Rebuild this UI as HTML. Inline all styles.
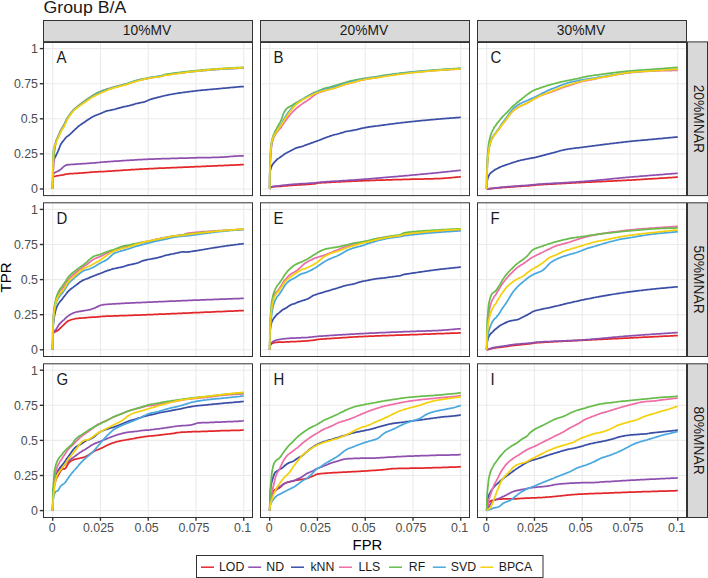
<!DOCTYPE html><html><head><meta charset="utf-8"><style>html,body{margin:0;padding:0;background:#fff;overflow:hidden;}svg{display:block;}text{font-family:"Liberation Sans",sans-serif;}</style></head><body>
<svg width="708" height="578" viewBox="0 0 708 578">
<rect x="0" y="0" width="708" height="578" fill="#fff"/>
<text x="43.6" y="12.8" font-size="17.2" fill="#1a1a1a" textLength="82.6" lengthAdjust="spacingAndGlyphs">Group B/A</text>
<rect x="43.5" y="20.5" width="209" height="21" fill="#D9D9D9" stroke="#333" stroke-width="1"/>
<text x="147.0" y="35" font-size="13.8" fill="#1a1a1a" text-anchor="middle">10%MV</text>
<rect x="260.5" y="20.5" width="209" height="21" fill="#D9D9D9" stroke="#333" stroke-width="1"/>
<text x="364.0" y="35" font-size="13.8" fill="#1a1a1a" text-anchor="middle">20%MV</text>
<rect x="477.5" y="20.5" width="209" height="21" fill="#D9D9D9" stroke="#333" stroke-width="1"/>
<text x="581.0" y="35" font-size="13.8" fill="#1a1a1a" text-anchor="middle">30%MV</text>
<rect x="687.5" y="41.9" width="20" height="153.7" fill="#D9D9D9" stroke="#333" stroke-width="1"/>
<text transform="translate(693.8,118.8) rotate(90)" x="0" y="0" font-size="13.8" fill="#1a1a1a" text-anchor="middle">20%MNAR</text>
<rect x="687.5" y="202.8" width="20" height="153.7" fill="#D9D9D9" stroke="#333" stroke-width="1"/>
<text transform="translate(693.8,279.6) rotate(90)" x="0" y="0" font-size="13.8" fill="#1a1a1a" text-anchor="middle">50%MNAR</text>
<rect x="687.5" y="363.8" width="20" height="153.7" fill="#D9D9D9" stroke="#333" stroke-width="1"/>
<text transform="translate(693.8,440.6) rotate(90)" x="0" y="0" font-size="13.8" fill="#1a1a1a" text-anchor="middle">80%MNAR</text>
<rect x="43.5" y="41.9" width="209" height="153.7" fill="#fff"/>
<path d="M52.70,41.9 V195.6 M100.46,41.9 V195.6 M148.23,41.9 V195.6 M195.99,41.9 V195.6 M243.75,41.9 V195.6 M43.5,189.00 H252.5 M43.5,153.90 H252.5 M43.5,118.80 H252.5 M43.5,83.70 H252.5 M43.5,48.60 H252.5" stroke="#EBEBEB" stroke-width="1.1" fill="none"/>
<g clip-path="url(#cp0)" fill="none" stroke-width="1.75" stroke-linejoin="round" stroke-linecap="butt">
<path d="M52.7,189.0 L52.8,179.8 L53.0,177.5 L53.0,177.5 L53.6,176.7 L53.7,176.7 L54.0,176.5 L54.6,176.3 L55.6,176.1 L56.0,176.0 L56.5,175.9 L57.5,175.8 L58.0,175.7 L58.4,175.6 L59.4,175.5 L60.3,175.3 L61.3,175.1 L61.9,175.1 L62.3,175.0 L63.2,174.8 L64.2,174.6 L65.1,174.3 L66.1,174.1 L67.0,174.0 L68.0,173.9 L68.9,173.8 L69.9,173.7 L70.8,173.7 L71.8,173.6 L72.8,173.5 L73.7,173.5 L74.7,173.4 L75.6,173.4 L76.6,173.3 L77.5,173.3 L78.5,173.2 L79.4,173.1 L80.4,173.1 L81.4,173.0 L82.3,172.9 L83.3,172.9 L84.2,172.8 L85.2,172.7 L86.1,172.6 L87.1,172.6 L88.0,172.5 L89.0,172.4 L90.0,172.3 L90.9,172.2 L91.9,172.2 L92.8,172.1 L93.8,172.0 L94.7,171.9 L95.7,171.9 L96.6,171.8 L97.6,171.8 L98.6,171.7 L99.5,171.7 L100.5,171.7 L101.4,171.6 L102.4,171.6 L103.3,171.5 L104.3,171.5 L105.2,171.4 L106.2,171.3 L107.1,171.3 L108.1,171.2 L109.1,171.1 L110.0,171.1 L111.0,171.0 L111.9,171.0 L112.9,170.9 L113.8,170.8 L114.8,170.8 L115.7,170.7 L116.7,170.6 L117.7,170.6 L118.6,170.5 L119.6,170.5 L120.5,170.4 L121.5,170.3 L122.4,170.3 L123.4,170.2 L124.3,170.1 L125.3,170.1 L126.3,170.0 L127.2,170.0 L128.2,169.9 L129.1,169.8 L130.1,169.8 L131.0,169.7 L132.0,169.7 L132.9,169.6 L133.9,169.5 L134.9,169.5 L135.8,169.4 L136.8,169.4 L137.7,169.3 L138.7,169.3 L139.6,169.2 L140.6,169.2 L141.5,169.1 L142.5,169.1 L143.4,169.0 L144.4,168.9 L145.4,168.9 L146.3,168.8 L147.3,168.8 L148.2,168.8 L149.2,168.7 L150.1,168.7 L151.1,168.6 L152.0,168.6 L153.0,168.5 L154.0,168.5 L154.9,168.4 L155.9,168.4 L156.8,168.3 L157.8,168.3 L158.7,168.2 L159.7,168.2 L160.6,168.2 L161.6,168.1 L162.6,168.1 L163.5,168.0 L164.5,168.0 L165.4,168.0 L166.4,167.9 L167.3,167.9 L168.3,167.8 L169.2,167.8 L170.2,167.8 L171.2,167.7 L172.1,167.7 L173.1,167.6 L174.0,167.6 L175.0,167.6 L175.9,167.5 L176.9,167.5 L177.8,167.4 L178.8,167.4 L179.7,167.4 L180.7,167.3 L181.7,167.3 L182.6,167.3 L183.6,167.2 L184.5,167.2 L185.5,167.1 L186.4,167.1 L187.4,167.1 L188.3,167.0 L189.3,167.0 L190.3,166.9 L191.2,166.9 L192.2,166.9 L193.1,166.8 L194.1,166.8 L195.0,166.7 L196.0,166.7 L196.9,166.7 L197.9,166.6 L198.9,166.6 L199.8,166.5 L200.8,166.5 L201.7,166.4 L202.7,166.4 L203.6,166.4 L204.6,166.3 L205.5,166.3 L206.5,166.2 L207.5,166.2 L208.4,166.2 L209.4,166.1 L210.3,166.1 L211.3,166.0 L212.2,166.0 L213.2,165.9 L214.1,165.9 L215.1,165.9 L216.0,165.8 L217.0,165.8 L218.0,165.7 L218.9,165.7 L219.9,165.7 L220.8,165.6 L221.8,165.6 L222.7,165.5 L223.7,165.5 L224.6,165.4 L225.6,165.4 L226.6,165.4 L227.5,165.3 L228.5,165.3 L229.4,165.2 L230.4,165.2 L231.3,165.2 L232.3,165.1 L233.2,165.1 L234.2,165.0 L235.2,165.0 L236.1,164.9 L237.1,164.9 L238.0,164.9 L239.0,164.8 L239.9,164.8 L240.9,164.7 L241.8,164.7 L242.8,164.7 L243.8,164.6" stroke="#E3262A"/>
<path d="M52.7,189.0 L52.8,177.9 L53.0,174.7 L53.0,174.6 L53.6,173.5 L53.7,173.4 L54.6,172.8 L55.0,172.6 L55.6,172.2 L56.5,171.7 L57.5,171.3 L57.5,171.3 L58.4,170.9 L59.0,170.6 L59.4,170.4 L60.3,169.6 L60.4,169.5 L61.3,168.9 L61.9,168.3 L62.3,167.9 L63.2,167.0 L63.4,166.8 L63.9,166.5 L64.2,166.3 L65.1,165.7 L66.1,165.1 L67.0,164.8 L68.0,164.7 L68.9,164.6 L69.9,164.5 L70.8,164.5 L71.8,164.4 L72.8,164.4 L73.7,164.3 L74.7,164.3 L75.6,164.2 L76.6,164.1 L77.5,164.1 L78.5,164.0 L79.4,163.9 L80.4,163.9 L81.4,163.8 L82.3,163.7 L83.3,163.7 L84.2,163.6 L85.2,163.5 L86.1,163.5 L87.1,163.4 L88.0,163.4 L89.0,163.3 L90.0,163.2 L90.9,163.2 L91.9,163.1 L92.8,163.0 L93.8,162.9 L94.7,162.9 L95.7,162.8 L96.6,162.7 L97.6,162.6 L98.6,162.5 L99.5,162.4 L100.5,162.3 L101.4,162.2 L102.4,162.1 L103.3,162.0 L104.3,161.9 L105.2,161.9 L106.2,161.8 L107.1,161.8 L108.1,161.7 L109.1,161.6 L110.0,161.6 L111.0,161.5 L111.9,161.4 L112.9,161.4 L113.8,161.3 L114.8,161.2 L115.7,161.2 L116.7,161.1 L117.7,161.0 L118.6,161.0 L119.6,160.9 L120.5,160.8 L121.5,160.8 L122.4,160.7 L123.4,160.6 L124.3,160.6 L125.3,160.5 L126.3,160.4 L127.2,160.4 L128.2,160.3 L129.1,160.3 L130.1,160.2 L131.0,160.1 L132.0,160.1 L132.9,160.0 L133.9,160.0 L134.9,159.9 L135.8,159.9 L136.8,159.8 L137.7,159.7 L138.7,159.7 L139.6,159.6 L140.6,159.6 L141.5,159.5 L142.5,159.5 L143.4,159.4 L144.4,159.4 L145.4,159.4 L146.3,159.3 L147.3,159.3 L148.2,159.2 L149.2,159.2 L150.1,159.2 L151.1,159.1 L152.0,159.1 L153.0,159.0 L154.0,159.0 L154.9,159.0 L155.9,158.9 L156.8,158.9 L157.8,158.9 L158.7,158.8 L159.7,158.8 L160.6,158.8 L161.6,158.7 L162.6,158.7 L163.5,158.7 L164.5,158.6 L165.4,158.6 L166.4,158.6 L167.3,158.6 L168.3,158.5 L169.2,158.5 L170.2,158.5 L171.2,158.4 L172.1,158.4 L173.1,158.4 L174.0,158.4 L175.0,158.3 L175.9,158.3 L176.9,158.3 L177.8,158.3 L178.8,158.2 L179.7,158.2 L180.7,158.2 L181.7,158.1 L182.6,158.1 L183.6,158.1 L184.5,158.1 L185.5,158.0 L186.4,158.0 L187.4,158.0 L188.3,158.0 L189.3,157.9 L190.3,157.9 L191.2,157.9 L192.2,157.9 L193.1,157.8 L194.1,157.8 L195.0,157.8 L196.0,157.8 L196.9,157.7 L197.9,157.7 L198.9,157.7 L199.8,157.7 L200.8,157.7 L201.7,157.6 L202.7,157.6 L203.6,157.6 L204.6,157.6 L205.5,157.6 L206.5,157.5 L207.5,157.5 L208.4,157.5 L209.4,157.5 L210.3,157.5 L211.3,157.5 L212.2,157.4 L213.2,157.4 L214.1,157.4 L215.1,157.4 L216.0,157.3 L217.0,157.3 L218.0,157.3 L218.9,157.3 L219.9,157.2 L220.8,157.2 L221.8,157.1 L222.7,157.1 L223.7,157.0 L224.6,157.0 L225.6,156.9 L226.6,156.8 L227.5,156.8 L228.5,156.7 L229.4,156.6 L230.4,156.5 L231.3,156.4 L232.3,156.4 L233.2,156.3 L234.2,156.2 L235.2,156.2 L236.1,156.1 L237.1,156.1 L238.0,156.0 L239.0,155.9 L239.9,155.9 L240.9,155.8 L241.8,155.8 L242.8,155.8 L243.8,155.7" stroke="#8E4FAE"/>
<path d="M52.7,189.0 L52.8,183.1 L53.0,175.2 L53.0,173.7 L53.4,164.3 L53.5,162.9 L53.6,162.2 L53.7,161.8 L54.4,158.8 L54.5,158.5 L54.6,158.2 L55.6,156.3 L56.0,155.5 L56.0,155.5 L56.1,155.4 L56.5,154.4 L57.5,152.4 L57.8,151.8 L58.4,150.2 L59.0,148.9 L59.4,147.8 L59.5,147.5 L60.3,145.2 L60.4,145.1 L61.2,143.7 L61.3,143.6 L61.9,142.6 L62.3,142.1 L63.0,141.2 L63.0,141.2 L63.2,141.0 L64.2,139.8 L65.1,138.5 L66.1,137.4 L67.0,136.5 L68.0,135.9 L68.9,135.2 L69.9,134.4 L70.8,133.5 L71.8,132.6 L72.8,131.6 L73.7,130.7 L74.7,129.8 L75.6,128.9 L76.6,128.1 L77.5,127.2 L78.5,126.3 L79.4,125.6 L80.4,124.9 L81.4,124.2 L82.3,123.6 L83.3,122.9 L84.2,122.3 L85.2,121.7 L86.1,121.0 L87.1,120.3 L88.0,119.7 L89.0,119.0 L90.0,118.4 L90.9,117.8 L91.9,117.2 L92.8,116.7 L93.8,116.3 L94.7,115.8 L95.7,115.4 L96.6,115.0 L97.6,114.7 L98.6,114.3 L99.5,113.9 L100.5,113.5 L101.4,113.1 L102.4,112.7 L103.3,112.3 L104.3,111.9 L105.2,111.5 L106.2,111.2 L107.1,110.9 L108.1,110.7 L109.1,110.5 L110.0,110.3 L111.0,110.1 L111.9,109.9 L112.9,109.7 L113.8,109.5 L114.8,109.3 L115.7,109.0 L116.7,108.7 L117.7,108.4 L118.6,108.1 L119.6,107.8 L120.5,107.6 L121.5,107.3 L122.4,107.1 L123.4,106.9 L124.3,106.7 L125.3,106.5 L126.3,106.3 L127.2,106.1 L128.2,105.9 L129.1,105.7 L130.1,105.4 L131.0,105.2 L132.0,104.9 L132.9,104.6 L133.9,104.3 L134.9,104.0 L135.8,103.7 L136.8,103.5 L137.7,103.3 L138.7,103.1 L139.6,102.9 L140.6,102.7 L141.5,102.5 L142.5,102.3 L143.4,102.1 L144.4,101.8 L145.4,101.5 L146.3,101.1 L147.3,100.7 L148.2,100.3 L149.2,99.9 L150.1,99.5 L151.1,99.2 L152.0,98.9 L153.0,98.6 L154.0,98.3 L154.9,98.1 L155.9,97.9 L156.8,97.6 L157.8,97.4 L158.7,97.2 L159.7,97.0 L160.6,96.7 L161.6,96.5 L162.6,96.2 L163.5,96.0 L164.5,95.7 L165.4,95.5 L166.4,95.3 L167.3,95.1 L168.3,94.9 L169.2,94.7 L170.2,94.5 L171.2,94.3 L172.1,94.2 L173.1,94.0 L174.0,93.8 L175.0,93.7 L175.9,93.5 L176.9,93.4 L177.8,93.2 L178.8,93.1 L179.7,92.9 L180.7,92.8 L181.7,92.7 L182.6,92.5 L183.6,92.4 L184.5,92.3 L185.5,92.1 L186.4,92.0 L187.4,91.9 L188.3,91.8 L189.3,91.6 L190.3,91.5 L191.2,91.4 L192.2,91.3 L193.1,91.2 L194.1,91.1 L195.0,91.0 L196.0,90.8 L196.9,90.7 L197.9,90.6 L198.9,90.5 L199.8,90.4 L200.8,90.3 L201.7,90.2 L202.7,90.2 L203.6,90.1 L204.6,90.0 L205.5,89.9 L206.5,89.8 L207.5,89.7 L208.4,89.6 L209.4,89.5 L210.3,89.4 L211.3,89.4 L212.2,89.3 L213.2,89.2 L214.1,89.1 L215.1,89.0 L216.0,88.9 L217.0,88.9 L218.0,88.8 L218.9,88.7 L219.9,88.6 L220.8,88.5 L221.8,88.4 L222.7,88.3 L223.7,88.2 L224.6,88.2 L225.6,88.1 L226.6,88.0 L227.5,87.9 L228.5,87.8 L229.4,87.7 L230.4,87.6 L231.3,87.5 L232.3,87.4 L233.2,87.4 L234.2,87.3 L235.2,87.2 L236.1,87.1 L237.1,87.0 L238.0,86.9 L239.0,86.8 L239.9,86.7 L240.9,86.6 L241.8,86.6 L242.8,86.5 L243.8,86.5" stroke="#3B4EA6"/>
<path d="M52.7,189.0 L52.8,185.0 L53.0,178.9 L53.2,173.8 L53.6,162.9 L53.7,161.4 L53.8,158.6 L54.3,150.5 L54.5,148.9 L54.6,148.0 L55.0,145.8 L55.6,143.0 L56.0,141.3 L56.5,139.9 L56.8,139.3 L57.5,137.7 L57.5,137.7 L57.8,137.1 L58.4,135.5 L59.0,134.3 L59.4,133.3 L60.3,131.0 L60.3,131.0 L60.4,130.9 L61.3,129.4 L62.1,128.0 L62.3,127.7 L62.9,126.6 L63.0,126.5 L63.2,126.1 L64.2,124.5 L65.1,122.4 L66.1,120.3 L67.0,118.6 L68.0,117.2 L68.9,115.8 L69.9,114.5 L70.8,113.2 L71.8,111.9 L72.8,110.7 L73.7,109.7 L74.7,108.8 L75.6,108.0 L76.6,107.2 L77.5,106.5 L78.5,105.7 L79.4,105.0 L80.4,104.2 L81.4,103.4 L82.3,102.7 L83.3,102.0 L84.2,101.3 L85.2,100.6 L86.1,99.9 L87.1,99.3 L88.0,98.6 L89.0,98.0 L90.0,97.4 L90.9,96.7 L91.9,96.1 L92.8,95.5 L93.8,95.0 L94.7,94.4 L95.7,93.9 L96.6,93.3 L97.6,92.8 L98.6,92.4 L99.5,91.9 L100.5,91.5 L101.4,91.1 L102.4,90.7 L103.3,90.4 L104.3,90.1 L105.2,89.7 L106.2,89.4 L107.1,89.1 L108.1,88.8 L109.1,88.5 L110.0,88.3 L111.0,88.0 L111.9,87.7 L112.9,87.5 L113.8,87.2 L114.8,87.0 L115.7,86.7 L116.7,86.5 L117.7,86.2 L118.6,86.0 L119.6,85.7 L120.5,85.5 L121.5,85.2 L122.4,85.0 L123.4,84.7 L124.3,84.5 L125.3,84.3 L126.3,84.0 L127.2,83.8 L128.2,83.5 L129.1,83.2 L130.1,82.9 L131.0,82.6 L132.0,82.3 L132.9,81.9 L133.9,81.6 L134.9,81.3 L135.8,81.0 L136.8,80.7 L137.7,80.5 L138.7,80.3 L139.6,80.1 L140.6,79.9 L141.5,79.7 L142.5,79.5 L143.4,79.3 L144.4,79.1 L145.4,79.0 L146.3,78.8 L147.3,78.6 L148.2,78.4 L149.2,78.2 L150.1,78.0 L151.1,77.8 L152.0,77.7 L153.0,77.5 L154.0,77.3 L154.9,77.2 L155.9,77.1 L156.8,76.9 L157.8,76.8 L158.7,76.6 L159.7,76.5 L160.6,76.3 L161.6,76.1 L162.6,75.8 L163.5,75.5 L164.5,75.2 L165.4,75.0 L166.4,74.8 L167.3,74.7 L168.3,74.5 L169.2,74.4 L170.2,74.3 L171.2,74.1 L172.1,74.0 L173.1,73.9 L174.0,73.7 L175.0,73.6 L175.9,73.5 L176.9,73.4 L177.8,73.2 L178.8,73.1 L179.7,73.0 L180.7,72.9 L181.7,72.8 L182.6,72.7 L183.6,72.5 L184.5,72.4 L185.5,72.3 L186.4,72.2 L187.4,72.1 L188.3,72.0 L189.3,71.9 L190.3,71.8 L191.2,71.7 L192.2,71.6 L193.1,71.5 L194.1,71.4 L195.0,71.3 L196.0,71.2 L196.9,71.1 L197.9,71.0 L198.9,70.9 L199.8,70.9 L200.8,70.8 L201.7,70.7 L202.7,70.6 L203.6,70.5 L204.6,70.4 L205.5,70.3 L206.5,70.3 L207.5,70.2 L208.4,70.1 L209.4,70.0 L210.3,69.9 L211.3,69.9 L212.2,69.8 L213.2,69.7 L214.1,69.6 L215.1,69.6 L216.0,69.5 L217.0,69.4 L218.0,69.4 L218.9,69.3 L219.9,69.2 L220.8,69.2 L221.8,69.1 L222.7,69.0 L223.7,69.0 L224.6,68.9 L225.6,68.9 L226.6,68.8 L227.5,68.8 L228.5,68.7 L229.4,68.7 L230.4,68.6 L231.3,68.6 L232.3,68.5 L233.2,68.5 L234.2,68.4 L235.2,68.4 L236.1,68.3 L237.1,68.3 L238.0,68.2 L239.0,68.2 L239.9,68.1 L240.9,68.1 L241.8,68.0 L242.8,68.0 L243.8,68.0" stroke="#EE6EA7"/>
<path d="M52.7,189.0 L52.8,172.0 L53.0,162.2 L53.2,157.9 L53.3,155.3 L53.6,149.7 L53.7,158.6 L53.8,157.3 L53.9,156.1 L54.5,150.6 L54.6,149.7 L54.8,148.6 L55.1,146.7 L55.6,144.1 L56.2,141.4 L56.4,140.9 L56.5,140.5 L57.5,138.2 L57.5,138.2 L58.0,137.1 L58.4,136.0 L59.0,134.8 L59.4,133.8 L60.3,131.4 L60.4,131.2 L60.5,131.1 L61.3,129.7 L62.3,128.0 L62.3,128.0 L62.9,126.9 L63.0,126.8 L63.2,126.5 L64.2,124.9 L65.1,122.7 L66.1,120.5 L67.0,118.7 L68.0,117.3 L68.9,115.9 L69.9,114.5 L70.8,113.2 L71.8,111.9 L72.8,110.8 L73.7,109.7 L74.7,108.8 L75.6,108.0 L76.6,107.3 L77.5,106.6 L78.5,105.8 L79.4,105.1 L80.4,104.3 L81.4,103.6 L82.3,102.8 L83.3,102.1 L84.2,101.4 L85.2,100.7 L86.1,100.0 L87.1,99.3 L88.0,98.7 L89.0,98.0 L90.0,97.3 L90.9,96.7 L91.9,96.1 L92.8,95.5 L93.8,94.9 L94.7,94.3 L95.7,93.8 L96.6,93.3 L97.6,92.8 L98.6,92.3 L99.5,91.9 L100.5,91.5 L101.4,91.1 L102.4,90.7 L103.3,90.4 L104.3,90.1 L105.2,89.7 L106.2,89.4 L107.1,89.1 L108.1,88.8 L109.1,88.5 L110.0,88.3 L111.0,88.0 L111.9,87.7 L112.9,87.5 L113.8,87.2 L114.8,87.0 L115.7,86.7 L116.7,86.5 L117.7,86.2 L118.6,86.0 L119.6,85.7 L120.5,85.5 L121.5,85.2 L122.4,84.9 L123.4,84.7 L124.3,84.4 L125.3,84.1 L126.3,83.8 L127.2,83.5 L128.2,83.2 L129.1,82.9 L130.1,82.6 L131.0,82.2 L132.0,81.9 L132.9,81.5 L133.9,81.2 L134.9,80.8 L135.8,80.5 L136.8,80.3 L137.7,80.0 L138.7,79.8 L139.6,79.6 L140.6,79.4 L141.5,79.3 L142.5,79.1 L143.4,78.9 L144.4,78.7 L145.4,78.5 L146.3,78.3 L147.3,78.1 L148.2,77.9 L149.2,77.7 L150.1,77.6 L151.1,77.4 L152.0,77.2 L153.0,77.1 L154.0,76.9 L154.9,76.8 L155.9,76.6 L156.8,76.5 L157.8,76.3 L158.7,76.2 L159.7,76.0 L160.6,75.8 L161.6,75.6 L162.6,75.3 L163.5,74.9 L164.5,74.6 L165.4,74.4 L166.4,74.2 L167.3,74.1 L168.3,73.9 L169.2,73.8 L170.2,73.7 L171.2,73.5 L172.1,73.4 L173.1,73.3 L174.0,73.1 L175.0,73.0 L175.9,72.9 L176.9,72.8 L177.8,72.6 L178.8,72.5 L179.7,72.4 L180.7,72.3 L181.7,72.2 L182.6,72.1 L183.6,71.9 L184.5,71.8 L185.5,71.7 L186.4,71.6 L187.4,71.5 L188.3,71.4 L189.3,71.3 L190.3,71.2 L191.2,71.1 L192.2,71.0 L193.1,70.9 L194.1,70.8 L195.0,70.7 L196.0,70.6 L196.9,70.5 L197.9,70.4 L198.9,70.3 L199.8,70.3 L200.8,70.2 L201.7,70.1 L202.7,70.0 L203.6,69.9 L204.6,69.8 L205.5,69.7 L206.5,69.7 L207.5,69.6 L208.4,69.5 L209.4,69.4 L210.3,69.3 L211.3,69.3 L212.2,69.2 L213.2,69.1 L214.1,69.0 L215.1,69.0 L216.0,68.9 L217.0,68.8 L218.0,68.8 L218.9,68.7 L219.9,68.6 L220.8,68.6 L221.8,68.5 L222.7,68.4 L223.7,68.4 L224.6,68.3 L225.6,68.3 L226.6,68.2 L227.5,68.2 L228.5,68.1 L229.4,68.1 L230.4,68.0 L231.3,68.0 L232.3,67.9 L233.2,67.9 L234.2,67.8 L235.2,67.8 L236.1,67.7 L237.1,67.7 L238.0,67.6 L239.0,67.6 L239.9,67.5 L240.9,67.5 L241.8,67.4 L242.8,67.4 L243.8,67.4" stroke="#67BC4C"/>
<path d="M52.7,189.0 L52.8,172.0 L53.0,162.9 L53.2,158.8 L53.6,151.1 L53.7,150.3 L53.8,148.8 L53.9,147.4 L54.5,146.5 L54.6,146.1 L54.8,145.6 L54.8,145.6 L55.6,143.1 L56.4,140.5 L56.5,140.1 L57.5,138.1 L57.5,138.0 L58.3,136.6 L58.4,136.2 L59.0,135.1 L59.4,134.2 L60.3,131.9 L60.4,131.7 L60.8,131.0 L61.3,130.2 L62.3,128.6 L62.6,128.1 L62.9,127.6 L63.0,127.5 L63.2,127.2 L64.2,125.6 L65.1,123.4 L66.1,121.2 L67.0,119.3 L68.0,117.8 L68.9,116.4 L69.9,115.0 L70.8,113.7 L71.8,112.4 L72.8,111.3 L73.7,110.2 L74.7,109.3 L75.6,108.5 L76.6,107.8 L77.5,107.1 L78.5,106.4 L79.4,105.6 L80.4,104.9 L81.4,104.2 L82.3,103.5 L83.3,102.8 L84.2,102.2 L85.2,101.5 L86.1,100.8 L87.1,100.1 L88.0,99.4 L89.0,98.8 L90.0,98.1 L90.9,97.4 L91.9,96.8 L92.8,96.2 L93.8,95.7 L94.7,95.1 L95.7,94.6 L96.6,94.1 L97.6,93.7 L98.6,93.2 L99.5,92.8 L100.5,92.3 L101.4,91.9 L102.4,91.5 L103.3,91.1 L104.3,90.8 L105.2,90.4 L106.2,90.0 L107.1,89.7 L108.1,89.4 L109.1,89.0 L110.0,88.7 L111.0,88.4 L111.9,88.1 L112.9,87.8 L113.8,87.5 L114.8,87.3 L115.7,87.0 L116.7,86.7 L117.7,86.5 L118.6,86.3 L119.6,86.0 L120.5,85.8 L121.5,85.5 L122.4,85.2 L123.4,85.0 L124.3,84.7 L125.3,84.4 L126.3,84.1 L127.2,83.8 L128.2,83.5 L129.1,83.2 L130.1,82.9 L131.0,82.6 L132.0,82.3 L132.9,81.9 L133.9,81.6 L134.9,81.3 L135.8,81.0 L136.8,80.7 L137.7,80.4 L138.7,80.2 L139.6,79.9 L140.6,79.7 L141.5,79.5 L142.5,79.3 L143.4,79.1 L144.4,78.9 L145.4,78.7 L146.3,78.4 L147.3,78.3 L148.2,78.1 L149.2,77.9 L150.1,77.7 L151.1,77.5 L152.0,77.4 L153.0,77.2 L154.0,77.1 L154.9,76.9 L155.9,76.8 L156.8,76.7 L157.8,76.6 L158.7,76.4 L159.7,76.3 L160.6,76.1 L161.6,75.9 L162.6,75.7 L163.5,75.4 L164.5,75.2 L165.4,75.0 L166.4,74.8 L167.3,74.7 L168.3,74.5 L169.2,74.4 L170.2,74.3 L171.2,74.1 L172.1,74.0 L173.1,73.9 L174.0,73.7 L175.0,73.6 L175.9,73.5 L176.9,73.4 L177.8,73.2 L178.8,73.1 L179.7,73.0 L180.7,72.9 L181.7,72.8 L182.6,72.7 L183.6,72.5 L184.5,72.4 L185.5,72.3 L186.4,72.2 L187.4,72.1 L188.3,72.0 L189.3,71.9 L190.3,71.8 L191.2,71.7 L192.2,71.6 L193.1,71.5 L194.1,71.4 L195.0,71.3 L196.0,71.2 L196.9,71.1 L197.9,71.0 L198.9,70.9 L199.8,70.9 L200.8,70.8 L201.7,70.7 L202.7,70.6 L203.6,70.5 L204.6,70.4 L205.5,70.3 L206.5,70.3 L207.5,70.2 L208.4,70.1 L209.4,70.0 L210.3,69.9 L211.3,69.9 L212.2,69.8 L213.2,69.7 L214.1,69.6 L215.1,69.6 L216.0,69.5 L217.0,69.4 L218.0,69.4 L218.9,69.3 L219.9,69.2 L220.8,69.2 L221.8,69.1 L222.7,69.0 L223.7,69.0 L224.6,68.9 L225.6,68.9 L226.6,68.8 L227.5,68.8 L228.5,68.7 L229.4,68.7 L230.4,68.6 L231.3,68.6 L232.3,68.5 L233.2,68.5 L234.2,68.4 L235.2,68.4 L236.1,68.3 L237.1,68.3 L238.0,68.2 L239.0,68.2 L239.9,68.1 L240.9,68.1 L241.8,68.0 L242.8,68.0 L243.8,68.0" stroke="#4AA8DE"/>
<path d="M52.7,189.0 L52.8,173.9 L53.0,164.2 L53.2,159.9 L53.6,152.1 L53.7,151.3 L53.8,149.8 L54.3,145.3 L54.5,145.8 L54.6,146.0 L54.8,146.0 L55.2,145.2 L55.6,144.3 L56.4,141.7 L56.5,141.3 L56.9,140.1 L57.5,138.9 L57.5,138.9 L58.4,137.1 L58.7,136.6 L59.0,136.0 L59.4,135.1 L60.3,133.0 L60.4,132.8 L61.2,131.2 L61.3,131.1 L62.3,129.4 L62.9,128.4 L63.0,128.3 L63.0,128.3 L63.2,128.0 L64.2,126.5 L65.1,124.3 L66.1,122.0 L67.0,120.0 L68.0,118.4 L68.9,117.0 L69.9,115.6 L70.8,114.2 L71.8,112.9 L72.8,111.8 L73.7,110.7 L74.7,109.8 L75.6,109.0 L76.6,108.2 L77.5,107.5 L78.5,106.8 L79.4,106.1 L80.4,105.4 L81.4,104.8 L82.3,104.1 L83.3,103.5 L84.2,102.8 L85.2,102.1 L86.1,101.5 L87.1,100.8 L88.0,100.1 L89.0,99.5 L90.0,98.8 L90.9,98.1 L91.9,97.5 L92.8,97.0 L93.8,96.4 L94.7,95.9 L95.7,95.4 L96.6,95.0 L97.6,94.5 L98.6,94.1 L99.5,93.6 L100.5,93.2 L101.4,92.8 L102.4,92.3 L103.3,91.9 L104.3,91.5 L105.2,91.1 L106.2,90.7 L107.1,90.3 L108.1,89.9 L109.1,89.5 L110.0,89.2 L111.0,88.8 L111.9,88.5 L112.9,88.2 L113.8,87.9 L114.8,87.6 L115.7,87.3 L116.7,87.1 L117.7,86.9 L118.6,86.6 L119.6,86.4 L120.5,86.2 L121.5,85.9 L122.4,85.7 L123.4,85.4 L124.3,85.2 L125.3,84.9 L126.3,84.6 L127.2,84.3 L128.2,84.0 L129.1,83.7 L130.1,83.4 L131.0,83.0 L132.0,82.7 L132.9,82.4 L133.9,82.0 L134.9,81.7 L135.8,81.4 L136.8,81.1 L137.7,80.8 L138.7,80.6 L139.6,80.3 L140.6,80.1 L141.5,79.8 L142.5,79.6 L143.4,79.4 L144.4,79.1 L145.4,78.9 L146.3,78.7 L147.3,78.5 L148.2,78.3 L149.2,78.2 L150.1,78.0 L151.1,77.8 L152.0,77.7 L153.0,77.5 L154.0,77.4 L154.9,77.3 L155.9,77.2 L156.8,77.0 L157.8,76.9 L158.7,76.8 L159.7,76.7 L160.6,76.5 L161.6,76.3 L162.6,76.0 L163.5,75.7 L164.5,75.4 L165.4,75.2 L166.4,75.1 L167.3,75.0 L168.3,74.8 L169.2,74.7 L170.2,74.6 L171.2,74.4 L172.1,74.3 L173.1,74.2 L174.0,74.0 L175.0,73.9 L175.9,73.8 L176.9,73.6 L177.8,73.5 L178.8,73.4 L179.7,73.2 L180.7,73.1 L181.7,73.0 L182.6,72.8 L183.6,72.7 L184.5,72.6 L185.5,72.5 L186.4,72.3 L187.4,72.2 L188.3,72.1 L189.3,72.0 L190.3,71.9 L191.2,71.8 L192.2,71.6 L193.1,71.5 L194.1,71.4 L195.0,71.3 L196.0,71.2 L196.9,71.1 L197.9,71.0 L198.9,70.9 L199.8,70.8 L200.8,70.7 L201.7,70.6 L202.7,70.5 L203.6,70.4 L204.6,70.3 L205.5,70.2 L206.5,70.1 L207.5,70.0 L208.4,69.9 L209.4,69.8 L210.3,69.7 L211.3,69.6 L212.2,69.6 L213.2,69.5 L214.1,69.4 L215.1,69.3 L216.0,69.2 L217.0,69.2 L218.0,69.1 L218.9,69.0 L219.9,68.9 L220.8,68.9 L221.8,68.8 L222.7,68.7 L223.7,68.7 L224.6,68.6 L225.6,68.6 L226.6,68.5 L227.5,68.5 L228.5,68.4 L229.4,68.4 L230.4,68.3 L231.3,68.3 L232.3,68.2 L233.2,68.2 L234.2,68.1 L235.2,68.1 L236.1,68.0 L237.1,68.0 L238.0,67.9 L239.0,67.9 L239.9,67.8 L240.9,67.8 L241.8,67.7 L242.8,67.7 L243.8,67.7" stroke="#F4D10C"/>
</g>
<rect x="43.5" y="42.5" width="209" height="153.1" fill="none" stroke="#333" stroke-width="1"/>
<text transform="translate(56.6,62.7) scale(0.88,1)" x="0" y="0" font-size="17" fill="#1a1a1a">A</text>
<rect x="260.5" y="41.9" width="209" height="153.7" fill="#fff"/>
<path d="M269.70,41.9 V195.6 M317.46,41.9 V195.6 M365.23,41.9 V195.6 M412.99,41.9 V195.6 M460.75,41.9 V195.6 M260.5,189.00 H469.5 M260.5,153.90 H469.5 M260.5,118.80 H469.5 M260.5,83.70 H469.5 M260.5,48.60 H469.5" stroke="#EBEBEB" stroke-width="1.1" fill="none"/>
<g clip-path="url(#cp1)" fill="none" stroke-width="1.75" stroke-linejoin="round" stroke-linecap="butt">
<path d="M269.7,189.0 L270.7,187.3 L271.0,187.1 L271.5,187.0 L271.6,186.9 L272.6,186.8 L273.5,186.7 L274.5,186.7 L275.4,186.6 L276.4,186.6 L277.3,186.5 L278.3,186.4 L278.9,186.4 L279.3,186.4 L280.2,186.3 L281.2,186.3 L282.1,186.2 L283.1,186.1 L284.0,186.0 L285.0,185.9 L285.9,185.8 L286.9,185.8 L287.8,185.7 L288.8,185.6 L289.8,185.5 L290.7,185.4 L291.7,185.4 L292.6,185.3 L293.6,185.2 L294.5,185.2 L295.5,185.1 L296.4,185.1 L297.4,185.0 L298.4,184.9 L299.3,184.9 L300.3,184.8 L301.2,184.8 L302.2,184.7 L303.1,184.6 L304.1,184.6 L305.0,184.5 L306.0,184.5 L307.0,184.4 L307.9,184.3 L308.9,184.3 L309.8,184.2 L310.8,184.2 L311.7,184.1 L312.7,184.0 L313.6,183.9 L314.6,183.8 L315.6,183.6 L316.5,183.4 L317.5,183.2 L318.4,183.0 L319.4,182.9 L320.3,182.9 L321.3,182.8 L322.2,182.7 L323.2,182.7 L324.1,182.6 L325.1,182.6 L326.1,182.5 L327.0,182.5 L328.0,182.4 L328.9,182.4 L329.9,182.3 L330.8,182.3 L331.8,182.2 L332.7,182.2 L333.7,182.1 L334.7,182.0 L335.6,182.0 L336.6,181.9 L337.5,181.9 L338.5,181.8 L339.4,181.8 L340.4,181.8 L341.3,181.7 L342.3,181.7 L343.3,181.6 L344.2,181.6 L345.2,181.5 L346.1,181.5 L347.1,181.4 L348.0,181.4 L349.0,181.3 L349.9,181.3 L350.9,181.3 L351.9,181.2 L352.8,181.2 L353.8,181.1 L354.7,181.1 L355.7,181.0 L356.6,181.0 L357.6,181.0 L358.5,180.9 L359.5,180.9 L360.4,180.8 L361.4,180.8 L362.4,180.8 L363.3,180.7 L364.3,180.7 L365.2,180.7 L366.2,180.6 L367.1,180.6 L368.1,180.5 L369.0,180.5 L370.0,180.5 L371.0,180.4 L371.9,180.4 L372.9,180.4 L373.8,180.3 L374.8,180.3 L375.7,180.3 L376.7,180.2 L377.6,180.2 L378.6,180.2 L379.6,180.2 L380.5,180.1 L381.5,180.1 L382.4,180.1 L383.4,180.0 L384.3,180.0 L385.3,180.0 L386.2,179.9 L387.2,179.9 L388.2,179.9 L389.1,179.9 L390.1,179.8 L391.0,179.8 L392.0,179.8 L392.9,179.7 L393.9,179.7 L394.8,179.7 L395.8,179.7 L396.7,179.6 L397.7,179.6 L398.7,179.6 L399.6,179.5 L400.6,179.5 L401.5,179.5 L402.5,179.5 L403.4,179.4 L404.4,179.4 L405.3,179.4 L406.3,179.4 L407.3,179.3 L408.2,179.3 L409.2,179.3 L410.1,179.3 L411.1,179.2 L412.0,179.2 L413.0,179.2 L413.9,179.2 L414.9,179.1 L415.9,179.1 L416.8,179.1 L417.8,179.1 L418.7,179.1 L419.7,179.0 L420.6,179.0 L421.6,179.0 L422.5,179.0 L423.5,179.0 L424.5,178.9 L425.4,178.9 L426.4,178.9 L427.3,178.9 L428.3,178.9 L429.2,178.8 L430.2,178.8 L431.1,178.8 L432.1,178.8 L433.0,178.8 L434.0,178.7 L435.0,178.7 L435.9,178.7 L436.9,178.6 L437.8,178.6 L438.8,178.6 L439.7,178.5 L440.7,178.5 L441.6,178.4 L442.6,178.4 L443.6,178.3 L444.5,178.2 L445.5,178.2 L446.4,178.1 L447.4,178.0 L448.3,177.9 L449.3,177.8 L450.2,177.8 L451.2,177.7 L452.2,177.6 L453.1,177.5 L454.1,177.4 L455.0,177.3 L456.0,177.2 L456.9,177.1 L457.9,177.1 L458.8,177.0 L459.8,176.9 L460.8,176.9" stroke="#E3262A"/>
<path d="M269.7,189.0 L270.7,187.3 L271.0,187.1 L271.5,186.9 L271.6,186.8 L272.6,186.6 L273.5,186.4 L274.5,186.3 L275.4,186.2 L276.4,186.1 L277.3,186.0 L278.3,185.9 L278.9,185.8 L279.3,185.8 L280.2,185.7 L281.2,185.6 L282.1,185.4 L283.1,185.3 L284.0,185.2 L285.0,185.1 L285.9,185.0 L286.9,184.9 L287.8,184.8 L288.8,184.7 L289.8,184.6 L290.7,184.5 L291.7,184.4 L292.6,184.3 L293.6,184.3 L294.5,184.2 L295.5,184.1 L296.4,184.1 L297.4,184.0 L298.4,183.9 L299.3,183.9 L300.3,183.8 L301.2,183.7 L302.2,183.7 L303.1,183.6 L304.1,183.6 L305.0,183.5 L306.0,183.5 L307.0,183.4 L307.9,183.4 L308.9,183.3 L309.8,183.2 L310.8,183.2 L311.7,183.1 L312.7,183.1 L313.6,183.0 L314.6,182.9 L315.6,182.8 L316.5,182.6 L317.5,182.5 L318.4,182.4 L319.4,182.3 L320.3,182.2 L321.3,182.1 L322.2,182.1 L323.2,182.0 L324.1,181.9 L325.1,181.8 L326.1,181.8 L327.0,181.7 L328.0,181.6 L328.9,181.6 L329.9,181.5 L330.8,181.4 L331.8,181.4 L332.7,181.3 L333.7,181.3 L334.7,181.2 L335.6,181.1 L336.6,181.1 L337.5,181.0 L338.5,181.0 L339.4,180.9 L340.4,180.8 L341.3,180.8 L342.3,180.7 L343.3,180.6 L344.2,180.6 L345.2,180.5 L346.1,180.5 L347.1,180.4 L348.0,180.3 L349.0,180.3 L349.9,180.2 L350.9,180.2 L351.9,180.1 L352.8,180.0 L353.8,180.0 L354.7,179.9 L355.7,179.8 L356.6,179.8 L357.6,179.7 L358.5,179.6 L359.5,179.6 L360.4,179.5 L361.4,179.4 L362.4,179.4 L363.3,179.3 L364.3,179.2 L365.2,179.1 L366.2,179.1 L367.1,179.0 L368.1,178.9 L369.0,178.8 L370.0,178.8 L371.0,178.7 L371.9,178.6 L372.9,178.5 L373.8,178.4 L374.8,178.3 L375.7,178.3 L376.7,178.2 L377.6,178.1 L378.6,178.0 L379.6,177.9 L380.5,177.8 L381.5,177.8 L382.4,177.7 L383.4,177.6 L384.3,177.5 L385.3,177.4 L386.2,177.4 L387.2,177.3 L388.2,177.2 L389.1,177.1 L390.1,177.0 L391.0,176.9 L392.0,176.9 L392.9,176.8 L393.9,176.7 L394.8,176.6 L395.8,176.5 L396.7,176.5 L397.7,176.4 L398.7,176.3 L399.6,176.2 L400.6,176.1 L401.5,176.0 L402.5,176.0 L403.4,175.9 L404.4,175.8 L405.3,175.7 L406.3,175.6 L407.3,175.5 L408.2,175.5 L409.2,175.4 L410.1,175.3 L411.1,175.2 L412.0,175.1 L413.0,175.0 L413.9,174.9 L414.9,174.9 L415.9,174.8 L416.8,174.7 L417.8,174.6 L418.7,174.5 L419.7,174.4 L420.6,174.3 L421.6,174.2 L422.5,174.2 L423.5,174.1 L424.5,174.0 L425.4,173.9 L426.4,173.8 L427.3,173.7 L428.3,173.6 L429.2,173.5 L430.2,173.4 L431.1,173.3 L432.1,173.3 L433.0,173.2 L434.0,173.1 L435.0,173.0 L435.9,172.9 L436.9,172.8 L437.8,172.7 L438.8,172.6 L439.7,172.5 L440.7,172.4 L441.6,172.3 L442.6,172.2 L443.6,172.1 L444.5,172.0 L445.5,171.9 L446.4,171.8 L447.4,171.7 L448.3,171.6 L449.3,171.5 L450.2,171.4 L451.2,171.3 L452.2,171.2 L453.1,171.1 L454.1,171.0 L455.0,170.9 L456.0,170.8 L456.9,170.7 L457.9,170.6 L458.8,170.5 L459.8,170.4 L460.8,170.3" stroke="#8E4FAE"/>
<path d="M269.7,189.0 L269.8,173.9 L270.0,171.5 L270.6,169.5 L270.7,169.2 L270.9,168.4 L271.6,166.3 L272.0,165.5 L272.6,164.5 L273.0,163.9 L273.5,163.2 L274.5,162.1 L275.0,161.6 L275.4,161.1 L276.4,160.1 L277.3,159.1 L277.4,159.0 L277.9,158.8 L278.3,158.6 L279.3,157.9 L280.2,157.2 L280.9,156.7 L281.2,156.6 L282.1,155.9 L283.1,155.2 L284.0,154.4 L285.0,153.8 L285.9,153.2 L286.9,152.7 L287.8,152.2 L288.8,151.7 L289.8,151.3 L290.7,150.8 L291.7,150.3 L292.6,149.8 L293.6,149.3 L294.5,148.8 L295.5,148.3 L296.4,147.9 L297.4,147.6 L298.4,147.3 L299.3,147.1 L300.3,146.9 L301.2,146.7 L302.2,146.4 L303.1,146.1 L304.1,145.7 L305.0,145.3 L306.0,144.9 L307.0,144.6 L307.9,144.2 L308.9,143.9 L309.8,143.6 L310.8,143.2 L311.7,142.9 L312.7,142.6 L313.6,142.2 L314.6,141.9 L315.6,141.5 L316.5,141.1 L317.5,140.8 L318.4,140.5 L319.4,140.1 L320.3,139.8 L321.3,139.4 L322.2,139.0 L323.2,138.7 L324.1,138.3 L325.1,137.9 L326.1,137.5 L327.0,137.2 L328.0,136.8 L328.9,136.5 L329.9,136.1 L330.8,135.8 L331.8,135.5 L332.7,135.2 L333.7,135.0 L334.7,134.7 L335.6,134.5 L336.6,134.3 L337.5,134.0 L338.5,133.8 L339.4,133.5 L340.4,133.2 L341.3,132.9 L342.3,132.6 L343.3,132.3 L344.2,132.0 L345.2,131.7 L346.1,131.5 L347.1,131.3 L348.0,131.2 L349.0,131.0 L349.9,130.9 L350.9,130.7 L351.9,130.6 L352.8,130.4 L353.8,130.2 L354.7,130.0 L355.7,129.8 L356.6,129.6 L357.6,129.3 L358.5,129.1 L359.5,128.9 L360.4,128.6 L361.4,128.4 L362.4,128.2 L363.3,128.0 L364.3,127.8 L365.2,127.6 L366.2,127.4 L367.1,127.3 L368.1,127.1 L369.0,126.9 L370.0,126.8 L371.0,126.7 L371.9,126.6 L372.9,126.4 L373.8,126.3 L374.8,126.2 L375.7,126.1 L376.7,126.0 L377.6,125.9 L378.6,125.7 L379.6,125.6 L380.5,125.5 L381.5,125.3 L382.4,125.2 L383.4,125.1 L384.3,124.9 L385.3,124.8 L386.2,124.7 L387.2,124.5 L388.2,124.4 L389.1,124.3 L390.1,124.1 L391.0,124.0 L392.0,123.9 L392.9,123.8 L393.9,123.7 L394.8,123.5 L395.8,123.4 L396.7,123.3 L397.7,123.2 L398.7,123.1 L399.6,123.0 L400.6,122.9 L401.5,122.7 L402.5,122.6 L403.4,122.5 L404.4,122.4 L405.3,122.3 L406.3,122.2 L407.3,122.1 L408.2,122.0 L409.2,121.9 L410.1,121.8 L411.1,121.7 L412.0,121.6 L413.0,121.5 L413.9,121.4 L414.9,121.3 L415.9,121.2 L416.8,121.1 L417.8,121.0 L418.7,120.9 L419.7,120.8 L420.6,120.7 L421.6,120.6 L422.5,120.5 L423.5,120.4 L424.5,120.4 L425.4,120.3 L426.4,120.2 L427.3,120.1 L428.3,120.0 L429.2,119.9 L430.2,119.8 L431.1,119.7 L432.1,119.7 L433.0,119.6 L434.0,119.5 L435.0,119.4 L435.9,119.3 L436.9,119.2 L437.8,119.1 L438.8,119.1 L439.7,119.0 L440.7,118.9 L441.6,118.8 L442.6,118.7 L443.6,118.7 L444.5,118.6 L445.5,118.5 L446.4,118.4 L447.4,118.4 L448.3,118.3 L449.3,118.2 L450.2,118.1 L451.2,118.1 L452.2,118.0 L453.1,117.9 L454.1,117.8 L455.0,117.8 L456.0,117.7 L456.9,117.6 L457.9,117.5 L458.8,117.5 L459.8,117.4 L460.8,117.4" stroke="#3B4EA6"/>
<path d="M269.7,189.0 L269.8,174.0 L270.3,161.1 L270.4,159.8 L270.7,155.6 L270.9,152.4 L271.4,147.7 L271.6,146.1 L272.6,141.2 L273.0,139.8 L273.0,139.7 L273.5,138.2 L274.5,136.2 L275.4,134.5 L276.0,133.7 L276.4,133.0 L277.3,131.7 L277.4,131.6 L278.3,130.5 L279.3,129.3 L279.9,128.6 L280.0,128.6 L280.2,128.4 L281.2,127.3 L282.1,125.9 L283.1,124.3 L284.0,122.8 L285.0,121.5 L285.9,120.2 L286.9,118.9 L287.8,117.6 L288.8,116.4 L289.8,115.2 L290.7,114.0 L291.7,113.0 L292.6,111.9 L293.6,111.0 L294.5,110.0 L295.5,109.2 L296.4,108.3 L297.4,107.5 L298.4,106.7 L299.3,106.0 L300.3,105.3 L301.2,104.6 L302.2,103.9 L303.1,103.2 L304.1,102.6 L305.0,102.0 L306.0,101.4 L307.0,100.8 L307.9,100.1 L308.9,99.5 L309.8,98.8 L310.8,98.1 L311.7,97.3 L312.7,96.5 L313.6,95.7 L314.6,95.0 L315.6,94.3 L316.5,93.8 L317.5,93.3 L318.4,92.9 L319.4,92.5 L320.3,92.2 L321.3,91.9 L322.2,91.6 L323.2,91.3 L324.1,91.0 L325.1,90.7 L326.1,90.4 L327.0,90.1 L328.0,89.8 L328.9,89.5 L329.9,89.3 L330.8,89.0 L331.8,88.7 L332.7,88.4 L333.7,88.1 L334.7,87.9 L335.6,87.6 L336.6,87.3 L337.5,87.0 L338.5,86.7 L339.4,86.4 L340.4,86.1 L341.3,85.7 L342.3,85.4 L343.3,85.1 L344.2,84.7 L345.2,84.4 L346.1,84.1 L347.1,83.9 L348.0,83.6 L349.0,83.3 L349.9,83.1 L350.9,82.9 L351.9,82.6 L352.8,82.4 L353.8,82.1 L354.7,81.9 L355.7,81.6 L356.6,81.4 L357.6,81.1 L358.5,80.9 L359.5,80.6 L360.4,80.4 L361.4,80.2 L362.4,80.0 L363.3,79.8 L364.3,79.6 L365.2,79.4 L366.2,79.2 L367.1,79.0 L368.1,78.9 L369.0,78.7 L370.0,78.6 L371.0,78.4 L371.9,78.3 L372.9,78.2 L373.8,78.1 L374.8,78.0 L375.7,77.8 L376.7,77.7 L377.6,77.5 L378.6,77.3 L379.6,77.0 L380.5,76.7 L381.5,76.4 L382.4,76.2 L383.4,76.0 L384.3,75.9 L385.3,75.7 L386.2,75.6 L387.2,75.4 L388.2,75.3 L389.1,75.2 L390.1,75.1 L391.0,74.9 L392.0,74.8 L392.9,74.7 L393.9,74.6 L394.8,74.4 L395.8,74.3 L396.7,74.2 L397.7,74.1 L398.7,74.0 L399.6,73.8 L400.6,73.7 L401.5,73.6 L402.5,73.5 L403.4,73.4 L404.4,73.3 L405.3,73.2 L406.3,73.1 L407.3,73.0 L408.2,72.9 L409.2,72.8 L410.1,72.7 L411.1,72.6 L412.0,72.5 L413.0,72.4 L413.9,72.3 L414.9,72.2 L415.9,72.1 L416.8,72.0 L417.8,72.0 L418.7,71.9 L419.7,71.8 L420.6,71.7 L421.6,71.6 L422.5,71.5 L423.5,71.5 L424.5,71.4 L425.4,71.3 L426.4,71.2 L427.3,71.2 L428.3,71.1 L429.2,71.0 L430.2,70.9 L431.1,70.9 L432.1,70.8 L433.0,70.7 L434.0,70.6 L435.0,70.6 L435.9,70.5 L436.9,70.4 L437.8,70.4 L438.8,70.3 L439.7,70.2 L440.7,70.2 L441.6,70.1 L442.6,70.0 L443.6,70.0 L444.5,69.9 L445.5,69.8 L446.4,69.8 L447.4,69.7 L448.3,69.6 L449.3,69.6 L450.2,69.5 L451.2,69.4 L452.2,69.4 L453.1,69.3 L454.1,69.3 L455.0,69.2 L456.0,69.1 L456.9,69.1 L457.9,69.0 L458.8,69.0 L459.8,68.9 L460.8,68.9" stroke="#EE6EA7"/>
<path d="M269.7,189.0 L269.8,172.0 L270.3,157.5 L270.4,156.0 L270.7,150.6 L270.9,146.9 L271.0,146.0 L271.6,141.6 L272.0,139.9 L272.6,137.7 L273.0,136.4 L273.5,134.9 L274.0,133.8 L274.5,132.6 L275.4,130.6 L276.4,128.8 L276.9,127.8 L277.3,126.9 L277.4,126.8 L278.3,125.5 L279.3,123.8 L279.9,122.6 L280.0,122.5 L280.2,122.2 L281.2,120.2 L282.1,117.5 L283.1,114.7 L284.0,112.3 L285.0,110.7 L285.9,109.4 L286.9,108.4 L287.8,107.7 L288.8,107.1 L289.8,106.6 L290.7,106.1 L291.7,105.6 L292.6,105.0 L293.6,104.3 L294.5,103.7 L295.5,103.1 L296.4,102.5 L297.4,102.0 L298.4,101.4 L299.3,100.9 L300.3,100.4 L301.2,99.9 L302.2,99.3 L303.1,98.8 L304.1,98.2 L305.0,97.6 L306.0,97.0 L307.0,96.5 L307.9,95.9 L308.9,95.4 L309.8,94.8 L310.8,94.3 L311.7,93.8 L312.7,93.4 L313.6,92.9 L314.6,92.4 L315.6,92.0 L316.5,91.6 L317.5,91.2 L318.4,90.8 L319.4,90.3 L320.3,90.0 L321.3,89.6 L322.2,89.2 L323.2,88.9 L324.1,88.5 L325.1,88.2 L326.1,88.0 L327.0,87.7 L328.0,87.5 L328.9,87.3 L329.9,87.0 L330.8,86.8 L331.8,86.5 L332.7,86.2 L333.7,86.0 L334.7,85.7 L335.6,85.4 L336.6,85.1 L337.5,84.8 L338.5,84.5 L339.4,84.2 L340.4,83.9 L341.3,83.6 L342.3,83.3 L343.3,83.1 L344.2,82.8 L345.2,82.5 L346.1,82.2 L347.1,82.0 L348.0,81.7 L349.0,81.4 L349.9,81.2 L350.9,80.9 L351.9,80.7 L352.8,80.5 L353.8,80.3 L354.7,80.1 L355.7,79.9 L356.6,79.7 L357.6,79.5 L358.5,79.4 L359.5,79.2 L360.4,79.0 L361.4,78.9 L362.4,78.7 L363.3,78.6 L364.3,78.4 L365.2,78.3 L366.2,78.1 L367.1,78.0 L368.1,77.8 L369.0,77.7 L370.0,77.6 L371.0,77.4 L371.9,77.3 L372.9,77.2 L373.8,77.1 L374.8,77.0 L375.7,76.8 L376.7,76.7 L377.6,76.6 L378.6,76.4 L379.6,76.2 L380.5,76.0 L381.5,75.8 L382.4,75.6 L383.4,75.4 L384.3,75.3 L385.3,75.1 L386.2,75.0 L387.2,74.9 L388.2,74.7 L389.1,74.6 L390.1,74.5 L391.0,74.3 L392.0,74.2 L392.9,74.1 L393.9,74.0 L394.8,73.8 L395.8,73.7 L396.7,73.6 L397.7,73.5 L398.7,73.4 L399.6,73.2 L400.6,73.1 L401.5,73.0 L402.5,72.9 L403.4,72.8 L404.4,72.7 L405.3,72.6 L406.3,72.5 L407.3,72.4 L408.2,72.3 L409.2,72.2 L410.1,72.1 L411.1,72.0 L412.0,71.9 L413.0,71.8 L413.9,71.7 L414.9,71.6 L415.9,71.5 L416.8,71.5 L417.8,71.4 L418.7,71.3 L419.7,71.2 L420.6,71.1 L421.6,71.0 L422.5,71.0 L423.5,70.9 L424.5,70.8 L425.4,70.7 L426.4,70.6 L427.3,70.6 L428.3,70.5 L429.2,70.4 L430.2,70.3 L431.1,70.3 L432.1,70.2 L433.0,70.1 L434.0,70.0 L435.0,70.0 L435.9,69.9 L436.9,69.8 L437.8,69.8 L438.8,69.7 L439.7,69.6 L440.7,69.6 L441.6,69.5 L442.6,69.4 L443.6,69.4 L444.5,69.3 L445.5,69.2 L446.4,69.2 L447.4,69.1 L448.3,69.0 L449.3,69.0 L450.2,68.9 L451.2,68.9 L452.2,68.8 L453.1,68.7 L454.1,68.7 L455.0,68.6 L456.0,68.5 L456.9,68.5 L457.9,68.4 L458.8,68.4 L459.8,68.3 L460.8,68.3" stroke="#67BC4C"/>
<path d="M269.7,189.0 L269.8,173.0 L270.3,158.3 L270.4,156.9 L270.7,152.6 L270.9,149.4 L271.4,144.9 L271.6,143.5 L272.6,139.4 L273.0,138.2 L273.0,138.2 L273.5,136.9 L274.5,135.1 L275.4,133.6 L276.0,132.7 L276.4,132.0 L277.3,130.3 L277.4,130.1 L278.3,128.7 L279.3,127.1 L279.9,126.2 L280.0,126.1 L280.2,125.9 L281.2,124.6 L282.1,122.9 L283.1,120.9 L284.0,119.0 L285.0,117.5 L285.9,115.9 L286.9,114.5 L287.8,113.1 L288.8,111.7 L289.8,110.5 L290.7,109.3 L291.7,108.2 L292.6,107.1 L293.6,106.2 L294.5,105.3 L295.5,104.5 L296.4,103.7 L297.4,103.0 L298.4,102.3 L299.3,101.6 L300.3,100.9 L301.2,100.3 L302.2,99.7 L303.1,99.1 L304.1,98.5 L305.0,97.9 L306.0,97.3 L307.0,96.8 L307.9,96.2 L308.9,95.7 L309.8,95.2 L310.8,94.7 L311.7,94.2 L312.7,93.8 L313.6,93.4 L314.6,93.0 L315.6,92.6 L316.5,92.2 L317.5,91.8 L318.4,91.5 L319.4,91.1 L320.3,90.8 L321.3,90.5 L322.2,90.1 L323.2,89.8 L324.1,89.6 L325.1,89.3 L326.1,89.0 L327.0,88.8 L328.0,88.5 L328.9,88.3 L329.9,88.0 L330.8,87.8 L331.8,87.5 L332.7,87.3 L333.7,87.0 L334.7,86.7 L335.6,86.4 L336.6,86.1 L337.5,85.8 L338.5,85.5 L339.4,85.2 L340.4,85.0 L341.3,84.7 L342.3,84.4 L343.3,84.1 L344.2,83.8 L345.2,83.5 L346.1,83.2 L347.1,83.0 L348.0,82.7 L349.0,82.4 L349.9,82.1 L350.9,81.9 L351.9,81.6 L352.8,81.4 L353.8,81.1 L354.7,80.9 L355.7,80.7 L356.6,80.5 L357.6,80.3 L358.5,80.0 L359.5,79.8 L360.4,79.7 L361.4,79.5 L362.4,79.3 L363.3,79.1 L364.3,78.9 L365.2,78.7 L366.2,78.6 L367.1,78.4 L368.1,78.3 L369.0,78.1 L370.0,78.0 L371.0,77.9 L371.9,77.7 L372.9,77.6 L373.8,77.5 L374.8,77.4 L375.7,77.3 L376.7,77.2 L377.6,77.0 L378.6,76.9 L379.6,76.7 L380.5,76.5 L381.5,76.4 L382.4,76.2 L383.4,76.0 L384.3,75.9 L385.3,75.7 L386.2,75.6 L387.2,75.5 L388.2,75.3 L389.1,75.2 L390.1,75.0 L391.0,74.9 L392.0,74.8 L392.9,74.6 L393.9,74.5 L394.8,74.3 L395.8,74.2 L396.7,74.1 L397.7,74.0 L398.7,73.8 L399.6,73.7 L400.6,73.6 L401.5,73.4 L402.5,73.3 L403.4,73.2 L404.4,73.1 L405.3,73.0 L406.3,72.8 L407.3,72.7 L408.2,72.6 L409.2,72.5 L410.1,72.4 L411.1,72.3 L412.0,72.2 L413.0,72.1 L413.9,72.0 L414.9,71.9 L415.9,71.8 L416.8,71.7 L417.8,71.7 L418.7,71.6 L419.7,71.5 L420.6,71.4 L421.6,71.3 L422.5,71.2 L423.5,71.2 L424.5,71.1 L425.4,71.0 L426.4,70.9 L427.3,70.8 L428.3,70.8 L429.2,70.7 L430.2,70.6 L431.1,70.6 L432.1,70.5 L433.0,70.4 L434.0,70.3 L435.0,70.3 L435.9,70.2 L436.9,70.1 L437.8,70.1 L438.8,70.0 L439.7,69.9 L440.7,69.9 L441.6,69.8 L442.6,69.7 L443.6,69.7 L444.5,69.6 L445.5,69.5 L446.4,69.5 L447.4,69.4 L448.3,69.3 L449.3,69.3 L450.2,69.2 L451.2,69.1 L452.2,69.1 L453.1,69.0 L454.1,69.0 L455.0,68.9 L456.0,68.8 L456.9,68.8 L457.9,68.7 L458.8,68.7 L459.8,68.6 L460.8,68.6" stroke="#4AA8DE"/>
<path d="M269.7,189.0 L269.8,174.0 L270.3,159.4 L270.4,157.9 L270.7,153.0 L270.9,149.2 L271.4,144.0 L271.6,142.7 L272.6,138.9 L273.0,137.9 L273.0,137.9 L273.5,136.6 L274.5,135.0 L275.4,133.5 L276.0,132.7 L276.4,132.0 L277.3,130.5 L277.4,130.3 L278.3,129.1 L279.3,127.6 L279.9,126.8 L280.0,126.8 L280.2,126.5 L281.2,125.4 L282.1,123.9 L283.1,122.2 L284.0,120.6 L285.0,119.1 L285.9,117.7 L286.9,116.3 L287.8,114.9 L288.8,113.5 L289.8,112.1 L290.7,110.8 L291.7,109.5 L292.6,108.2 L293.6,107.1 L294.5,106.1 L295.5,105.1 L296.4,104.3 L297.4,103.5 L298.4,102.7 L299.3,102.0 L300.3,101.4 L301.2,100.7 L302.2,100.1 L303.1,99.6 L304.1,99.0 L305.0,98.5 L306.0,98.0 L307.0,97.4 L307.9,96.9 L308.9,96.5 L309.8,96.0 L310.8,95.5 L311.7,95.1 L312.7,94.6 L313.6,94.2 L314.6,93.8 L315.6,93.4 L316.5,93.0 L317.5,92.7 L318.4,92.3 L319.4,92.0 L320.3,91.7 L321.3,91.4 L322.2,91.1 L323.2,90.8 L324.1,90.6 L325.1,90.4 L326.1,90.2 L327.0,90.0 L328.0,89.8 L328.9,89.6 L329.9,89.4 L330.8,89.2 L331.8,89.0 L332.7,88.7 L333.7,88.4 L334.7,88.1 L335.6,87.8 L336.6,87.4 L337.5,87.1 L338.5,86.7 L339.4,86.4 L340.4,86.1 L341.3,85.7 L342.3,85.4 L343.3,85.1 L344.2,84.7 L345.2,84.4 L346.1,84.1 L347.1,83.9 L348.0,83.6 L349.0,83.4 L349.9,83.1 L350.9,82.9 L351.9,82.6 L352.8,82.4 L353.8,82.1 L354.7,81.9 L355.7,81.6 L356.6,81.4 L357.6,81.1 L358.5,80.9 L359.5,80.6 L360.4,80.4 L361.4,80.2 L362.4,80.0 L363.3,79.8 L364.3,79.6 L365.2,79.4 L366.2,79.2 L367.1,79.0 L368.1,78.9 L369.0,78.7 L370.0,78.6 L371.0,78.4 L371.9,78.3 L372.9,78.2 L373.8,78.1 L374.8,78.0 L375.7,77.9 L376.7,77.7 L377.6,77.6 L378.6,77.5 L379.6,77.3 L380.5,77.1 L381.5,77.0 L382.4,76.8 L383.4,76.6 L384.3,76.5 L385.3,76.3 L386.2,76.2 L387.2,76.0 L388.2,75.9 L389.1,75.8 L390.1,75.6 L391.0,75.5 L392.0,75.4 L392.9,75.2 L393.9,75.1 L394.8,75.0 L395.8,74.8 L396.7,74.7 L397.7,74.6 L398.7,74.4 L399.6,74.3 L400.6,74.2 L401.5,74.1 L402.5,73.9 L403.4,73.8 L404.4,73.7 L405.3,73.6 L406.3,73.5 L407.3,73.4 L408.2,73.2 L409.2,73.1 L410.1,73.0 L411.1,72.9 L412.0,72.8 L413.0,72.7 L413.9,72.6 L414.9,72.5 L415.9,72.4 L416.8,72.3 L417.8,72.2 L418.7,72.1 L419.7,72.0 L420.6,71.9 L421.6,71.8 L422.5,71.7 L423.5,71.6 L424.5,71.5 L425.4,71.4 L426.4,71.3 L427.3,71.3 L428.3,71.2 L429.2,71.1 L430.2,71.0 L431.1,70.9 L432.1,70.8 L433.0,70.8 L434.0,70.7 L435.0,70.6 L435.9,70.5 L436.9,70.4 L437.8,70.4 L438.8,70.3 L439.7,70.2 L440.7,70.1 L441.6,70.1 L442.6,70.0 L443.6,69.9 L444.5,69.9 L445.5,69.8 L446.4,69.7 L447.4,69.7 L448.3,69.6 L449.3,69.6 L450.2,69.5 L451.2,69.4 L452.2,69.4 L453.1,69.3 L454.1,69.3 L455.0,69.2 L456.0,69.1 L456.9,69.1 L457.9,69.0 L458.8,69.0 L459.8,68.9 L460.8,68.9" stroke="#F4D10C"/>
</g>
<rect x="260.5" y="42.5" width="209" height="153.1" fill="none" stroke="#333" stroke-width="1"/>
<text transform="translate(273.6,62.7) scale(0.88,1)" x="0" y="0" font-size="17" fill="#1a1a1a">B</text>
<rect x="477.5" y="41.9" width="209" height="153.7" fill="#fff"/>
<path d="M486.70,41.9 V195.6 M534.46,41.9 V195.6 M582.23,41.9 V195.6 M629.99,41.9 V195.6 M677.75,41.9 V195.6 M477.5,189.00 H686.5 M477.5,153.90 H686.5 M477.5,118.80 H686.5 M477.5,83.70 H686.5 M477.5,48.60 H686.5" stroke="#EBEBEB" stroke-width="1.1" fill="none"/>
<g clip-path="url(#cp2)" fill="none" stroke-width="1.75" stroke-linejoin="round" stroke-linecap="butt">
<path d="M486.7,189.0 L487.7,188.9 L488.6,188.8 L489.6,188.7 L490.5,188.6 L491.5,188.6 L492.4,188.5 L493.4,188.4 L494.3,188.3 L495.3,188.2 L496.3,188.1 L497.2,188.0 L498.2,187.9 L499.1,187.8 L500.1,187.8 L501.0,187.7 L502.0,187.6 L502.9,187.5 L503.9,187.4 L504.8,187.4 L505.8,187.3 L506.8,187.2 L507.7,187.2 L508.7,187.1 L509.6,187.0 L510.6,187.0 L511.5,186.9 L512.5,186.8 L513.4,186.8 L514.4,186.7 L515.4,186.6 L516.3,186.6 L517.3,186.5 L518.2,186.4 L519.2,186.4 L520.1,186.3 L521.1,186.3 L522.0,186.2 L523.0,186.1 L524.0,186.1 L524.9,186.0 L525.9,185.9 L526.8,185.9 L527.8,185.8 L528.7,185.8 L529.7,185.7 L530.6,185.6 L531.6,185.5 L532.6,185.4 L533.5,185.3 L534.5,185.2 L535.4,185.1 L536.4,185.0 L537.3,184.9 L538.3,184.9 L539.2,184.8 L540.2,184.7 L541.1,184.7 L542.1,184.6 L543.1,184.6 L544.0,184.5 L545.0,184.4 L545.9,184.4 L546.9,184.3 L547.8,184.3 L548.8,184.2 L549.7,184.2 L550.7,184.1 L551.7,184.1 L552.6,184.0 L553.6,184.0 L554.5,183.9 L555.5,183.8 L556.4,183.8 L557.4,183.7 L558.3,183.7 L559.3,183.6 L560.3,183.6 L561.2,183.5 L562.2,183.5 L563.1,183.4 L564.1,183.4 L565.0,183.3 L566.0,183.3 L566.9,183.2 L567.9,183.2 L568.9,183.1 L569.8,183.1 L570.8,183.0 L571.7,183.0 L572.7,182.9 L573.6,182.9 L574.6,182.8 L575.5,182.8 L576.5,182.7 L577.4,182.7 L578.4,182.6 L579.4,182.6 L580.3,182.5 L581.3,182.5 L582.2,182.4 L583.2,182.4 L584.1,182.3 L585.1,182.3 L586.0,182.2 L587.0,182.2 L588.0,182.1 L588.9,182.1 L589.9,182.0 L590.8,182.0 L591.8,182.0 L592.7,181.9 L593.7,181.9 L594.6,181.8 L595.6,181.8 L596.6,181.7 L597.5,181.7 L598.5,181.6 L599.4,181.6 L600.4,181.5 L601.3,181.5 L602.3,181.5 L603.2,181.4 L604.2,181.4 L605.2,181.3 L606.1,181.3 L607.1,181.2 L608.0,181.2 L609.0,181.1 L609.9,181.1 L610.9,181.0 L611.8,181.0 L612.8,181.0 L613.7,180.9 L614.7,180.9 L615.7,180.8 L616.6,180.8 L617.6,180.7 L618.5,180.7 L619.5,180.6 L620.4,180.6 L621.4,180.5 L622.3,180.5 L623.3,180.4 L624.3,180.4 L625.2,180.3 L626.2,180.3 L627.1,180.2 L628.1,180.2 L629.0,180.1 L630.0,180.1 L630.9,180.0 L631.9,180.0 L632.9,179.9 L633.8,179.9 L634.8,179.8 L635.7,179.8 L636.7,179.7 L637.6,179.6 L638.6,179.6 L639.5,179.5 L640.5,179.5 L641.5,179.4 L642.4,179.4 L643.4,179.3 L644.3,179.2 L645.3,179.2 L646.2,179.1 L647.2,179.1 L648.1,179.0 L649.1,178.9 L650.0,178.9 L651.0,178.8 L652.0,178.8 L652.9,178.7 L653.9,178.6 L654.8,178.6 L655.8,178.5 L656.7,178.5 L657.7,178.4 L658.6,178.3 L659.6,178.3 L660.6,178.2 L661.5,178.1 L662.5,178.1 L663.4,178.0 L664.4,178.0 L665.3,177.9 L666.3,177.8 L667.2,177.8 L668.2,177.7 L669.2,177.6 L670.1,177.6 L671.1,177.5 L672.0,177.5 L673.0,177.4 L673.9,177.3 L674.9,177.3 L675.8,177.2 L676.8,177.2 L677.8,177.2" stroke="#E3262A"/>
<path d="M486.7,189.0 L487.7,188.9 L488.6,188.8 L489.6,188.7 L490.5,188.6 L491.5,188.4 L492.4,188.3 L493.4,188.2 L494.3,188.1 L495.3,188.0 L496.3,187.9 L497.2,187.8 L498.2,187.6 L499.1,187.5 L500.1,187.4 L501.0,187.3 L502.0,187.2 L502.9,187.1 L503.9,187.1 L504.8,187.0 L505.8,186.9 L506.8,186.8 L507.7,186.7 L508.7,186.6 L509.6,186.6 L510.6,186.5 L511.5,186.4 L512.5,186.3 L513.4,186.3 L514.4,186.2 L515.4,186.1 L516.3,186.1 L517.3,186.0 L518.2,185.9 L519.2,185.9 L520.1,185.8 L521.1,185.7 L522.0,185.7 L523.0,185.6 L524.0,185.5 L524.9,185.5 L525.9,185.4 L526.8,185.3 L527.8,185.3 L528.7,185.2 L529.7,185.1 L530.6,185.0 L531.6,184.9 L532.6,184.8 L533.5,184.7 L534.5,184.6 L535.4,184.5 L536.4,184.4 L537.3,184.3 L538.3,184.2 L539.2,184.2 L540.2,184.1 L541.1,184.0 L542.1,184.0 L543.1,183.9 L544.0,183.9 L545.0,183.8 L545.9,183.7 L546.9,183.7 L547.8,183.6 L548.8,183.6 L549.7,183.5 L550.7,183.5 L551.7,183.4 L552.6,183.3 L553.6,183.3 L554.5,183.2 L555.5,183.2 L556.4,183.1 L557.4,183.1 L558.3,183.0 L559.3,183.0 L560.3,182.9 L561.2,182.9 L562.2,182.8 L563.1,182.8 L564.1,182.7 L565.0,182.6 L566.0,182.6 L566.9,182.5 L567.9,182.5 L568.9,182.4 L569.8,182.4 L570.8,182.3 L571.7,182.2 L572.7,182.2 L573.6,182.1 L574.6,182.1 L575.5,182.0 L576.5,181.9 L577.4,181.9 L578.4,181.8 L579.4,181.7 L580.3,181.7 L581.3,181.6 L582.2,181.5 L583.2,181.5 L584.1,181.4 L585.1,181.3 L586.0,181.2 L587.0,181.2 L588.0,181.1 L588.9,181.0 L589.9,180.9 L590.8,180.8 L591.8,180.7 L592.7,180.7 L593.7,180.6 L594.6,180.5 L595.6,180.4 L596.6,180.3 L597.5,180.2 L598.5,180.1 L599.4,180.0 L600.4,179.9 L601.3,179.9 L602.3,179.8 L603.2,179.7 L604.2,179.6 L605.2,179.5 L606.1,179.4 L607.1,179.3 L608.0,179.2 L609.0,179.1 L609.9,179.0 L610.9,178.9 L611.8,178.8 L612.8,178.7 L613.7,178.6 L614.7,178.5 L615.7,178.4 L616.6,178.4 L617.6,178.3 L618.5,178.2 L619.5,178.1 L620.4,178.0 L621.4,177.9 L622.3,177.8 L623.3,177.7 L624.3,177.6 L625.2,177.5 L626.2,177.4 L627.1,177.4 L628.1,177.3 L629.0,177.2 L630.0,177.1 L630.9,177.0 L631.9,176.9 L632.9,176.9 L633.8,176.8 L634.8,176.7 L635.7,176.6 L636.7,176.5 L637.6,176.5 L638.6,176.4 L639.5,176.3 L640.5,176.2 L641.5,176.1 L642.4,176.1 L643.4,176.0 L644.3,175.9 L645.3,175.8 L646.2,175.8 L647.2,175.7 L648.1,175.6 L649.1,175.5 L650.0,175.4 L651.0,175.4 L652.0,175.3 L652.9,175.2 L653.9,175.1 L654.8,175.1 L655.8,175.0 L656.7,174.9 L657.7,174.8 L658.6,174.8 L659.6,174.7 L660.6,174.6 L661.5,174.5 L662.5,174.5 L663.4,174.4 L664.4,174.3 L665.3,174.2 L666.3,174.2 L667.2,174.1 L668.2,174.0 L669.2,173.9 L670.1,173.8 L671.1,173.8 L672.0,173.7 L673.0,173.6 L673.9,173.5 L674.9,173.5 L675.8,173.4 L676.8,173.3 L677.8,173.3" stroke="#8E4FAE"/>
<path d="M486.7,189.0 L487.0,181.7 L487.7,178.6 L488.0,177.7 L488.5,176.4 L488.6,176.1 L489.6,174.2 L490.0,173.7 L490.5,173.1 L491.5,172.3 L491.5,172.3 L492.4,171.6 L493.0,171.2 L493.4,170.9 L494.3,170.2 L495.3,169.5 L495.9,169.2 L496.3,169.0 L497.2,168.6 L497.4,168.5 L498.2,168.1 L499.1,167.6 L500.1,167.1 L501.0,166.7 L502.0,166.3 L502.9,165.9 L503.9,165.6 L504.8,165.3 L505.8,164.9 L506.8,164.6 L507.7,164.3 L508.7,164.0 L509.6,163.7 L510.6,163.3 L511.5,163.0 L512.5,162.7 L513.4,162.4 L514.4,162.0 L515.4,161.8 L516.3,161.5 L517.3,161.2 L518.2,160.9 L519.2,160.7 L520.1,160.5 L521.1,160.2 L522.0,160.0 L523.0,159.8 L524.0,159.6 L524.9,159.4 L525.9,159.2 L526.8,159.0 L527.8,158.8 L528.7,158.6 L529.7,158.4 L530.6,158.3 L531.6,158.1 L532.6,157.9 L533.5,157.8 L534.5,157.6 L535.4,157.4 L536.4,157.2 L537.3,156.9 L538.3,156.7 L539.2,156.4 L540.2,156.2 L541.1,155.9 L542.1,155.7 L543.1,155.4 L544.0,155.2 L545.0,154.9 L545.9,154.7 L546.9,154.4 L547.8,154.2 L548.8,153.9 L549.7,153.7 L550.7,153.4 L551.7,153.1 L552.6,152.9 L553.6,152.6 L554.5,152.4 L555.5,152.1 L556.4,151.8 L557.4,151.5 L558.3,151.3 L559.3,151.0 L560.3,150.7 L561.2,150.5 L562.2,150.3 L563.1,150.0 L564.1,149.8 L565.0,149.6 L566.0,149.5 L566.9,149.3 L567.9,149.1 L568.9,149.0 L569.8,148.8 L570.8,148.7 L571.7,148.6 L572.7,148.5 L573.6,148.3 L574.6,148.2 L575.5,148.1 L576.5,148.0 L577.4,147.9 L578.4,147.8 L579.4,147.7 L580.3,147.5 L581.3,147.4 L582.2,147.3 L583.2,147.2 L584.1,147.0 L585.1,146.9 L586.0,146.8 L587.0,146.7 L588.0,146.5 L588.9,146.4 L589.9,146.3 L590.8,146.2 L591.8,146.0 L592.7,145.9 L593.7,145.8 L594.6,145.7 L595.6,145.5 L596.6,145.4 L597.5,145.3 L598.5,145.2 L599.4,145.0 L600.4,144.9 L601.3,144.8 L602.3,144.7 L603.2,144.6 L604.2,144.4 L605.2,144.3 L606.1,144.2 L607.1,144.1 L608.0,144.0 L609.0,143.9 L609.9,143.7 L610.9,143.6 L611.8,143.5 L612.8,143.4 L613.7,143.3 L614.7,143.2 L615.7,143.0 L616.6,142.9 L617.6,142.8 L618.5,142.7 L619.5,142.6 L620.4,142.5 L621.4,142.4 L622.3,142.3 L623.3,142.1 L624.3,142.0 L625.2,141.9 L626.2,141.8 L627.1,141.7 L628.1,141.6 L629.0,141.5 L630.0,141.4 L630.9,141.3 L631.9,141.2 L632.9,141.1 L633.8,141.0 L634.8,140.9 L635.7,140.8 L636.7,140.7 L637.6,140.7 L638.6,140.6 L639.5,140.5 L640.5,140.4 L641.5,140.3 L642.4,140.2 L643.4,140.1 L644.3,140.0 L645.3,140.0 L646.2,139.9 L647.2,139.8 L648.1,139.7 L649.1,139.6 L650.0,139.5 L651.0,139.4 L652.0,139.3 L652.9,139.3 L653.9,139.2 L654.8,139.1 L655.8,139.0 L656.7,138.9 L657.7,138.8 L658.6,138.7 L659.6,138.6 L660.6,138.5 L661.5,138.5 L662.5,138.4 L663.4,138.3 L664.4,138.2 L665.3,138.1 L666.3,138.0 L667.2,137.9 L668.2,137.8 L669.2,137.7 L670.1,137.7 L671.1,137.6 L672.0,137.5 L673.0,137.4 L673.9,137.3 L674.9,137.2 L675.8,137.1 L676.8,137.1 L677.8,137.0" stroke="#3B4EA6"/>
<path d="M486.7,189.0 L486.8,175.9 L487.4,164.0 L487.6,160.9 L487.7,160.0 L488.4,152.2 L488.6,150.6 L489.1,147.8 L489.6,145.6 L490.0,144.0 L490.5,142.2 L491.5,139.8 L491.5,139.7 L492.0,138.8 L492.4,138.0 L493.4,136.7 L494.3,135.0 L494.4,134.9 L494.9,134.4 L495.3,134.0 L496.3,132.6 L497.0,131.5 L497.2,131.2 L497.9,130.3 L498.2,130.1 L499.1,128.9 L500.1,127.5 L501.0,126.1 L502.0,124.8 L502.9,123.6 L503.9,122.4 L504.8,121.2 L505.8,120.0 L506.8,118.7 L507.7,117.4 L508.7,116.0 L509.6,114.7 L510.6,113.5 L511.5,112.5 L512.5,111.5 L513.4,110.7 L514.4,109.9 L515.4,109.2 L516.3,108.5 L517.3,107.9 L518.2,107.3 L519.2,106.8 L520.1,106.3 L521.1,105.8 L522.0,105.4 L523.0,105.0 L524.0,104.6 L524.9,104.1 L525.9,103.7 L526.8,103.2 L527.8,102.7 L528.7,102.2 L529.7,101.6 L530.6,101.0 L531.6,100.4 L532.6,99.8 L533.5,99.3 L534.5,98.7 L535.4,98.2 L536.4,97.7 L537.3,97.2 L538.3,96.7 L539.2,96.3 L540.2,95.8 L541.1,95.4 L542.1,95.1 L543.1,94.7 L544.0,94.4 L545.0,94.1 L545.9,93.7 L546.9,93.4 L547.8,93.1 L548.8,92.8 L549.7,92.5 L550.7,92.1 L551.7,91.8 L552.6,91.4 L553.6,91.1 L554.5,90.7 L555.5,90.4 L556.4,90.0 L557.4,89.6 L558.3,89.2 L559.3,88.9 L560.3,88.5 L561.2,88.1 L562.2,87.7 L563.1,87.4 L564.1,87.1 L565.0,86.8 L566.0,86.5 L566.9,86.2 L567.9,85.9 L568.9,85.6 L569.8,85.3 L570.8,85.0 L571.7,84.7 L572.7,84.4 L573.6,84.1 L574.6,83.7 L575.5,83.4 L576.5,83.1 L577.4,82.8 L578.4,82.5 L579.4,82.2 L580.3,81.9 L581.3,81.7 L582.2,81.4 L583.2,81.2 L584.1,81.0 L585.1,80.8 L586.0,80.6 L587.0,80.4 L588.0,80.3 L588.9,80.1 L589.9,80.0 L590.8,79.8 L591.8,79.7 L592.7,79.5 L593.7,79.4 L594.6,79.2 L595.6,79.0 L596.6,78.7 L597.5,78.3 L598.5,78.0 L599.4,77.8 L600.4,77.6 L601.3,77.4 L602.3,77.3 L603.2,77.1 L604.2,76.9 L605.2,76.8 L606.1,76.6 L607.1,76.4 L608.0,76.3 L609.0,76.1 L609.9,75.9 L610.9,75.7 L611.8,75.6 L612.8,75.4 L613.7,75.2 L614.7,75.0 L615.7,74.9 L616.6,74.7 L617.6,74.5 L618.5,74.3 L619.5,74.2 L620.4,74.0 L621.4,73.9 L622.3,73.7 L623.3,73.6 L624.3,73.4 L625.2,73.3 L626.2,73.2 L627.1,73.0 L628.1,72.9 L629.0,72.8 L630.0,72.7 L630.9,72.6 L631.9,72.5 L632.9,72.4 L633.8,72.3 L634.8,72.3 L635.7,72.2 L636.7,72.1 L637.6,72.0 L638.6,71.9 L639.5,71.9 L640.5,71.8 L641.5,71.7 L642.4,71.6 L643.4,71.6 L644.3,71.5 L645.3,71.4 L646.2,71.4 L647.2,71.3 L648.1,71.3 L649.1,71.2 L650.0,71.2 L651.0,71.1 L652.0,71.1 L652.9,71.0 L653.9,71.0 L654.8,70.9 L655.8,70.9 L656.7,70.9 L657.7,70.8 L658.6,70.8 L659.6,70.8 L660.6,70.7 L661.5,70.7 L662.5,70.7 L663.4,70.7 L664.4,70.6 L665.3,70.6 L666.3,70.6 L667.2,70.6 L668.2,70.5 L669.2,70.5 L670.1,70.5 L671.1,70.5 L672.0,70.5 L673.0,70.4 L673.9,70.4 L674.9,70.4 L675.8,70.4 L676.8,70.3 L677.8,70.3" stroke="#EE6EA7"/>
<path d="M486.7,189.0 L486.8,172.1 L487.3,159.4 L487.4,158.1 L487.7,153.9 L487.9,150.8 L488.4,146.0 L488.6,144.3 L489.1,141.6 L489.6,139.4 L490.0,137.8 L490.5,135.8 L491.5,132.9 L491.5,132.9 L492.0,131.8 L492.4,130.8 L493.4,129.1 L494.3,127.2 L494.4,127.1 L494.9,126.5 L495.3,126.1 L496.3,124.6 L497.0,123.5 L497.2,123.2 L497.9,122.4 L498.2,122.1 L499.1,120.9 L500.1,119.7 L501.0,118.4 L502.0,117.3 L502.9,116.3 L503.9,115.4 L504.8,114.5 L505.8,113.5 L506.8,112.6 L507.7,111.6 L508.7,110.5 L509.6,109.5 L510.6,108.5 L511.5,107.5 L512.5,106.6 L513.4,105.7 L514.4,104.9 L515.4,104.1 L516.3,103.3 L517.3,102.5 L518.2,101.8 L519.2,101.0 L520.1,100.2 L521.1,99.5 L522.0,98.7 L523.0,97.9 L524.0,97.1 L524.9,96.4 L525.9,95.6 L526.8,94.9 L527.8,94.2 L528.7,93.5 L529.7,92.8 L530.6,92.2 L531.6,91.5 L532.6,91.0 L533.5,90.5 L534.5,90.0 L535.4,89.6 L536.4,89.3 L537.3,88.9 L538.3,88.6 L539.2,88.3 L540.2,87.9 L541.1,87.6 L542.1,87.3 L543.1,86.9 L544.0,86.6 L545.0,86.3 L545.9,86.0 L546.9,85.6 L547.8,85.3 L548.8,85.1 L549.7,84.8 L550.7,84.5 L551.7,84.3 L552.6,84.0 L553.6,83.8 L554.5,83.5 L555.5,83.3 L556.4,83.1 L557.4,82.8 L558.3,82.6 L559.3,82.4 L560.3,82.1 L561.2,81.9 L562.2,81.7 L563.1,81.5 L564.1,81.3 L565.0,81.1 L566.0,80.9 L566.9,80.7 L567.9,80.5 L568.9,80.3 L569.8,80.1 L570.8,79.9 L571.7,79.8 L572.7,79.6 L573.6,79.4 L574.6,79.2 L575.5,79.0 L576.5,78.8 L577.4,78.6 L578.4,78.4 L579.4,78.2 L580.3,77.9 L581.3,77.7 L582.2,77.5 L583.2,77.2 L584.1,77.0 L585.1,76.8 L586.0,76.6 L587.0,76.4 L588.0,76.3 L588.9,76.1 L589.9,76.0 L590.8,75.8 L591.8,75.7 L592.7,75.5 L593.7,75.4 L594.6,75.2 L595.6,75.1 L596.6,75.0 L597.5,74.9 L598.5,74.8 L599.4,74.6 L600.4,74.5 L601.3,74.4 L602.3,74.2 L603.2,74.1 L604.2,74.0 L605.2,73.8 L606.1,73.7 L607.1,73.6 L608.0,73.4 L609.0,73.3 L609.9,73.2 L610.9,73.1 L611.8,72.9 L612.8,72.8 L613.7,72.7 L614.7,72.6 L615.7,72.5 L616.6,72.3 L617.6,72.2 L618.5,72.1 L619.5,72.0 L620.4,71.9 L621.4,71.8 L622.3,71.7 L623.3,71.6 L624.3,71.5 L625.2,71.4 L626.2,71.3 L627.1,71.2 L628.1,71.1 L629.0,71.0 L630.0,70.9 L630.9,70.8 L631.9,70.8 L632.9,70.7 L633.8,70.6 L634.8,70.5 L635.7,70.5 L636.7,70.4 L637.6,70.3 L638.6,70.3 L639.5,70.2 L640.5,70.1 L641.5,70.1 L642.4,70.0 L643.4,69.9 L644.3,69.9 L645.3,69.8 L646.2,69.7 L647.2,69.7 L648.1,69.6 L649.1,69.6 L650.0,69.5 L651.0,69.4 L652.0,69.4 L652.9,69.3 L653.9,69.2 L654.8,69.2 L655.8,69.1 L656.7,69.0 L657.7,68.9 L658.6,68.9 L659.6,68.8 L660.6,68.7 L661.5,68.7 L662.5,68.6 L663.4,68.5 L664.4,68.4 L665.3,68.3 L666.3,68.3 L667.2,68.2 L668.2,68.1 L669.2,68.0 L670.1,68.0 L671.1,67.9 L672.0,67.8 L673.0,67.7 L673.9,67.6 L674.9,67.6 L675.8,67.5 L676.8,67.4 L677.8,67.4" stroke="#67BC4C"/>
<path d="M486.7,189.0 L486.8,175.9 L487.4,164.0 L487.6,160.9 L487.7,160.0 L488.4,152.2 L488.6,150.5 L489.1,147.6 L489.6,145.3 L490.0,143.7 L490.5,141.8 L491.5,139.2 L491.5,139.2 L492.0,138.2 L492.4,137.4 L493.4,136.1 L494.3,134.4 L494.4,134.3 L494.9,133.8 L495.3,133.3 L496.3,131.9 L497.0,130.8 L497.2,130.6 L497.9,129.7 L498.2,129.4 L499.1,128.2 L500.1,126.6 L501.0,125.0 L502.0,123.5 L502.9,122.3 L503.9,121.1 L504.8,119.9 L505.8,118.6 L506.8,117.3 L507.7,115.9 L508.7,114.4 L509.6,113.0 L510.6,111.7 L511.5,110.5 L512.5,109.5 L513.4,108.5 L514.4,107.6 L515.4,106.8 L516.3,106.0 L517.3,105.4 L518.2,104.7 L519.2,104.2 L520.1,103.6 L521.1,103.2 L522.0,102.7 L523.0,102.3 L524.0,101.9 L524.9,101.4 L525.9,101.0 L526.8,100.6 L527.8,100.2 L528.7,99.8 L529.7,99.4 L530.6,99.0 L531.6,98.6 L532.6,98.1 L533.5,97.7 L534.5,97.3 L535.4,96.8 L536.4,96.4 L537.3,95.9 L538.3,95.4 L539.2,94.9 L540.2,94.4 L541.1,93.9 L542.1,93.4 L543.1,92.9 L544.0,92.4 L545.0,92.0 L545.9,91.5 L546.9,91.0 L547.8,90.6 L548.8,90.1 L549.7,89.7 L550.7,89.3 L551.7,88.9 L552.6,88.6 L553.6,88.2 L554.5,87.8 L555.5,87.5 L556.4,87.1 L557.4,86.7 L558.3,86.3 L559.3,85.9 L560.3,85.5 L561.2,85.1 L562.2,84.8 L563.1,84.4 L564.1,84.1 L565.0,83.8 L566.0,83.5 L566.9,83.2 L567.9,82.9 L568.9,82.7 L569.8,82.4 L570.8,82.2 L571.7,82.0 L572.7,81.7 L573.6,81.6 L574.6,81.4 L575.5,81.2 L576.5,81.0 L577.4,80.8 L578.4,80.6 L579.4,80.4 L580.3,80.2 L581.3,80.0 L582.2,79.8 L583.2,79.6 L584.1,79.5 L585.1,79.3 L586.0,79.2 L587.0,79.0 L588.0,78.9 L588.9,78.8 L589.9,78.6 L590.8,78.5 L591.8,78.4 L592.7,78.3 L593.7,78.2 L594.6,78.0 L595.6,77.9 L596.6,77.7 L597.5,77.4 L598.5,77.2 L599.4,77.1 L600.4,76.9 L601.3,76.8 L602.3,76.6 L603.2,76.5 L604.2,76.3 L605.2,76.2 L606.1,76.0 L607.1,75.9 L608.0,75.7 L609.0,75.6 L609.9,75.4 L610.9,75.3 L611.8,75.1 L612.8,74.9 L613.7,74.8 L614.7,74.6 L615.7,74.5 L616.6,74.3 L617.6,74.2 L618.5,74.0 L619.5,73.8 L620.4,73.7 L621.4,73.5 L622.3,73.4 L623.3,73.3 L624.3,73.1 L625.2,73.0 L626.2,72.9 L627.1,72.7 L628.1,72.6 L629.0,72.5 L630.0,72.4 L630.9,72.3 L631.9,72.2 L632.9,72.1 L633.8,72.0 L634.8,71.9 L635.7,71.8 L636.7,71.7 L637.6,71.7 L638.6,71.6 L639.5,71.5 L640.5,71.4 L641.5,71.3 L642.4,71.2 L643.4,71.2 L644.3,71.1 L645.3,71.0 L646.2,71.0 L647.2,70.9 L648.1,70.8 L649.1,70.7 L650.0,70.7 L651.0,70.6 L652.0,70.5 L652.9,70.5 L653.9,70.4 L654.8,70.4 L655.8,70.3 L656.7,70.2 L657.7,70.2 L658.6,70.1 L659.6,70.1 L660.6,70.0 L661.5,70.0 L662.5,69.9 L663.4,69.9 L664.4,69.8 L665.3,69.8 L666.3,69.7 L667.2,69.7 L668.2,69.6 L669.2,69.6 L670.1,69.5 L671.1,69.5 L672.0,69.4 L673.0,69.4 L673.9,69.3 L674.9,69.3 L675.8,69.2 L676.8,69.2 L677.8,69.2" stroke="#4AA8DE"/>
<path d="M486.7,189.0 L486.8,175.9 L487.4,164.0 L487.6,160.9 L487.7,160.0 L488.4,152.2 L488.6,150.6 L489.1,147.8 L489.6,145.6 L490.0,144.0 L490.5,142.2 L491.5,139.8 L491.5,139.7 L492.0,138.8 L492.4,138.0 L493.4,136.7 L494.3,135.0 L494.4,134.9 L494.9,134.4 L495.3,133.9 L496.3,132.5 L497.0,131.5 L497.2,131.2 L497.9,130.3 L498.2,130.1 L499.1,128.9 L500.1,127.5 L501.0,126.0 L502.0,124.8 L502.9,123.6 L503.9,122.4 L504.8,121.2 L505.8,120.0 L506.8,118.7 L507.7,117.4 L508.7,116.0 L509.6,114.7 L510.6,113.5 L511.5,112.5 L512.5,111.5 L513.4,110.7 L514.4,109.9 L515.4,109.2 L516.3,108.5 L517.3,107.9 L518.2,107.3 L519.2,106.8 L520.1,106.3 L521.1,105.8 L522.0,105.4 L523.0,105.0 L524.0,104.6 L524.9,104.1 L525.9,103.7 L526.8,103.2 L527.8,102.7 L528.7,102.1 L529.7,101.6 L530.6,101.0 L531.6,100.4 L532.6,99.8 L533.5,99.3 L534.5,98.7 L535.4,98.2 L536.4,97.7 L537.3,97.2 L538.3,96.8 L539.2,96.3 L540.2,95.8 L541.1,95.4 L542.1,95.0 L543.1,94.6 L544.0,94.2 L545.0,93.8 L545.9,93.5 L546.9,93.1 L547.8,92.7 L548.8,92.3 L549.7,92.0 L550.7,91.6 L551.7,91.2 L552.6,90.8 L553.6,90.4 L554.5,90.1 L555.5,89.7 L556.4,89.3 L557.4,88.9 L558.3,88.5 L559.3,88.1 L560.3,87.7 L561.2,87.3 L562.2,87.0 L563.1,86.6 L564.1,86.3 L565.0,86.0 L566.0,85.7 L566.9,85.4 L567.9,85.2 L568.9,84.9 L569.8,84.6 L570.8,84.3 L571.7,84.0 L572.7,83.7 L573.6,83.5 L574.6,83.2 L575.5,82.9 L576.5,82.6 L577.4,82.3 L578.4,82.0 L579.4,81.8 L580.3,81.5 L581.3,81.3 L582.2,81.0 L583.2,80.8 L584.1,80.5 L585.1,80.3 L586.0,80.1 L587.0,80.0 L588.0,79.8 L588.9,79.7 L589.9,79.5 L590.8,79.4 L591.8,79.2 L592.7,79.1 L593.7,79.0 L594.6,78.8 L595.6,78.6 L596.6,78.4 L597.5,78.1 L598.5,77.9 L599.4,77.7 L600.4,77.5 L601.3,77.4 L602.3,77.2 L603.2,77.1 L604.2,76.9 L605.2,76.8 L606.1,76.6 L607.1,76.4 L608.0,76.3 L609.0,76.1 L609.9,75.9 L610.9,75.7 L611.8,75.5 L612.8,75.3 L613.7,75.2 L614.7,75.0 L615.7,74.8 L616.6,74.6 L617.6,74.4 L618.5,74.2 L619.5,74.0 L620.4,73.8 L621.4,73.7 L622.3,73.5 L623.3,73.3 L624.3,73.2 L625.2,73.0 L626.2,72.9 L627.1,72.8 L628.1,72.6 L629.0,72.5 L630.0,72.4 L630.9,72.3 L631.9,72.2 L632.9,72.1 L633.8,72.1 L634.8,72.0 L635.7,71.9 L636.7,71.8 L637.6,71.8 L638.6,71.7 L639.5,71.6 L640.5,71.5 L641.5,71.5 L642.4,71.4 L643.4,71.4 L644.3,71.3 L645.3,71.2 L646.2,71.2 L647.2,71.1 L648.1,71.1 L649.1,71.0 L650.0,71.0 L651.0,70.9 L652.0,70.8 L652.9,70.8 L653.9,70.7 L654.8,70.6 L655.8,70.6 L656.7,70.5 L657.7,70.5 L658.6,70.4 L659.6,70.3 L660.6,70.3 L661.5,70.2 L662.5,70.1 L663.4,70.1 L664.4,70.0 L665.3,69.9 L666.3,69.9 L667.2,69.8 L668.2,69.8 L669.2,69.7 L670.1,69.6 L671.1,69.6 L672.0,69.5 L673.0,69.4 L673.9,69.4 L674.9,69.3 L675.8,69.3 L676.8,69.2 L677.8,69.2" stroke="#F4D10C"/>
</g>
<rect x="477.5" y="42.5" width="209" height="153.1" fill="none" stroke="#333" stroke-width="1"/>
<text transform="translate(490.6,62.7) scale(0.88,1)" x="0" y="0" font-size="17" fill="#1a1a1a">C</text>
<rect x="43.5" y="202.8" width="209" height="153.7" fill="#fff"/>
<path d="M52.70,202.8 V356.5 M100.46,202.8 V356.5 M148.23,202.8 V356.5 M195.99,202.8 V356.5 M243.75,202.8 V356.5 M43.5,349.80 H252.5 M43.5,314.70 H252.5 M43.5,279.60 H252.5 M43.5,244.50 H252.5 M43.5,209.40 H252.5" stroke="#EBEBEB" stroke-width="1.1" fill="none"/>
<g clip-path="url(#cp3)" fill="none" stroke-width="1.75" stroke-linejoin="round" stroke-linecap="butt">
<path d="M52.7,349.8 L53.0,334.7 L53.3,333.4 L53.7,332.7 L53.9,332.5 L54.0,332.4 L54.6,332.0 L55.6,331.6 L56.0,331.4 L56.5,331.1 L57.5,330.6 L57.5,330.5 L58.4,329.9 L59.0,329.5 L59.4,329.1 L60.3,328.0 L61.3,327.1 L61.9,326.4 L62.3,326.1 L63.2,325.3 L63.9,324.6 L64.2,324.4 L65.1,323.5 L66.1,322.6 L67.0,321.7 L68.0,321.1 L68.9,320.6 L69.9,320.2 L70.8,319.8 L71.8,319.5 L72.8,319.3 L73.7,319.0 L74.7,318.9 L75.6,318.7 L76.6,318.5 L77.5,318.4 L78.5,318.3 L79.4,318.2 L80.4,318.1 L81.4,318.1 L82.3,318.0 L83.3,317.9 L84.2,317.9 L85.2,317.8 L86.1,317.7 L87.1,317.6 L88.0,317.5 L89.0,317.4 L90.0,317.3 L90.9,317.3 L91.9,317.2 L92.8,317.1 L93.8,317.1 L94.7,317.1 L95.7,317.0 L96.6,317.0 L97.6,316.9 L98.6,316.8 L99.5,316.7 L100.5,316.6 L101.4,316.5 L102.4,316.4 L103.3,316.4 L104.3,316.3 L105.2,316.3 L106.2,316.2 L107.1,316.2 L108.1,316.2 L109.1,316.1 L110.0,316.1 L111.0,316.1 L111.9,316.0 L112.9,316.0 L113.8,315.9 L114.8,315.9 L115.7,315.9 L116.7,315.8 L117.7,315.8 L118.6,315.8 L119.6,315.7 L120.5,315.7 L121.5,315.7 L122.4,315.6 L123.4,315.6 L124.3,315.6 L125.3,315.5 L126.3,315.5 L127.2,315.5 L128.2,315.4 L129.1,315.4 L130.1,315.4 L131.0,315.3 L132.0,315.3 L132.9,315.3 L133.9,315.2 L134.9,315.2 L135.8,315.2 L136.8,315.1 L137.7,315.1 L138.7,315.0 L139.6,315.0 L140.6,315.0 L141.5,314.9 L142.5,314.9 L143.4,314.9 L144.4,314.8 L145.4,314.8 L146.3,314.8 L147.3,314.7 L148.2,314.7 L149.2,314.6 L150.1,314.6 L151.1,314.6 L152.0,314.5 L153.0,314.5 L154.0,314.4 L154.9,314.4 L155.9,314.4 L156.8,314.3 L157.8,314.3 L158.7,314.2 L159.7,314.2 L160.6,314.2 L161.6,314.1 L162.6,314.1 L163.5,314.0 L164.5,314.0 L165.4,314.0 L166.4,313.9 L167.3,313.9 L168.3,313.8 L169.2,313.8 L170.2,313.8 L171.2,313.7 L172.1,313.7 L173.1,313.6 L174.0,313.6 L175.0,313.5 L175.9,313.5 L176.9,313.5 L177.8,313.4 L178.8,313.4 L179.7,313.3 L180.7,313.3 L181.7,313.3 L182.6,313.2 L183.6,313.2 L184.5,313.1 L185.5,313.1 L186.4,313.0 L187.4,313.0 L188.3,313.0 L189.3,312.9 L190.3,312.9 L191.2,312.8 L192.2,312.8 L193.1,312.7 L194.1,312.7 L195.0,312.7 L196.0,312.6 L196.9,312.6 L197.9,312.5 L198.9,312.5 L199.8,312.5 L200.8,312.4 L201.7,312.4 L202.7,312.3 L203.6,312.3 L204.6,312.2 L205.5,312.2 L206.5,312.2 L207.5,312.1 L208.4,312.1 L209.4,312.0 L210.3,312.0 L211.3,312.0 L212.2,311.9 L213.2,311.9 L214.1,311.8 L215.1,311.8 L216.0,311.7 L217.0,311.7 L218.0,311.7 L218.9,311.6 L219.9,311.6 L220.8,311.5 L221.8,311.5 L222.7,311.5 L223.7,311.4 L224.6,311.4 L225.6,311.3 L226.6,311.3 L227.5,311.2 L228.5,311.2 L229.4,311.2 L230.4,311.1 L231.3,311.1 L232.3,311.0 L233.2,311.0 L234.2,311.0 L235.2,310.9 L236.1,310.9 L237.1,310.8 L238.0,310.8 L239.0,310.7 L239.9,310.7 L240.9,310.7 L241.8,310.6 L242.8,310.6 L243.8,310.6" stroke="#E3262A"/>
<path d="M52.7,349.8 L53.0,334.7 L53.3,332.9 L53.7,332.0 L53.9,331.6 L54.0,331.5 L54.6,330.7 L55.6,329.9 L56.0,329.5 L56.5,328.7 L57.5,327.1 L57.5,327.0 L58.4,325.4 L59.0,324.6 L59.4,324.1 L60.3,323.1 L61.3,322.1 L61.9,321.5 L62.3,321.2 L63.2,320.4 L63.4,320.3 L64.2,319.6 L65.1,318.7 L66.1,317.7 L67.0,316.8 L68.0,316.1 L68.9,315.4 L69.9,314.8 L70.8,314.2 L71.8,313.7 L72.8,313.2 L73.7,312.8 L74.7,312.5 L75.6,312.2 L76.6,312.0 L77.5,311.8 L78.5,311.6 L79.4,311.4 L80.4,311.3 L81.4,311.1 L82.3,310.9 L83.3,310.8 L84.2,310.6 L85.2,310.5 L86.1,310.3 L87.1,310.2 L88.0,310.0 L89.0,309.8 L90.0,309.6 L90.9,309.3 L91.9,309.0 L92.8,308.7 L93.8,308.4 L94.7,308.0 L95.7,307.6 L96.6,307.1 L97.6,306.6 L98.6,306.1 L99.5,305.6 L100.5,305.3 L101.4,305.0 L102.4,304.9 L103.3,304.7 L104.3,304.6 L105.2,304.5 L106.2,304.4 L107.1,304.3 L108.1,304.3 L109.1,304.2 L110.0,304.1 L111.0,304.1 L111.9,304.0 L112.9,303.9 L113.8,303.9 L114.8,303.8 L115.7,303.8 L116.7,303.7 L117.7,303.7 L118.6,303.6 L119.6,303.5 L120.5,303.5 L121.5,303.4 L122.4,303.4 L123.4,303.3 L124.3,303.3 L125.3,303.2 L126.3,303.2 L127.2,303.1 L128.2,303.1 L129.1,303.0 L130.1,303.0 L131.0,302.9 L132.0,302.9 L132.9,302.9 L133.9,302.8 L134.9,302.8 L135.8,302.7 L136.8,302.7 L137.7,302.6 L138.7,302.6 L139.6,302.6 L140.6,302.5 L141.5,302.5 L142.5,302.4 L143.4,302.4 L144.4,302.4 L145.4,302.3 L146.3,302.3 L147.3,302.2 L148.2,302.2 L149.2,302.1 L150.1,302.1 L151.1,302.1 L152.0,302.0 L153.0,302.0 L154.0,301.9 L154.9,301.9 L155.9,301.8 L156.8,301.8 L157.8,301.8 L158.7,301.7 L159.7,301.7 L160.6,301.6 L161.6,301.6 L162.6,301.5 L163.5,301.5 L164.5,301.5 L165.4,301.4 L166.4,301.4 L167.3,301.3 L168.3,301.3 L169.2,301.2 L170.2,301.2 L171.2,301.2 L172.1,301.1 L173.1,301.1 L174.0,301.0 L175.0,301.0 L175.9,301.0 L176.9,300.9 L177.8,300.9 L178.8,300.8 L179.7,300.8 L180.7,300.8 L181.7,300.7 L182.6,300.7 L183.6,300.6 L184.5,300.6 L185.5,300.6 L186.4,300.5 L187.4,300.5 L188.3,300.4 L189.3,300.4 L190.3,300.4 L191.2,300.3 L192.2,300.3 L193.1,300.2 L194.1,300.2 L195.0,300.2 L196.0,300.1 L196.9,300.1 L197.9,300.1 L198.9,300.0 L199.8,300.0 L200.8,299.9 L201.7,299.9 L202.7,299.9 L203.6,299.8 L204.6,299.8 L205.5,299.8 L206.5,299.7 L207.5,299.7 L208.4,299.6 L209.4,299.6 L210.3,299.6 L211.3,299.5 L212.2,299.5 L213.2,299.5 L214.1,299.4 L215.1,299.4 L216.0,299.4 L217.0,299.3 L218.0,299.3 L218.9,299.3 L219.9,299.2 L220.8,299.2 L221.8,299.1 L222.7,299.1 L223.7,299.1 L224.6,299.0 L225.6,299.0 L226.6,299.0 L227.5,298.9 L228.5,298.9 L229.4,298.9 L230.4,298.8 L231.3,298.8 L232.3,298.8 L233.2,298.7 L234.2,298.7 L235.2,298.7 L236.1,298.6 L237.1,298.6 L238.0,298.6 L239.0,298.5 L239.9,298.5 L240.9,298.4 L241.8,298.4 L242.8,298.4 L243.8,298.4" stroke="#8E4FAE"/>
<path d="M52.7,349.8 L53.0,329.0 L53.3,323.9 L53.7,320.8 L53.9,319.3 L54.0,318.7 L54.6,314.8 L55.6,310.6 L55.6,310.5 L56.0,309.2 L56.5,307.7 L57.5,305.5 L58.0,304.6 L58.4,303.8 L59.4,302.5 L60.3,301.1 L60.4,301.0 L60.9,300.6 L61.3,300.3 L62.3,299.1 L63.2,297.6 L63.9,296.7 L64.2,296.4 L65.1,295.3 L66.1,294.0 L67.0,292.7 L68.0,291.6 L68.9,290.7 L69.9,289.8 L70.8,289.0 L71.8,288.3 L72.8,287.6 L73.7,286.9 L74.7,286.1 L75.6,285.4 L76.6,284.7 L77.5,284.0 L78.5,283.3 L79.4,282.5 L80.4,281.8 L81.4,281.2 L82.3,280.6 L83.3,280.1 L84.2,279.7 L85.2,279.3 L86.1,279.0 L87.1,278.6 L88.0,278.3 L89.0,277.9 L90.0,277.4 L90.9,277.0 L91.9,276.6 L92.8,276.2 L93.8,275.8 L94.7,275.5 L95.7,275.1 L96.6,274.8 L97.6,274.4 L98.6,274.1 L99.5,273.7 L100.5,273.3 L101.4,273.0 L102.4,272.6 L103.3,272.2 L104.3,271.8 L105.2,271.4 L106.2,271.1 L107.1,270.7 L108.1,270.4 L109.1,270.1 L110.0,269.8 L111.0,269.5 L111.9,269.2 L112.9,268.9 L113.8,268.7 L114.8,268.5 L115.7,268.3 L116.7,268.1 L117.7,267.9 L118.6,267.7 L119.6,267.5 L120.5,267.3 L121.5,267.1 L122.4,266.9 L123.4,266.6 L124.3,266.3 L125.3,266.0 L126.3,265.7 L127.2,265.4 L128.2,265.1 L129.1,264.9 L130.1,264.7 L131.0,264.5 L132.0,264.3 L132.9,264.1 L133.9,263.9 L134.9,263.7 L135.8,263.5 L136.8,263.2 L137.7,262.9 L138.7,262.5 L139.6,262.1 L140.6,261.7 L141.5,261.3 L142.5,260.9 L143.4,260.6 L144.4,260.3 L145.4,260.1 L146.3,259.9 L147.3,259.7 L148.2,259.5 L149.2,259.3 L150.1,259.2 L151.1,259.0 L152.0,258.8 L153.0,258.6 L154.0,258.4 L154.9,258.3 L155.9,258.1 L156.8,257.9 L157.8,257.7 L158.7,257.4 L159.7,257.2 L160.6,256.9 L161.6,256.6 L162.6,256.3 L163.5,256.0 L164.5,255.7 L165.4,255.4 L166.4,255.2 L167.3,255.0 L168.3,254.8 L169.2,254.6 L170.2,254.4 L171.2,254.2 L172.1,254.0 L173.1,253.9 L174.0,253.7 L175.0,253.5 L175.9,253.2 L176.9,253.0 L177.8,252.8 L178.8,252.6 L179.7,252.4 L180.7,252.2 L181.7,252.0 L182.6,251.8 L183.6,251.8 L184.5,251.8 L185.5,252.0 L186.4,252.0 L187.4,252.0 L188.3,251.9 L189.3,251.8 L190.3,251.6 L191.2,251.5 L192.2,251.3 L193.1,251.2 L194.1,251.1 L195.0,250.9 L196.0,250.8 L196.9,250.6 L197.9,250.5 L198.9,250.3 L199.8,250.1 L200.8,250.0 L201.7,249.8 L202.7,249.7 L203.6,249.5 L204.6,249.3 L205.5,249.2 L206.5,249.0 L207.5,248.8 L208.4,248.7 L209.4,248.5 L210.3,248.4 L211.3,248.2 L212.2,248.0 L213.2,247.9 L214.1,247.7 L215.1,247.6 L216.0,247.4 L217.0,247.3 L218.0,247.1 L218.9,247.0 L219.9,246.8 L220.8,246.7 L221.8,246.5 L222.7,246.4 L223.7,246.3 L224.6,246.1 L225.6,246.0 L226.6,245.9 L227.5,245.7 L228.5,245.6 L229.4,245.5 L230.4,245.3 L231.3,245.2 L232.3,245.1 L233.2,245.0 L234.2,244.8 L235.2,244.7 L236.1,244.6 L237.1,244.5 L238.0,244.4 L239.0,244.2 L239.9,244.1 L240.9,244.0 L241.8,243.9 L242.8,243.8 L243.8,243.7" stroke="#3B4EA6"/>
<path d="M52.7,349.8 L52.8,331.2 L53.3,319.3 L53.4,318.2 L53.7,314.6 L54.4,308.1 L54.5,307.3 L54.6,306.6 L55.6,301.9 L56.0,300.4 L56.0,300.4 L56.5,298.6 L57.5,295.9 L58.0,294.8 L58.4,293.8 L59.4,292.1 L60.3,290.4 L60.4,290.3 L60.9,289.9 L61.3,289.6 L62.3,288.6 L63.2,287.4 L63.9,286.6 L64.2,286.3 L65.1,285.0 L66.1,283.5 L67.0,281.8 L68.0,280.3 L68.9,279.1 L69.9,278.0 L70.8,277.0 L71.8,276.1 L72.8,275.3 L73.7,274.5 L74.7,273.7 L75.6,272.8 L76.6,272.0 L77.5,271.2 L78.5,270.4 L79.4,269.6 L80.4,268.9 L81.4,268.2 L82.3,267.5 L83.3,266.8 L84.2,266.1 L85.2,265.5 L86.1,264.9 L87.1,264.2 L88.0,263.5 L89.0,262.7 L90.0,262.0 L90.9,261.2 L91.9,260.5 L92.8,259.8 L93.8,259.2 L94.7,258.7 L95.7,258.3 L96.6,257.9 L97.6,257.5 L98.6,257.2 L99.5,256.8 L100.5,256.4 L101.4,255.9 L102.4,255.5 L103.3,255.0 L104.3,254.5 L105.2,254.0 L106.2,253.5 L107.1,253.1 L108.1,252.6 L109.1,252.2 L110.0,251.8 L111.0,251.4 L111.9,251.1 L112.9,250.7 L113.8,250.4 L114.8,250.0 L115.7,249.7 L116.7,249.4 L117.7,249.1 L118.6,248.8 L119.6,248.6 L120.5,248.3 L121.5,248.0 L122.4,247.7 L123.4,247.4 L124.3,247.2 L125.3,246.9 L126.3,246.6 L127.2,246.3 L128.2,246.0 L129.1,245.7 L130.1,245.4 L131.0,245.1 L132.0,244.8 L132.9,244.5 L133.9,244.2 L134.9,244.0 L135.8,243.7 L136.8,243.5 L137.7,243.3 L138.7,243.1 L139.6,242.9 L140.6,242.7 L141.5,242.5 L142.5,242.3 L143.4,242.1 L144.4,241.9 L145.4,241.7 L146.3,241.6 L147.3,241.4 L148.2,241.2 L149.2,241.0 L150.1,240.8 L151.1,240.6 L152.0,240.4 L153.0,240.1 L154.0,239.9 L154.9,239.7 L155.9,239.4 L156.8,239.2 L157.8,239.0 L158.7,238.8 L159.7,238.6 L160.6,238.4 L161.6,238.2 L162.6,238.0 L163.5,237.8 L164.5,237.6 L165.4,237.4 L166.4,237.3 L167.3,237.1 L168.3,236.9 L169.2,236.8 L170.2,236.6 L171.2,236.5 L172.1,236.3 L173.1,236.2 L174.0,236.1 L175.0,235.9 L175.9,235.8 L176.9,235.7 L177.8,235.6 L178.8,235.4 L179.7,235.3 L180.7,235.2 L181.7,235.1 L182.6,234.9 L183.6,234.6 L184.5,234.3 L185.5,233.9 L186.4,233.5 L187.4,233.3 L188.3,233.2 L189.3,233.1 L190.3,232.9 L191.2,232.8 L192.2,232.7 L193.1,232.6 L194.1,232.5 L195.0,232.4 L196.0,232.3 L196.9,232.2 L197.9,232.1 L198.9,232.1 L199.8,232.0 L200.8,231.9 L201.7,231.8 L202.7,231.7 L203.6,231.7 L204.6,231.6 L205.5,231.5 L206.5,231.5 L207.5,231.4 L208.4,231.3 L209.4,231.3 L210.3,231.2 L211.3,231.1 L212.2,231.1 L213.2,231.0 L214.1,231.0 L215.1,230.9 L216.0,230.8 L217.0,230.8 L218.0,230.7 L218.9,230.7 L219.9,230.6 L220.8,230.6 L221.8,230.5 L222.7,230.4 L223.7,230.4 L224.6,230.3 L225.6,230.3 L226.6,230.2 L227.5,230.2 L228.5,230.1 L229.4,230.1 L230.4,230.0 L231.3,230.0 L232.3,229.9 L233.2,229.9 L234.2,229.8 L235.2,229.8 L236.1,229.7 L237.1,229.7 L238.0,229.6 L239.0,229.6 L239.9,229.5 L240.9,229.5 L241.8,229.4 L242.8,229.4 L243.8,229.4" stroke="#EE6EA7"/>
<path d="M52.7,349.8 L52.8,331.2 L53.3,318.3 L53.4,317.2 L53.7,313.6 L54.4,307.1 L54.5,306.3 L54.6,305.5 L55.6,300.4 L56.0,298.8 L56.0,298.7 L56.5,296.8 L57.5,293.9 L58.0,292.8 L58.4,291.8 L59.4,290.1 L60.3,288.4 L60.4,288.3 L60.9,287.9 L61.3,287.5 L62.3,286.2 L63.2,284.7 L63.9,283.8 L64.2,283.4 L65.1,282.1 L66.1,280.5 L67.0,278.9 L68.0,277.5 L68.9,276.4 L69.9,275.3 L70.8,274.4 L71.8,273.5 L72.8,272.7 L73.7,272.0 L74.7,271.2 L75.6,270.5 L76.6,269.8 L77.5,269.0 L78.5,268.3 L79.4,267.6 L80.4,266.9 L81.4,266.2 L82.3,265.5 L83.3,264.9 L84.2,264.2 L85.2,263.5 L86.1,262.7 L87.1,261.8 L88.0,260.8 L89.0,259.9 L90.0,259.1 L90.9,258.3 L91.9,257.6 L92.8,256.9 L93.8,256.4 L94.7,256.0 L95.7,255.7 L96.6,255.4 L97.6,255.1 L98.6,254.9 L99.5,254.6 L100.5,254.3 L101.4,253.9 L102.4,253.5 L103.3,253.1 L104.3,252.7 L105.2,252.3 L106.2,252.0 L107.1,251.6 L108.1,251.3 L109.1,251.0 L110.0,250.7 L111.0,250.4 L111.9,250.2 L112.9,249.9 L113.8,249.6 L114.8,249.2 L115.7,248.9 L116.7,248.5 L117.7,248.1 L118.6,247.6 L119.6,247.3 L120.5,246.9 L121.5,246.6 L122.4,246.3 L123.4,246.1 L124.3,245.9 L125.3,245.7 L126.3,245.5 L127.2,245.3 L128.2,245.2 L129.1,245.0 L130.1,244.8 L131.0,244.6 L132.0,244.4 L132.9,244.2 L133.9,244.0 L134.9,243.8 L135.8,243.7 L136.8,243.5 L137.7,243.3 L138.7,243.1 L139.6,242.9 L140.6,242.7 L141.5,242.5 L142.5,242.3 L143.4,242.1 L144.4,242.0 L145.4,241.8 L146.3,241.7 L147.3,241.5 L148.2,241.4 L149.2,241.2 L150.1,241.0 L151.1,240.9 L152.0,240.7 L153.0,240.5 L154.0,240.2 L154.9,240.0 L155.9,239.8 L156.8,239.5 L157.8,239.3 L158.7,239.1 L159.7,238.9 L160.6,238.7 L161.6,238.5 L162.6,238.3 L163.5,238.1 L164.5,237.9 L165.4,237.7 L166.4,237.5 L167.3,237.3 L168.3,237.1 L169.2,236.9 L170.2,236.7 L171.2,236.6 L172.1,236.4 L173.1,236.2 L174.0,236.1 L175.0,235.9 L175.9,235.8 L176.9,235.7 L177.8,235.5 L178.8,235.4 L179.7,235.3 L180.7,235.2 L181.7,235.1 L182.6,235.0 L183.6,234.8 L184.5,234.6 L185.5,234.4 L186.4,234.2 L187.4,234.1 L188.3,234.0 L189.3,233.9 L190.3,233.8 L191.2,233.7 L192.2,233.6 L193.1,233.5 L194.1,233.4 L195.0,233.3 L196.0,233.2 L196.9,233.1 L197.9,233.0 L198.9,232.9 L199.8,232.8 L200.8,232.7 L201.7,232.6 L202.7,232.5 L203.6,232.4 L204.6,232.3 L205.5,232.2 L206.5,232.1 L207.5,232.0 L208.4,232.0 L209.4,231.9 L210.3,231.8 L211.3,231.7 L212.2,231.6 L213.2,231.5 L214.1,231.4 L215.1,231.3 L216.0,231.3 L217.0,231.2 L218.0,231.1 L218.9,231.0 L219.9,230.9 L220.8,230.9 L221.8,230.8 L222.7,230.7 L223.7,230.6 L224.6,230.6 L225.6,230.5 L226.6,230.4 L227.5,230.4 L228.5,230.3 L229.4,230.2 L230.4,230.2 L231.3,230.1 L232.3,230.1 L233.2,230.0 L234.2,229.9 L235.2,229.9 L236.1,229.8 L237.1,229.8 L238.0,229.7 L239.0,229.6 L239.9,229.6 L240.9,229.5 L241.8,229.5 L242.8,229.4 L243.8,229.4" stroke="#67BC4C"/>
<path d="M52.7,349.8 L52.8,333.1 L53.3,321.1 L53.4,320.1 L53.7,316.9 L54.4,311.0 L54.5,310.3 L54.6,309.6 L55.6,304.7 L56.0,303.2 L56.0,303.2 L56.5,301.7 L57.5,299.6 L58.0,298.8 L58.4,298.0 L59.4,296.7 L60.3,295.2 L60.4,295.1 L60.9,294.7 L61.3,294.4 L62.3,293.2 L63.2,291.7 L63.9,290.7 L64.2,290.4 L65.1,289.1 L66.1,287.5 L67.0,285.8 L68.0,284.4 L68.9,283.1 L69.9,282.0 L70.8,281.1 L71.8,280.2 L72.8,279.4 L73.7,278.6 L74.7,277.7 L75.6,276.9 L76.6,276.0 L77.5,275.2 L78.5,274.4 L79.4,273.7 L80.4,272.9 L81.4,272.2 L82.3,271.6 L83.3,271.0 L84.2,270.5 L85.2,270.1 L86.1,269.9 L87.1,269.6 L88.0,269.4 L89.0,269.1 L90.0,268.7 L90.9,268.3 L91.9,267.9 L92.8,267.5 L93.8,267.0 L94.7,266.5 L95.7,265.9 L96.6,265.3 L97.6,264.7 L98.6,264.1 L99.5,263.5 L100.5,262.9 L101.4,262.4 L102.4,262.0 L103.3,261.5 L104.3,261.1 L105.2,260.6 L106.2,260.1 L107.1,259.5 L108.1,258.7 L109.1,257.9 L110.0,256.9 L111.0,256.0 L111.9,255.1 L112.9,254.2 L113.8,253.6 L114.8,253.0 L115.7,252.6 L116.7,252.3 L117.7,252.0 L118.6,251.7 L119.6,251.5 L120.5,251.2 L121.5,250.9 L122.4,250.7 L123.4,250.4 L124.3,250.1 L125.3,249.8 L126.3,249.5 L127.2,249.2 L128.2,249.0 L129.1,248.6 L130.1,248.3 L131.0,248.0 L132.0,247.7 L132.9,247.3 L133.9,247.0 L134.9,246.7 L135.8,246.4 L136.8,246.1 L137.7,245.8 L138.7,245.6 L139.6,245.3 L140.6,245.1 L141.5,244.8 L142.5,244.6 L143.4,244.3 L144.4,244.1 L145.4,243.9 L146.3,243.6 L147.3,243.4 L148.2,243.1 L149.2,242.9 L150.1,242.6 L151.1,242.4 L152.0,242.1 L153.0,241.9 L154.0,241.7 L154.9,241.4 L155.9,241.2 L156.8,241.0 L157.8,240.8 L158.7,240.6 L159.7,240.4 L160.6,240.2 L161.6,240.0 L162.6,239.8 L163.5,239.6 L164.5,239.4 L165.4,239.2 L166.4,239.0 L167.3,238.8 L168.3,238.5 L169.2,238.3 L170.2,238.0 L171.2,237.8 L172.1,237.6 L173.1,237.4 L174.0,237.2 L175.0,237.1 L175.9,237.0 L176.9,236.8 L177.8,236.7 L178.8,236.6 L179.7,236.5 L180.7,236.4 L181.7,236.3 L182.6,236.2 L183.6,236.1 L184.5,236.1 L185.5,236.0 L186.4,235.9 L187.4,235.8 L188.3,235.7 L189.3,235.6 L190.3,235.5 L191.2,235.3 L192.2,235.2 L193.1,235.1 L194.1,234.9 L195.0,234.8 L196.0,234.7 L196.9,234.6 L197.9,234.4 L198.9,234.3 L199.8,234.2 L200.8,234.0 L201.7,233.9 L202.7,233.8 L203.6,233.7 L204.6,233.5 L205.5,233.4 L206.5,233.3 L207.5,233.1 L208.4,233.0 L209.4,232.9 L210.3,232.8 L211.3,232.6 L212.2,232.5 L213.2,232.4 L214.1,232.3 L215.1,232.1 L216.0,232.0 L217.0,231.9 L218.0,231.8 L218.9,231.7 L219.9,231.6 L220.8,231.5 L221.8,231.4 L222.7,231.3 L223.7,231.2 L224.6,231.1 L225.6,231.0 L226.6,230.9 L227.5,230.8 L228.5,230.7 L229.4,230.6 L230.4,230.5 L231.3,230.4 L232.3,230.4 L233.2,230.3 L234.2,230.2 L235.2,230.1 L236.1,230.0 L237.1,229.9 L238.0,229.8 L239.0,229.8 L239.9,229.7 L240.9,229.6 L241.8,229.5 L242.8,229.4 L243.8,229.4" stroke="#4AA8DE"/>
<path d="M52.7,349.8 L52.8,332.1 L53.3,320.2 L53.4,319.1 L53.7,315.9 L54.4,310.0 L54.5,309.3 L54.6,308.5 L55.6,303.4 L56.0,301.8 L56.0,301.8 L56.5,300.1 L57.5,297.7 L58.0,296.8 L58.4,296.0 L59.4,294.7 L60.3,293.2 L60.4,293.1 L60.9,292.7 L61.3,292.4 L62.3,291.2 L63.2,289.7 L63.9,288.7 L64.2,288.4 L65.1,287.1 L66.1,285.5 L67.0,283.8 L68.0,282.4 L68.9,281.1 L69.9,280.0 L70.8,279.1 L71.8,278.4 L72.8,277.6 L73.7,276.8 L74.7,276.0 L75.6,275.1 L76.6,274.1 L77.5,273.2 L78.5,272.4 L79.4,271.6 L80.4,270.9 L81.4,270.2 L82.3,269.5 L83.3,268.8 L84.2,268.2 L85.2,267.7 L86.1,267.3 L87.1,267.0 L88.0,266.7 L89.0,266.3 L90.0,265.8 L90.9,265.4 L91.9,264.8 L92.8,264.3 L93.8,263.7 L94.7,263.2 L95.7,262.7 L96.6,262.1 L97.6,261.6 L98.6,261.1 L99.5,260.5 L100.5,259.9 L101.4,259.2 L102.4,258.5 L103.3,257.9 L104.3,257.2 L105.2,256.5 L106.2,255.9 L107.1,255.2 L108.1,254.6 L109.1,254.0 L110.0,253.3 L111.0,252.7 L111.9,252.2 L112.9,251.6 L113.8,251.2 L114.8,250.8 L115.7,250.4 L116.7,250.1 L117.7,249.8 L118.6,249.5 L119.6,249.3 L120.5,249.0 L121.5,248.7 L122.4,248.5 L123.4,248.2 L124.3,248.0 L125.3,247.8 L126.3,247.5 L127.2,247.3 L128.2,247.0 L129.1,246.7 L130.1,246.4 L131.0,246.1 L132.0,245.8 L132.9,245.5 L133.9,245.1 L134.9,244.8 L135.8,244.5 L136.8,244.2 L137.7,243.9 L138.7,243.6 L139.6,243.3 L140.6,243.0 L141.5,242.7 L142.5,242.4 L143.4,242.2 L144.4,241.9 L145.4,241.7 L146.3,241.5 L147.3,241.3 L148.2,241.2 L149.2,241.0 L150.1,240.8 L151.1,240.6 L152.0,240.4 L153.0,240.2 L154.0,240.0 L154.9,239.8 L155.9,239.6 L156.8,239.5 L157.8,239.3 L158.7,239.1 L159.7,238.9 L160.6,238.7 L161.6,238.5 L162.6,238.3 L163.5,238.1 L164.5,237.9 L165.4,237.7 L166.4,237.5 L167.3,237.3 L168.3,237.1 L169.2,236.9 L170.2,236.7 L171.2,236.5 L172.1,236.4 L173.1,236.2 L174.0,236.1 L175.0,236.0 L175.9,235.9 L176.9,235.8 L177.8,235.7 L178.8,235.6 L179.7,235.6 L180.7,235.5 L181.7,235.4 L182.6,235.3 L183.6,235.2 L184.5,235.0 L185.5,234.8 L186.4,234.7 L187.4,234.5 L188.3,234.4 L189.3,234.3 L190.3,234.2 L191.2,234.1 L192.2,233.9 L193.1,233.8 L194.1,233.7 L195.0,233.6 L196.0,233.5 L196.9,233.4 L197.9,233.3 L198.9,233.2 L199.8,233.1 L200.8,233.0 L201.7,232.8 L202.7,232.7 L203.6,232.6 L204.6,232.5 L205.5,232.4 L206.5,232.3 L207.5,232.2 L208.4,232.1 L209.4,232.0 L210.3,231.9 L211.3,231.8 L212.2,231.7 L213.2,231.6 L214.1,231.5 L215.1,231.4 L216.0,231.3 L217.0,231.2 L218.0,231.1 L218.9,231.0 L219.9,231.0 L220.8,230.9 L221.8,230.8 L222.7,230.7 L223.7,230.6 L224.6,230.5 L225.6,230.5 L226.6,230.4 L227.5,230.3 L228.5,230.2 L229.4,230.1 L230.4,230.1 L231.3,230.0 L232.3,229.9 L233.2,229.8 L234.2,229.8 L235.2,229.7 L236.1,229.6 L237.1,229.6 L238.0,229.5 L239.0,229.4 L239.9,229.3 L240.9,229.3 L241.8,229.2 L242.8,229.1 L243.8,229.1" stroke="#F4D10C"/>
</g>
<rect x="43.5" y="202.8" width="209" height="153.7" fill="none" stroke="#333" stroke-width="1"/>
<text transform="translate(56.6,223.60000000000002) scale(0.88,1)" x="0" y="0" font-size="17" fill="#1a1a1a">D</text>
<rect x="260.5" y="202.8" width="209" height="153.7" fill="#fff"/>
<path d="M269.70,202.8 V356.5 M317.46,202.8 V356.5 M365.23,202.8 V356.5 M412.99,202.8 V356.5 M460.75,202.8 V356.5 M260.5,349.80 H469.5 M260.5,314.70 H469.5 M260.5,279.60 H469.5 M260.5,244.50 H469.5 M260.5,209.40 H469.5" stroke="#EBEBEB" stroke-width="1.1" fill="none"/>
<g clip-path="url(#cp4)" fill="none" stroke-width="1.75" stroke-linejoin="round" stroke-linecap="butt">
<path d="M269.7,349.8 L270.0,346.5 L270.3,345.5 L270.7,344.8 L270.9,344.4 L271.6,343.7 L272.0,343.5 L272.6,343.1 L273.5,342.8 L274.5,342.5 L274.5,342.5 L275.0,342.5 L275.4,342.4 L276.4,342.3 L277.3,342.3 L278.3,342.2 L279.3,342.2 L280.2,342.2 L281.2,342.1 L282.1,342.1 L283.1,342.0 L284.0,342.0 L285.0,342.0 L285.9,341.9 L286.9,341.9 L287.8,341.8 L288.8,341.8 L289.8,341.8 L290.7,341.7 L291.7,341.7 L292.6,341.6 L293.6,341.6 L294.5,341.6 L295.5,341.5 L296.4,341.5 L297.4,341.4 L298.4,341.4 L299.3,341.3 L300.3,341.3 L301.2,341.2 L302.2,341.1 L303.1,341.1 L304.1,341.0 L305.0,341.0 L306.0,340.9 L307.0,340.8 L307.9,340.8 L308.9,340.7 L309.8,340.6 L310.8,340.5 L311.7,340.4 L312.7,340.3 L313.6,340.2 L314.6,340.1 L315.6,339.9 L316.5,339.7 L317.5,339.5 L318.4,339.3 L319.4,339.3 L320.3,339.2 L321.3,339.1 L322.2,339.1 L323.2,339.0 L324.1,338.9 L325.1,338.9 L326.1,338.8 L327.0,338.7 L328.0,338.7 L328.9,338.6 L329.9,338.5 L330.8,338.5 L331.8,338.4 L332.7,338.3 L333.7,338.3 L334.7,338.2 L335.6,338.2 L336.6,338.1 L337.5,338.0 L338.5,338.0 L339.4,337.9 L340.4,337.8 L341.3,337.8 L342.3,337.7 L343.3,337.6 L344.2,337.6 L345.2,337.5 L346.1,337.5 L347.1,337.4 L348.0,337.3 L349.0,337.3 L349.9,337.2 L350.9,337.2 L351.9,337.1 L352.8,337.1 L353.8,337.0 L354.7,336.9 L355.7,336.9 L356.6,336.8 L357.6,336.8 L358.5,336.7 L359.5,336.7 L360.4,336.6 L361.4,336.6 L362.4,336.5 L363.3,336.5 L364.3,336.4 L365.2,336.4 L366.2,336.4 L367.1,336.3 L368.1,336.3 L369.0,336.2 L370.0,336.2 L371.0,336.1 L371.9,336.1 L372.9,336.1 L373.8,336.0 L374.8,336.0 L375.7,335.9 L376.7,335.9 L377.6,335.9 L378.6,335.8 L379.6,335.8 L380.5,335.8 L381.5,335.7 L382.4,335.7 L383.4,335.7 L384.3,335.6 L385.3,335.6 L386.2,335.6 L387.2,335.5 L388.2,335.5 L389.1,335.5 L390.1,335.4 L391.0,335.4 L392.0,335.4 L392.9,335.3 L393.9,335.3 L394.8,335.3 L395.8,335.2 L396.7,335.2 L397.7,335.2 L398.7,335.1 L399.6,335.1 L400.6,335.1 L401.5,335.0 L402.5,335.0 L403.4,335.0 L404.4,334.9 L405.3,334.9 L406.3,334.9 L407.3,334.8 L408.2,334.8 L409.2,334.8 L410.1,334.7 L411.1,334.7 L412.0,334.7 L413.0,334.6 L413.9,334.6 L414.9,334.6 L415.9,334.5 L416.8,334.5 L417.8,334.5 L418.7,334.4 L419.7,334.4 L420.6,334.3 L421.6,334.3 L422.5,334.3 L423.5,334.2 L424.5,334.2 L425.4,334.2 L426.4,334.1 L427.3,334.1 L428.3,334.1 L429.2,334.0 L430.2,334.0 L431.1,334.0 L432.1,333.9 L433.0,333.9 L434.0,333.8 L435.0,333.8 L435.9,333.8 L436.9,333.7 L437.8,333.7 L438.8,333.7 L439.7,333.6 L440.7,333.6 L441.6,333.6 L442.6,333.5 L443.6,333.5 L444.5,333.5 L445.5,333.4 L446.4,333.4 L447.4,333.3 L448.3,333.3 L449.3,333.3 L450.2,333.2 L451.2,333.2 L452.2,333.2 L453.1,333.1 L454.1,333.1 L455.0,333.1 L456.0,333.0 L456.9,333.0 L457.9,333.0 L458.8,332.9 L459.8,332.9 L460.8,332.9" stroke="#E3262A"/>
<path d="M269.7,349.8 L270.0,345.5 L270.3,344.5 L270.7,343.8 L270.9,343.4 L271.6,342.7 L272.0,342.4 L272.6,341.9 L273.5,341.2 L274.5,340.7 L274.5,340.7 L275.0,340.5 L275.4,340.3 L276.4,340.0 L277.3,339.8 L278.3,339.6 L278.9,339.5 L279.3,339.5 L280.2,339.3 L281.2,339.2 L282.1,339.0 L283.1,338.9 L284.0,338.8 L285.0,338.7 L285.9,338.6 L286.9,338.5 L287.8,338.4 L288.8,338.4 L289.8,338.3 L290.7,338.2 L291.7,338.2 L292.6,338.1 L293.6,338.1 L294.5,338.0 L295.5,338.0 L296.4,337.9 L297.4,337.9 L298.4,337.8 L299.3,337.8 L300.3,337.8 L301.2,337.7 L302.2,337.7 L303.1,337.7 L304.1,337.6 L305.0,337.6 L306.0,337.5 L307.0,337.5 L307.9,337.4 L308.9,337.3 L309.8,337.2 L310.8,337.1 L311.7,337.0 L312.7,336.9 L313.6,336.8 L314.6,336.7 L315.6,336.6 L316.5,336.5 L317.5,336.4 L318.4,336.3 L319.4,336.2 L320.3,336.2 L321.3,336.1 L322.2,336.0 L323.2,336.0 L324.1,335.9 L325.1,335.8 L326.1,335.8 L327.0,335.7 L328.0,335.6 L328.9,335.6 L329.9,335.5 L330.8,335.4 L331.8,335.4 L332.7,335.3 L333.7,335.3 L334.7,335.2 L335.6,335.1 L336.6,335.1 L337.5,335.0 L338.5,334.9 L339.4,334.9 L340.4,334.8 L341.3,334.8 L342.3,334.7 L343.3,334.7 L344.2,334.6 L345.2,334.5 L346.1,334.5 L347.1,334.4 L348.0,334.4 L349.0,334.3 L349.9,334.3 L350.9,334.2 L351.9,334.1 L352.8,334.1 L353.8,334.0 L354.7,334.0 L355.7,333.9 L356.6,333.9 L357.6,333.8 L358.5,333.8 L359.5,333.7 L360.4,333.7 L361.4,333.6 L362.4,333.6 L363.3,333.5 L364.3,333.5 L365.2,333.4 L366.2,333.4 L367.1,333.3 L368.1,333.3 L369.0,333.2 L370.0,333.2 L371.0,333.1 L371.9,333.1 L372.9,333.0 L373.8,333.0 L374.8,333.0 L375.7,332.9 L376.7,332.9 L377.6,332.8 L378.6,332.8 L379.6,332.7 L380.5,332.7 L381.5,332.6 L382.4,332.6 L383.4,332.6 L384.3,332.5 L385.3,332.5 L386.2,332.4 L387.2,332.4 L388.2,332.4 L389.1,332.3 L390.1,332.3 L391.0,332.2 L392.0,332.2 L392.9,332.2 L393.9,332.1 L394.8,332.1 L395.8,332.0 L396.7,332.0 L397.7,332.0 L398.7,331.9 L399.6,331.9 L400.6,331.8 L401.5,331.8 L402.5,331.8 L403.4,331.7 L404.4,331.7 L405.3,331.7 L406.3,331.6 L407.3,331.6 L408.2,331.5 L409.2,331.5 L410.1,331.5 L411.1,331.4 L412.0,331.4 L413.0,331.4 L413.9,331.3 L414.9,331.3 L415.9,331.3 L416.8,331.2 L417.8,331.2 L418.7,331.2 L419.7,331.1 L420.6,331.1 L421.6,331.1 L422.5,331.0 L423.5,331.0 L424.5,331.0 L425.4,331.0 L426.4,330.9 L427.3,330.9 L428.3,330.9 L429.2,330.8 L430.2,330.8 L431.1,330.8 L432.1,330.7 L433.0,330.7 L434.0,330.7 L435.0,330.6 L435.9,330.6 L436.9,330.5 L437.8,330.5 L438.8,330.4 L439.7,330.4 L440.7,330.3 L441.6,330.3 L442.6,330.2 L443.6,330.1 L444.5,330.1 L445.5,330.0 L446.4,329.9 L447.4,329.8 L448.3,329.8 L449.3,329.7 L450.2,329.6 L451.2,329.5 L452.2,329.4 L453.1,329.3 L454.1,329.3 L455.0,329.2 L456.0,329.1 L456.9,329.0 L457.9,328.9 L458.8,328.8 L459.8,328.8 L460.8,328.7" stroke="#8E4FAE"/>
<path d="M269.7,349.8 L270.0,332.9 L270.3,328.7 L270.7,326.1 L270.9,325.0 L271.0,324.7 L271.6,322.5 L272.6,320.3 L273.0,319.6 L273.0,319.6 L273.5,318.7 L274.5,317.4 L275.4,316.2 L276.0,315.6 L276.4,315.1 L277.3,314.1 L277.4,314.0 L278.3,313.4 L278.9,312.9 L279.3,312.6 L280.2,311.8 L281.2,311.0 L282.1,310.2 L283.1,309.6 L284.0,309.1 L285.0,308.6 L285.9,308.0 L286.9,307.5 L287.8,306.8 L288.8,306.1 L289.8,305.5 L290.7,304.9 L291.7,304.5 L292.6,304.2 L293.6,303.9 L294.5,303.6 L295.5,303.3 L296.4,302.8 L297.4,302.4 L298.4,301.9 L299.3,301.6 L300.3,301.3 L301.2,301.0 L302.2,300.7 L303.1,300.4 L304.1,300.1 L305.0,299.8 L306.0,299.5 L307.0,299.2 L307.9,298.8 L308.9,298.4 L309.8,297.7 L310.8,297.1 L311.7,296.4 L312.7,295.8 L313.6,295.3 L314.6,295.0 L315.6,294.6 L316.5,294.3 L317.5,294.0 L318.4,293.7 L319.4,293.4 L320.3,293.2 L321.3,292.9 L322.2,292.6 L323.2,292.3 L324.1,292.0 L325.1,291.7 L326.1,291.5 L327.0,291.2 L328.0,290.9 L328.9,290.6 L329.9,290.3 L330.8,290.0 L331.8,289.7 L332.7,289.4 L333.7,289.2 L334.7,288.9 L335.6,288.6 L336.6,288.3 L337.5,288.0 L338.5,287.7 L339.4,287.4 L340.4,287.1 L341.3,286.8 L342.3,286.5 L343.3,286.2 L344.2,286.0 L345.2,285.7 L346.1,285.5 L347.1,285.2 L348.0,285.0 L349.0,284.9 L349.9,284.7 L350.9,284.5 L351.9,284.3 L352.8,284.1 L353.8,283.9 L354.7,283.6 L355.7,283.3 L356.6,283.0 L357.6,282.7 L358.5,282.4 L359.5,282.1 L360.4,281.9 L361.4,281.6 L362.4,281.4 L363.3,281.2 L364.3,281.0 L365.2,280.9 L366.2,280.7 L367.1,280.5 L368.1,280.3 L369.0,280.1 L370.0,279.9 L371.0,279.7 L371.9,279.5 L372.9,279.3 L373.8,279.1 L374.8,279.0 L375.7,278.8 L376.7,278.7 L377.6,278.6 L378.6,278.5 L379.6,278.4 L380.5,278.3 L381.5,278.2 L382.4,278.1 L383.4,278.0 L384.3,277.9 L385.3,277.8 L386.2,277.6 L387.2,277.5 L388.2,277.3 L389.1,277.2 L390.1,277.1 L391.0,277.0 L392.0,276.8 L392.9,276.7 L393.9,276.6 L394.8,276.5 L395.8,276.3 L396.7,276.2 L397.7,276.1 L398.7,276.0 L399.6,275.8 L400.6,275.6 L401.5,275.2 L402.5,274.9 L403.4,274.6 L404.4,274.4 L405.3,274.2 L406.3,274.1 L407.3,273.9 L408.2,273.8 L409.2,273.6 L410.1,273.5 L411.1,273.3 L412.0,273.2 L413.0,273.1 L413.9,272.9 L414.9,272.8 L415.9,272.6 L416.8,272.5 L417.8,272.4 L418.7,272.2 L419.7,272.1 L420.6,271.9 L421.6,271.8 L422.5,271.7 L423.5,271.5 L424.5,271.4 L425.4,271.2 L426.4,271.1 L427.3,271.0 L428.3,270.8 L429.2,270.7 L430.2,270.6 L431.1,270.4 L432.1,270.3 L433.0,270.2 L434.0,270.0 L435.0,269.9 L435.9,269.8 L436.9,269.7 L437.8,269.6 L438.8,269.4 L439.7,269.3 L440.7,269.2 L441.6,269.1 L442.6,269.0 L443.6,268.9 L444.5,268.8 L445.5,268.7 L446.4,268.6 L447.4,268.5 L448.3,268.4 L449.3,268.3 L450.2,268.2 L451.2,268.1 L452.2,268.0 L453.1,267.9 L454.1,267.8 L455.0,267.7 L456.0,267.6 L456.9,267.5 L457.9,267.4 L458.8,267.3 L459.8,267.2 L460.8,267.2" stroke="#3B4EA6"/>
<path d="M269.7,349.8 L270.0,329.0 L270.3,321.6 L270.7,316.4 L271.0,313.0 L271.5,308.1 L271.6,307.0 L272.6,301.0 L272.6,300.9 L273.5,297.3 L274.5,294.7 L274.5,294.7 L275.0,293.8 L275.4,293.2 L276.4,292.2 L277.3,291.0 L277.4,291.0 L277.9,290.6 L278.3,290.2 L279.3,288.8 L280.2,287.1 L280.9,285.9 L281.2,285.6 L282.1,284.1 L283.1,282.5 L284.0,281.0 L285.0,279.8 L285.9,278.8 L286.9,277.8 L287.8,276.8 L288.8,275.9 L289.8,275.0 L290.7,274.2 L291.7,273.6 L292.6,273.0 L293.6,272.5 L294.5,272.0 L295.5,271.5 L296.4,270.8 L297.4,270.1 L298.4,269.3 L299.3,268.4 L300.3,267.5 L301.2,266.6 L302.2,265.6 L303.1,264.8 L304.1,264.0 L305.0,263.3 L306.0,262.7 L307.0,262.1 L307.9,261.5 L308.9,261.0 L309.8,260.5 L310.8,260.0 L311.7,259.6 L312.7,259.1 L313.6,258.7 L314.6,258.3 L315.6,257.9 L316.5,257.6 L317.5,257.3 L318.4,257.0 L319.4,256.7 L320.3,256.4 L321.3,256.1 L322.2,255.8 L323.2,255.5 L324.1,255.2 L325.1,254.9 L326.1,254.5 L327.0,254.1 L328.0,253.7 L328.9,253.4 L329.9,253.0 L330.8,252.6 L331.8,252.2 L332.7,251.8 L333.7,251.4 L334.7,251.0 L335.6,250.7 L336.6,250.3 L337.5,249.9 L338.5,249.5 L339.4,249.1 L340.4,248.7 L341.3,248.3 L342.3,247.9 L343.3,247.6 L344.2,247.2 L345.2,246.8 L346.1,246.5 L347.1,246.2 L348.0,245.8 L349.0,245.5 L349.9,245.2 L350.9,245.0 L351.9,244.7 L352.8,244.4 L353.8,244.2 L354.7,244.0 L355.7,243.8 L356.6,243.6 L357.6,243.4 L358.5,243.2 L359.5,243.0 L360.4,242.9 L361.4,242.7 L362.4,242.5 L363.3,242.3 L364.3,242.1 L365.2,241.9 L366.2,241.7 L367.1,241.5 L368.1,241.3 L369.0,241.1 L370.0,240.8 L371.0,240.5 L371.9,240.2 L372.9,239.9 L373.8,239.6 L374.8,239.3 L375.7,239.1 L376.7,238.9 L377.6,238.6 L378.6,238.4 L379.6,238.3 L380.5,238.1 L381.5,237.9 L382.4,237.7 L383.4,237.6 L384.3,237.4 L385.3,237.3 L386.2,237.1 L387.2,237.0 L388.2,236.9 L389.1,236.8 L390.1,236.6 L391.0,236.5 L392.0,236.4 L392.9,236.3 L393.9,236.2 L394.8,236.1 L395.8,236.0 L396.7,235.9 L397.7,235.8 L398.7,235.7 L399.6,235.6 L400.6,235.3 L401.5,235.0 L402.5,234.6 L403.4,234.2 L404.4,234.0 L405.3,233.8 L406.3,233.7 L407.3,233.6 L408.2,233.5 L409.2,233.3 L410.1,233.2 L411.1,233.1 L412.0,233.0 L413.0,232.9 L413.9,232.8 L414.9,232.7 L415.9,232.6 L416.8,232.6 L417.8,232.5 L418.7,232.4 L419.7,232.3 L420.6,232.3 L421.6,232.2 L422.5,232.1 L423.5,232.0 L424.5,232.0 L425.4,231.9 L426.4,231.9 L427.3,231.8 L428.3,231.7 L429.2,231.7 L430.2,231.6 L431.1,231.6 L432.1,231.5 L433.0,231.4 L434.0,231.4 L435.0,231.3 L435.9,231.3 L436.9,231.2 L437.8,231.1 L438.8,231.1 L439.7,231.0 L440.7,231.0 L441.6,230.9 L442.6,230.9 L443.6,230.8 L444.5,230.8 L445.5,230.7 L446.4,230.7 L447.4,230.6 L448.3,230.6 L449.3,230.5 L450.2,230.5 L451.2,230.4 L452.2,230.4 L453.1,230.3 L454.1,230.3 L455.0,230.2 L456.0,230.2 L456.9,230.1 L457.9,230.1 L458.8,230.0 L459.8,230.0 L460.8,230.0" stroke="#EE6EA7"/>
<path d="M269.7,349.8 L269.8,333.1 L270.3,320.7 L270.6,317.0 L270.7,315.7 L270.9,311.6 L271.4,304.9 L271.6,303.0 L272.1,299.8 L272.6,297.4 L273.0,295.7 L273.5,293.7 L274.5,290.9 L274.5,290.9 L275.0,289.8 L275.4,288.8 L276.4,287.1 L277.3,285.4 L277.4,285.3 L277.9,284.9 L278.3,284.5 L279.3,283.2 L280.2,281.8 L280.9,280.8 L281.2,280.5 L282.1,279.1 L283.1,277.5 L284.0,275.9 L285.0,274.4 L285.9,273.2 L286.9,272.0 L287.8,270.9 L288.8,269.9 L289.8,269.0 L290.7,268.1 L291.7,267.3 L292.6,266.5 L293.6,265.8 L294.5,265.2 L295.5,264.6 L296.4,264.1 L297.4,263.6 L298.4,263.1 L299.3,262.7 L300.3,262.4 L301.2,262.0 L302.2,261.6 L303.1,261.2 L304.1,260.8 L305.0,260.3 L306.0,259.8 L307.0,259.2 L307.9,258.7 L308.9,258.1 L309.8,257.5 L310.8,256.9 L311.7,256.3 L312.7,255.6 L313.6,255.0 L314.6,254.4 L315.6,253.8 L316.5,253.2 L317.5,252.7 L318.4,252.1 L319.4,251.6 L320.3,251.1 L321.3,250.6 L322.2,250.2 L323.2,249.8 L324.1,249.5 L325.1,249.2 L326.1,248.9 L327.0,248.7 L328.0,248.6 L328.9,248.4 L329.9,248.2 L330.8,248.0 L331.8,247.9 L332.7,247.7 L333.7,247.6 L334.7,247.4 L335.6,247.3 L336.6,247.1 L337.5,247.0 L338.5,246.8 L339.4,246.6 L340.4,246.4 L341.3,246.2 L342.3,245.9 L343.3,245.7 L344.2,245.5 L345.2,245.2 L346.1,245.0 L347.1,244.8 L348.0,244.5 L349.0,244.3 L349.9,244.0 L350.9,243.8 L351.9,243.6 L352.8,243.4 L353.8,243.2 L354.7,243.0 L355.7,242.9 L356.6,242.7 L357.6,242.6 L358.5,242.4 L359.5,242.3 L360.4,242.1 L361.4,241.9 L362.4,241.8 L363.3,241.6 L364.3,241.4 L365.2,241.2 L366.2,241.0 L367.1,240.8 L368.1,240.6 L369.0,240.4 L370.0,240.1 L371.0,239.9 L371.9,239.7 L372.9,239.4 L373.8,239.2 L374.8,239.0 L375.7,238.8 L376.7,238.6 L377.6,238.4 L378.6,238.3 L379.6,238.2 L380.5,238.0 L381.5,237.9 L382.4,237.7 L383.4,237.5 L384.3,237.3 L385.3,237.1 L386.2,236.9 L387.2,236.7 L388.2,236.6 L389.1,236.4 L390.1,236.2 L391.0,236.0 L392.0,235.9 L392.9,235.8 L393.9,235.6 L394.8,235.5 L395.8,235.4 L396.7,235.3 L397.7,235.2 L398.7,235.0 L399.6,234.8 L400.6,234.5 L401.5,234.0 L402.5,233.5 L403.4,233.0 L404.4,232.8 L405.3,232.6 L406.3,232.5 L407.3,232.3 L408.2,232.2 L409.2,232.1 L410.1,232.0 L411.1,231.9 L412.0,231.8 L413.0,231.7 L413.9,231.6 L414.9,231.5 L415.9,231.5 L416.8,231.4 L417.8,231.3 L418.7,231.2 L419.7,231.1 L420.6,231.1 L421.6,231.0 L422.5,230.9 L423.5,230.9 L424.5,230.8 L425.4,230.7 L426.4,230.7 L427.3,230.6 L428.3,230.5 L429.2,230.5 L430.2,230.4 L431.1,230.4 L432.1,230.3 L433.0,230.2 L434.0,230.2 L435.0,230.1 L435.9,230.1 L436.9,230.0 L437.8,230.0 L438.8,229.9 L439.7,229.8 L440.7,229.8 L441.6,229.7 L442.6,229.7 L443.6,229.6 L444.5,229.6 L445.5,229.5 L446.4,229.5 L447.4,229.4 L448.3,229.4 L449.3,229.3 L450.2,229.3 L451.2,229.2 L452.2,229.2 L453.1,229.1 L454.1,229.1 L455.0,229.0 L456.0,229.0 L456.9,228.9 L457.9,228.9 L458.8,228.8 L459.8,228.8 L460.8,228.8" stroke="#67BC4C"/>
<path d="M269.7,349.8 L270.0,334.8 L270.3,328.5 L270.7,323.9 L271.0,320.8 L271.5,316.1 L271.6,315.1 L272.6,308.9 L272.6,308.9 L273.5,304.9 L274.5,302.0 L274.5,302.0 L275.0,300.8 L275.4,299.8 L276.4,298.1 L277.3,296.4 L277.4,296.3 L277.9,295.8 L278.3,295.5 L279.3,294.2 L280.2,292.7 L280.9,291.7 L281.2,291.4 L282.1,290.0 L283.1,288.4 L284.0,286.8 L285.0,285.3 L285.9,284.1 L286.9,283.0 L287.8,282.1 L288.8,281.3 L289.8,280.6 L290.7,280.0 L291.7,279.4 L292.6,278.9 L293.6,278.5 L294.5,278.0 L295.5,277.4 L296.4,276.8 L297.4,276.2 L298.4,275.6 L299.3,275.0 L300.3,274.4 L301.2,274.0 L302.2,273.6 L303.1,273.3 L304.1,273.1 L305.0,272.8 L306.0,272.5 L307.0,272.1 L307.9,271.7 L308.9,271.3 L309.8,270.8 L310.8,270.4 L311.7,269.9 L312.7,269.4 L313.6,268.8 L314.6,268.3 L315.6,267.7 L316.5,267.1 L317.5,266.5 L318.4,265.8 L319.4,265.1 L320.3,264.5 L321.3,263.8 L322.2,263.1 L323.2,262.5 L324.1,261.9 L325.1,261.3 L326.1,260.8 L327.0,260.3 L328.0,259.8 L328.9,259.4 L329.9,258.9 L330.8,258.5 L331.8,258.1 L332.7,257.7 L333.7,257.3 L334.7,256.9 L335.6,256.6 L336.6,256.2 L337.5,255.8 L338.5,255.3 L339.4,254.9 L340.4,254.3 L341.3,253.8 L342.3,253.2 L343.3,252.5 L344.2,252.0 L345.2,251.4 L346.1,250.9 L347.1,250.4 L348.0,250.0 L349.0,249.6 L349.9,249.2 L350.9,248.8 L351.9,248.5 L352.8,248.2 L353.8,247.9 L354.7,247.6 L355.7,247.4 L356.6,247.2 L357.6,246.9 L358.5,246.7 L359.5,246.5 L360.4,246.2 L361.4,246.0 L362.4,245.6 L363.3,245.3 L364.3,245.0 L365.2,244.6 L366.2,244.2 L367.1,243.9 L368.1,243.6 L369.0,243.2 L370.0,242.9 L371.0,242.6 L371.9,242.4 L372.9,242.1 L373.8,241.8 L374.8,241.5 L375.7,241.3 L376.7,241.0 L377.6,240.7 L378.6,240.5 L379.6,240.2 L380.5,240.0 L381.5,239.8 L382.4,239.5 L383.4,239.3 L384.3,239.1 L385.3,238.9 L386.2,238.7 L387.2,238.5 L388.2,238.3 L389.1,238.1 L390.1,238.0 L391.0,237.8 L392.0,237.7 L392.9,237.6 L393.9,237.4 L394.8,237.3 L395.8,237.2 L396.7,237.1 L397.7,237.0 L398.7,236.8 L399.6,236.7 L400.6,236.5 L401.5,236.3 L402.5,236.1 L403.4,235.9 L404.4,235.7 L405.3,235.6 L406.3,235.5 L407.3,235.4 L408.2,235.3 L409.2,235.1 L410.1,235.0 L411.1,234.9 L412.0,234.8 L413.0,234.7 L413.9,234.6 L414.9,234.5 L415.9,234.4 L416.8,234.3 L417.8,234.2 L418.7,234.1 L419.7,234.0 L420.6,233.9 L421.6,233.8 L422.5,233.7 L423.5,233.6 L424.5,233.5 L425.4,233.4 L426.4,233.3 L427.3,233.2 L428.3,233.2 L429.2,233.1 L430.2,233.0 L431.1,232.9 L432.1,232.8 L433.0,232.7 L434.0,232.7 L435.0,232.6 L435.9,232.5 L436.9,232.4 L437.8,232.3 L438.8,232.3 L439.7,232.2 L440.7,232.1 L441.6,232.1 L442.6,232.0 L443.6,231.9 L444.5,231.9 L445.5,231.8 L446.4,231.7 L447.4,231.7 L448.3,231.6 L449.3,231.5 L450.2,231.5 L451.2,231.4 L452.2,231.4 L453.1,231.3 L454.1,231.2 L455.0,231.2 L456.0,231.1 L456.9,231.1 L457.9,231.0 L458.8,230.9 L459.8,230.9 L460.8,230.9" stroke="#4AA8DE"/>
<path d="M269.7,349.8 L270.0,330.9 L270.3,323.6 L270.7,318.4 L271.0,315.0 L271.5,310.1 L271.6,309.1 L272.6,303.0 L272.6,303.0 L273.5,299.4 L274.5,296.9 L274.5,296.8 L275.0,295.9 L275.4,295.0 L276.4,293.7 L277.3,292.3 L277.4,292.2 L277.9,291.8 L278.3,291.5 L279.3,290.3 L280.2,288.8 L280.9,287.8 L281.2,287.5 L282.1,286.1 L283.1,284.6 L284.0,283.1 L285.0,281.8 L285.9,280.8 L286.9,279.9 L287.8,279.1 L288.8,278.4 L289.8,277.6 L290.7,276.9 L291.7,276.2 L292.6,275.5 L293.6,274.8 L294.5,274.1 L295.5,273.5 L296.4,272.9 L297.4,272.2 L298.4,271.6 L299.3,271.0 L300.3,270.5 L301.2,270.0 L302.2,269.5 L303.1,269.2 L304.1,268.9 L305.0,268.6 L306.0,268.2 L307.0,267.8 L307.9,267.4 L308.9,267.0 L309.8,266.5 L310.8,266.0 L311.7,265.5 L312.7,265.0 L313.6,264.5 L314.6,263.9 L315.6,263.3 L316.5,262.7 L317.5,262.0 L318.4,261.3 L319.4,260.5 L320.3,259.7 L321.3,258.9 L322.2,258.1 L323.2,257.4 L324.1,256.8 L325.1,256.2 L326.1,255.6 L327.0,255.1 L328.0,254.6 L328.9,254.2 L329.9,253.7 L330.8,253.3 L331.8,253.0 L332.7,252.7 L333.7,252.4 L334.7,252.1 L335.6,251.8 L336.6,251.5 L337.5,251.2 L338.5,250.9 L339.4,250.6 L340.4,250.2 L341.3,249.9 L342.3,249.5 L343.3,249.1 L344.2,248.7 L345.2,248.3 L346.1,248.0 L347.1,247.6 L348.0,247.3 L349.0,247.0 L349.9,246.8 L350.9,246.5 L351.9,246.2 L352.8,245.9 L353.8,245.6 L354.7,245.3 L355.7,245.1 L356.6,244.8 L357.6,244.5 L358.5,244.2 L359.5,243.9 L360.4,243.6 L361.4,243.4 L362.4,243.1 L363.3,242.9 L364.3,242.7 L365.2,242.5 L366.2,242.2 L367.1,242.0 L368.1,241.8 L369.0,241.5 L370.0,241.3 L371.0,241.0 L371.9,240.8 L372.9,240.5 L373.8,240.3 L374.8,240.0 L375.7,239.8 L376.7,239.6 L377.6,239.4 L378.6,239.2 L379.6,239.0 L380.5,238.8 L381.5,238.7 L382.4,238.5 L383.4,238.3 L384.3,238.1 L385.3,237.9 L386.2,237.7 L387.2,237.5 L388.2,237.3 L389.1,237.1 L390.1,236.9 L391.0,236.8 L392.0,236.7 L392.9,236.5 L393.9,236.4 L394.8,236.3 L395.8,236.2 L396.7,236.0 L397.7,235.9 L398.7,235.8 L399.6,235.6 L400.6,235.4 L401.5,235.1 L402.5,234.8 L403.4,234.5 L404.4,234.4 L405.3,234.2 L406.3,234.1 L407.3,233.9 L408.2,233.8 L409.2,233.7 L410.1,233.6 L411.1,233.4 L412.0,233.3 L413.0,233.2 L413.9,233.1 L414.9,233.0 L415.9,232.9 L416.8,232.8 L417.8,232.7 L418.7,232.6 L419.7,232.5 L420.6,232.4 L421.6,232.3 L422.5,232.2 L423.5,232.1 L424.5,232.0 L425.4,231.9 L426.4,231.8 L427.3,231.7 L428.3,231.7 L429.2,231.6 L430.2,231.5 L431.1,231.4 L432.1,231.3 L433.0,231.2 L434.0,231.2 L435.0,231.1 L435.9,231.0 L436.9,230.9 L437.8,230.9 L438.8,230.8 L439.7,230.7 L440.7,230.6 L441.6,230.6 L442.6,230.5 L443.6,230.4 L444.5,230.4 L445.5,230.3 L446.4,230.2 L447.4,230.2 L448.3,230.1 L449.3,230.1 L450.2,230.0 L451.2,229.9 L452.2,229.9 L453.1,229.8 L454.1,229.8 L455.0,229.7 L456.0,229.6 L456.9,229.6 L457.9,229.5 L458.8,229.5 L459.8,229.4 L460.8,229.4" stroke="#F4D10C"/>
</g>
<rect x="260.5" y="202.8" width="209" height="153.7" fill="none" stroke="#333" stroke-width="1"/>
<text transform="translate(273.6,223.60000000000002) scale(0.88,1)" x="0" y="0" font-size="17" fill="#1a1a1a">E</text>
<rect x="477.5" y="202.8" width="209" height="153.7" fill="#fff"/>
<path d="M486.70,202.8 V356.5 M534.46,202.8 V356.5 M582.23,202.8 V356.5 M629.99,202.8 V356.5 M677.75,202.8 V356.5 M477.5,349.80 H686.5 M477.5,314.70 H686.5 M477.5,279.60 H686.5 M477.5,244.50 H686.5 M477.5,209.40 H686.5" stroke="#EBEBEB" stroke-width="1.1" fill="none"/>
<g clip-path="url(#cp5)" fill="none" stroke-width="1.75" stroke-linejoin="round" stroke-linecap="butt">
<path d="M486.7,349.8 L487.7,349.6 L488.6,349.3 L489.6,349.1 L490.5,348.8 L491.5,348.6 L492.4,348.3 L493.4,348.2 L493.9,348.1 L494.3,348.0 L495.3,347.9 L496.3,347.7 L497.2,347.6 L498.2,347.5 L499.1,347.4 L500.1,347.3 L501.0,347.2 L502.0,347.1 L502.9,346.9 L503.9,346.8 L504.8,346.7 L505.8,346.6 L506.8,346.4 L507.7,346.3 L508.7,346.1 L509.6,346.0 L510.6,345.9 L511.5,345.7 L512.5,345.6 L513.4,345.5 L514.4,345.4 L515.4,345.3 L516.3,345.2 L517.3,345.1 L518.2,345.0 L519.2,344.9 L520.1,344.8 L521.1,344.7 L522.0,344.6 L523.0,344.5 L524.0,344.4 L524.9,344.3 L525.9,344.2 L526.8,344.1 L527.8,344.0 L528.7,343.9 L529.7,343.8 L530.6,343.7 L531.6,343.5 L532.6,343.4 L533.5,343.2 L534.5,343.0 L535.4,342.9 L536.4,342.8 L537.3,342.7 L538.3,342.7 L539.2,342.6 L540.2,342.5 L541.1,342.5 L542.1,342.4 L543.1,342.3 L544.0,342.3 L545.0,342.2 L545.9,342.2 L546.9,342.1 L547.8,342.0 L548.8,342.0 L549.7,341.9 L550.7,341.9 L551.7,341.8 L552.6,341.8 L553.6,341.7 L554.5,341.7 L555.5,341.6 L556.4,341.6 L557.4,341.5 L558.3,341.5 L559.3,341.4 L560.3,341.4 L561.2,341.3 L562.2,341.3 L563.1,341.2 L564.1,341.2 L565.0,341.1 L566.0,341.1 L566.9,341.0 L567.9,341.0 L568.9,340.9 L569.8,340.9 L570.8,340.8 L571.7,340.8 L572.7,340.7 L573.6,340.7 L574.6,340.6 L575.5,340.6 L576.5,340.6 L577.4,340.5 L578.4,340.5 L579.4,340.4 L580.3,340.4 L581.3,340.3 L582.2,340.3 L583.2,340.2 L584.1,340.2 L585.1,340.1 L586.0,340.1 L587.0,340.0 L588.0,340.0 L588.9,339.9 L589.9,339.9 L590.8,339.8 L591.8,339.8 L592.7,339.7 L593.7,339.7 L594.6,339.6 L595.6,339.6 L596.6,339.5 L597.5,339.5 L598.5,339.4 L599.4,339.4 L600.4,339.3 L601.3,339.3 L602.3,339.3 L603.2,339.2 L604.2,339.2 L605.2,339.1 L606.1,339.1 L607.1,339.0 L608.0,339.0 L609.0,338.9 L609.9,338.9 L610.9,338.8 L611.8,338.8 L612.8,338.7 L613.7,338.7 L614.7,338.7 L615.7,338.6 L616.6,338.6 L617.6,338.5 L618.5,338.5 L619.5,338.4 L620.4,338.4 L621.4,338.3 L622.3,338.3 L623.3,338.2 L624.3,338.2 L625.2,338.1 L626.2,338.1 L627.1,338.0 L628.1,338.0 L629.0,338.0 L630.0,337.9 L630.9,337.9 L631.9,337.8 L632.9,337.8 L633.8,337.7 L634.8,337.7 L635.7,337.6 L636.7,337.6 L637.6,337.5 L638.6,337.5 L639.5,337.4 L640.5,337.4 L641.5,337.3 L642.4,337.3 L643.4,337.2 L644.3,337.2 L645.3,337.1 L646.2,337.1 L647.2,337.0 L648.1,337.0 L649.1,337.0 L650.0,336.9 L651.0,336.9 L652.0,336.8 L652.9,336.8 L653.9,336.7 L654.8,336.7 L655.8,336.6 L656.7,336.6 L657.7,336.5 L658.6,336.5 L659.6,336.4 L660.6,336.4 L661.5,336.3 L662.5,336.3 L663.4,336.2 L664.4,336.2 L665.3,336.1 L666.3,336.1 L667.2,336.0 L668.2,336.0 L669.2,336.0 L670.1,335.9 L671.1,335.9 L672.0,335.8 L673.0,335.8 L673.9,335.7 L674.9,335.7 L675.8,335.6 L676.8,335.6 L677.8,335.6" stroke="#E3262A"/>
<path d="M486.7,349.8 L487.7,349.5 L488.6,349.1 L489.6,348.8 L490.5,348.5 L491.5,348.1 L492.4,347.9 L493.4,347.6 L493.9,347.5 L494.3,347.4 L495.3,347.3 L496.3,347.1 L497.2,347.0 L498.2,346.8 L499.1,346.7 L500.1,346.6 L501.0,346.4 L502.0,346.3 L502.9,346.2 L503.9,346.1 L504.8,345.9 L505.8,345.8 L506.8,345.6 L507.7,345.4 L508.7,345.3 L509.6,345.1 L510.6,344.9 L511.5,344.8 L512.5,344.7 L513.4,344.5 L514.4,344.4 L515.4,344.3 L516.3,344.2 L517.3,344.1 L518.2,344.0 L519.2,344.0 L520.1,343.9 L521.1,343.8 L522.0,343.7 L523.0,343.6 L524.0,343.6 L524.9,343.5 L525.9,343.4 L526.8,343.4 L527.8,343.3 L528.7,343.2 L529.7,343.1 L530.6,343.0 L531.6,342.9 L532.6,342.8 L533.5,342.6 L534.5,342.4 L535.4,342.3 L536.4,342.2 L537.3,342.1 L538.3,342.1 L539.2,342.0 L540.2,342.0 L541.1,341.9 L542.1,341.8 L543.1,341.8 L544.0,341.7 L545.0,341.7 L545.9,341.6 L546.9,341.6 L547.8,341.5 L548.8,341.5 L549.7,341.5 L550.7,341.4 L551.7,341.4 L552.6,341.3 L553.6,341.3 L554.5,341.2 L555.5,341.2 L556.4,341.2 L557.4,341.1 L558.3,341.1 L559.3,341.0 L560.3,341.0 L561.2,341.0 L562.2,340.9 L563.1,340.9 L564.1,340.9 L565.0,340.8 L566.0,340.8 L566.9,340.7 L567.9,340.7 L568.9,340.7 L569.8,340.6 L570.8,340.6 L571.7,340.5 L572.7,340.5 L573.6,340.4 L574.6,340.4 L575.5,340.3 L576.5,340.3 L577.4,340.2 L578.4,340.2 L579.4,340.1 L580.3,340.1 L581.3,340.0 L582.2,340.0 L583.2,339.9 L584.1,339.8 L585.1,339.8 L586.0,339.7 L587.0,339.6 L588.0,339.6 L588.9,339.5 L589.9,339.4 L590.8,339.3 L591.8,339.2 L592.7,339.2 L593.7,339.1 L594.6,339.0 L595.6,338.9 L596.6,338.8 L597.5,338.8 L598.5,338.7 L599.4,338.6 L600.4,338.5 L601.3,338.4 L602.3,338.3 L603.2,338.2 L604.2,338.1 L605.2,338.1 L606.1,338.0 L607.1,337.9 L608.0,337.8 L609.0,337.7 L609.9,337.6 L610.9,337.5 L611.8,337.4 L612.8,337.3 L613.7,337.2 L614.7,337.2 L615.7,337.1 L616.6,337.0 L617.6,336.9 L618.5,336.8 L619.5,336.7 L620.4,336.6 L621.4,336.5 L622.3,336.5 L623.3,336.4 L624.3,336.3 L625.2,336.2 L626.2,336.1 L627.1,336.1 L628.1,336.0 L629.0,335.9 L630.0,335.8 L630.9,335.8 L631.9,335.7 L632.9,335.6 L633.8,335.5 L634.8,335.5 L635.7,335.4 L636.7,335.3 L637.6,335.3 L638.6,335.2 L639.5,335.1 L640.5,335.1 L641.5,335.0 L642.4,334.9 L643.4,334.9 L644.3,334.8 L645.3,334.7 L646.2,334.7 L647.2,334.6 L648.1,334.5 L649.1,334.5 L650.0,334.4 L651.0,334.3 L652.0,334.3 L652.9,334.2 L653.9,334.1 L654.8,334.1 L655.8,334.0 L656.7,333.9 L657.7,333.9 L658.6,333.8 L659.6,333.8 L660.6,333.7 L661.5,333.6 L662.5,333.6 L663.4,333.5 L664.4,333.4 L665.3,333.4 L666.3,333.3 L667.2,333.3 L668.2,333.2 L669.2,333.1 L670.1,333.1 L671.1,333.0 L672.0,332.9 L673.0,332.9 L673.9,332.8 L674.9,332.7 L675.8,332.7 L676.8,332.6 L677.8,332.6" stroke="#8E4FAE"/>
<path d="M486.7,349.8 L487.0,344.6 L487.3,341.9 L487.7,339.9 L487.9,338.9 L488.0,338.6 L488.6,336.9 L489.6,335.2 L490.0,334.6 L490.0,334.6 L490.5,333.9 L491.5,333.0 L492.4,332.1 L493.0,331.6 L493.4,331.1 L494.3,330.1 L494.4,330.0 L495.3,329.3 L495.9,328.8 L496.3,328.6 L497.2,327.8 L498.2,327.0 L499.1,326.2 L500.1,325.6 L501.0,325.0 L502.0,324.5 L502.9,324.0 L503.9,323.6 L504.8,323.1 L505.8,322.6 L506.8,322.1 L507.7,321.7 L508.7,321.4 L509.6,321.1 L510.6,320.9 L511.5,320.7 L512.5,320.5 L513.4,320.3 L514.4,320.1 L515.4,320.0 L516.3,319.8 L517.3,319.6 L518.2,319.3 L519.2,319.0 L520.1,318.5 L521.1,318.0 L522.0,317.5 L523.0,317.0 L524.0,316.5 L524.9,316.0 L525.9,315.6 L526.8,315.1 L527.8,314.6 L528.7,314.1 L529.7,313.5 L530.6,312.9 L531.6,312.3 L532.6,311.8 L533.5,311.3 L534.5,311.0 L535.4,310.7 L536.4,310.5 L537.3,310.2 L538.3,310.0 L539.2,309.8 L540.2,309.5 L541.1,309.3 L542.1,309.1 L543.1,308.9 L544.0,308.7 L545.0,308.5 L545.9,308.4 L546.9,308.2 L547.8,308.0 L548.8,307.8 L549.7,307.6 L550.7,307.3 L551.7,307.1 L552.6,306.9 L553.6,306.7 L554.5,306.4 L555.5,306.2 L556.4,306.0 L557.4,305.8 L558.3,305.5 L559.3,305.3 L560.3,305.1 L561.2,304.8 L562.2,304.6 L563.1,304.4 L564.1,304.1 L565.0,303.9 L566.0,303.7 L566.9,303.5 L567.9,303.2 L568.9,303.0 L569.8,302.8 L570.8,302.6 L571.7,302.4 L572.7,302.1 L573.6,301.9 L574.6,301.7 L575.5,301.5 L576.5,301.3 L577.4,301.1 L578.4,300.9 L579.4,300.6 L580.3,300.4 L581.3,300.2 L582.2,300.0 L583.2,299.8 L584.1,299.6 L585.1,299.4 L586.0,299.2 L587.0,299.0 L588.0,298.8 L588.9,298.7 L589.9,298.5 L590.8,298.3 L591.8,298.1 L592.7,297.9 L593.7,297.7 L594.6,297.5 L595.6,297.3 L596.6,297.1 L597.5,297.0 L598.5,296.8 L599.4,296.6 L600.4,296.4 L601.3,296.3 L602.3,296.1 L603.2,295.9 L604.2,295.8 L605.2,295.6 L606.1,295.4 L607.1,295.3 L608.0,295.1 L609.0,294.9 L609.9,294.8 L610.9,294.6 L611.8,294.5 L612.8,294.3 L613.7,294.2 L614.7,294.0 L615.7,293.9 L616.6,293.7 L617.6,293.6 L618.5,293.4 L619.5,293.3 L620.4,293.2 L621.4,293.0 L622.3,292.9 L623.3,292.7 L624.3,292.6 L625.2,292.5 L626.2,292.3 L627.1,292.2 L628.1,292.1 L629.0,291.9 L630.0,291.8 L630.9,291.7 L631.9,291.6 L632.9,291.4 L633.8,291.3 L634.8,291.2 L635.7,291.1 L636.7,290.9 L637.6,290.8 L638.6,290.7 L639.5,290.6 L640.5,290.5 L641.5,290.4 L642.4,290.3 L643.4,290.1 L644.3,290.0 L645.3,289.9 L646.2,289.8 L647.2,289.7 L648.1,289.6 L649.1,289.5 L650.0,289.4 L651.0,289.3 L652.0,289.2 L652.9,289.1 L653.9,289.0 L654.8,288.9 L655.8,288.8 L656.7,288.7 L657.7,288.6 L658.6,288.5 L659.6,288.4 L660.6,288.3 L661.5,288.2 L662.5,288.1 L663.4,288.0 L664.4,288.0 L665.3,287.9 L666.3,287.8 L667.2,287.7 L668.2,287.6 L669.2,287.5 L670.1,287.4 L671.1,287.3 L672.0,287.3 L673.0,287.2 L673.9,287.1 L674.9,287.0 L675.8,286.9 L676.8,286.9 L677.8,286.8" stroke="#3B4EA6"/>
<path d="M486.7,349.8 L487.0,334.9 L487.7,324.3 L487.9,321.9 L488.0,321.0 L488.6,315.1 L489.1,311.6 L489.6,308.8 L489.6,308.7 L490.5,304.7 L491.5,301.8 L491.5,301.8 L492.0,300.7 L492.4,299.7 L493.4,298.1 L494.3,296.3 L494.4,296.2 L494.9,295.7 L495.3,295.3 L496.3,293.8 L497.2,292.0 L497.9,290.8 L498.2,290.5 L499.1,289.0 L500.1,287.4 L501.0,285.8 L502.0,284.3 L502.9,283.0 L503.9,281.7 L504.8,280.5 L505.8,279.3 L506.8,278.1 L507.7,277.0 L508.7,275.9 L509.6,274.9 L510.6,274.0 L511.5,273.0 L512.5,272.1 L513.4,271.1 L514.4,270.1 L515.4,269.2 L516.3,268.4 L517.3,267.6 L518.2,266.9 L519.2,266.3 L520.1,265.7 L521.1,265.1 L522.0,264.6 L523.0,263.9 L524.0,263.3 L524.9,262.6 L525.9,261.9 L526.8,261.2 L527.8,260.5 L528.7,259.8 L529.7,259.1 L530.6,258.5 L531.6,257.8 L532.6,257.3 L533.5,256.8 L534.5,256.3 L535.4,255.8 L536.4,255.3 L537.3,254.8 L538.3,254.4 L539.2,253.9 L540.2,253.4 L541.1,252.9 L542.1,252.5 L543.1,252.0 L544.0,251.5 L545.0,251.0 L545.9,250.5 L546.9,250.0 L547.8,249.6 L548.8,249.1 L549.7,248.7 L550.7,248.2 L551.7,247.7 L552.6,247.3 L553.6,246.9 L554.5,246.5 L555.5,246.1 L556.4,245.7 L557.4,245.4 L558.3,245.1 L559.3,244.9 L560.3,244.6 L561.2,244.4 L562.2,244.1 L563.1,243.9 L564.1,243.7 L565.0,243.4 L566.0,243.1 L566.9,242.8 L567.9,242.5 L568.9,242.3 L569.8,242.0 L570.8,241.7 L571.7,241.4 L572.7,241.0 L573.6,240.7 L574.6,240.4 L575.5,240.1 L576.5,239.7 L577.4,239.4 L578.4,239.1 L579.4,238.8 L580.3,238.5 L581.3,238.2 L582.2,237.9 L583.2,237.6 L584.1,237.3 L585.1,237.1 L586.0,236.8 L587.0,236.6 L588.0,236.3 L588.9,236.1 L589.9,235.9 L590.8,235.7 L591.8,235.5 L592.7,235.3 L593.7,235.1 L594.6,234.9 L595.6,234.8 L596.6,234.6 L597.5,234.4 L598.5,234.2 L599.4,234.1 L600.4,233.9 L601.3,233.7 L602.3,233.6 L603.2,233.4 L604.2,233.3 L605.2,233.1 L606.1,233.0 L607.1,232.8 L608.0,232.7 L609.0,232.5 L609.9,232.4 L610.9,232.3 L611.8,232.2 L612.8,232.1 L613.7,231.9 L614.7,231.8 L615.7,231.7 L616.6,231.6 L617.6,231.5 L618.5,231.3 L619.5,231.2 L620.4,231.0 L621.4,230.9 L622.3,230.8 L623.3,230.7 L624.3,230.6 L625.2,230.4 L626.2,230.3 L627.1,230.2 L628.1,230.1 L629.0,230.0 L630.0,229.9 L630.9,229.8 L631.9,229.7 L632.9,229.7 L633.8,229.6 L634.8,229.5 L635.7,229.4 L636.7,229.3 L637.6,229.2 L638.6,229.1 L639.5,229.1 L640.5,229.0 L641.5,228.9 L642.4,228.8 L643.4,228.7 L644.3,228.7 L645.3,228.6 L646.2,228.5 L647.2,228.5 L648.1,228.4 L649.1,228.3 L650.0,228.2 L651.0,228.2 L652.0,228.1 L652.9,228.0 L653.9,228.0 L654.8,227.9 L655.8,227.8 L656.7,227.7 L657.7,227.7 L658.6,227.6 L659.6,227.5 L660.6,227.5 L661.5,227.4 L662.5,227.3 L663.4,227.3 L664.4,227.2 L665.3,227.2 L666.3,227.1 L667.2,227.0 L668.2,227.0 L669.2,226.9 L670.1,226.9 L671.1,226.8 L672.0,226.7 L673.0,226.7 L673.9,226.6 L674.9,226.5 L675.8,226.5 L676.8,226.4 L677.8,226.4" stroke="#EE6EA7"/>
<path d="M486.7,349.8 L486.8,331.2 L487.3,320.3 L487.6,317.2 L487.7,316.1 L487.9,312.7 L488.4,307.1 L488.6,305.3 L489.1,302.5 L489.6,300.3 L490.0,298.8 L490.5,297.0 L491.5,294.5 L491.5,294.5 L492.0,293.8 L492.4,293.3 L493.4,292.7 L494.3,291.9 L494.4,291.8 L494.9,291.5 L495.3,291.2 L496.3,290.1 L497.2,288.7 L497.9,287.7 L498.2,287.4 L499.1,286.0 L500.1,284.4 L501.0,282.6 L502.0,280.9 L502.9,279.3 L503.9,277.9 L504.8,276.5 L505.8,275.3 L506.8,274.1 L507.7,273.0 L508.7,271.9 L509.6,271.0 L510.6,270.0 L511.5,269.0 L512.5,268.1 L513.4,267.1 L514.4,266.2 L515.4,265.2 L516.3,264.4 L517.3,263.6 L518.2,262.9 L519.2,262.2 L520.1,261.5 L521.1,260.8 L522.0,260.2 L523.0,259.5 L524.0,258.8 L524.9,258.1 L525.9,257.2 L526.8,256.3 L527.8,255.3 L528.7,254.2 L529.7,253.0 L530.6,251.9 L531.6,250.9 L532.6,250.1 L533.5,249.4 L534.5,249.0 L535.4,248.5 L536.4,248.2 L537.3,247.8 L538.3,247.5 L539.2,247.1 L540.2,246.8 L541.1,246.5 L542.1,246.1 L543.1,245.8 L544.0,245.5 L545.0,245.2 L545.9,244.8 L546.9,244.5 L547.8,244.2 L548.8,243.9 L549.7,243.6 L550.7,243.3 L551.7,243.0 L552.6,242.7 L553.6,242.4 L554.5,242.1 L555.5,241.8 L556.4,241.6 L557.4,241.3 L558.3,241.1 L559.3,240.8 L560.3,240.6 L561.2,240.4 L562.2,240.2 L563.1,239.9 L564.1,239.7 L565.0,239.5 L566.0,239.3 L566.9,239.1 L567.9,238.8 L568.9,238.6 L569.8,238.4 L570.8,238.2 L571.7,238.1 L572.7,237.9 L573.6,237.8 L574.6,237.6 L575.5,237.5 L576.5,237.4 L577.4,237.2 L578.4,237.1 L579.4,237.0 L580.3,236.9 L581.3,236.7 L582.2,236.6 L583.2,236.5 L584.1,236.3 L585.1,236.2 L586.0,236.0 L587.0,235.9 L588.0,235.7 L588.9,235.6 L589.9,235.4 L590.8,235.3 L591.8,235.1 L592.7,235.0 L593.7,234.8 L594.6,234.7 L595.6,234.5 L596.6,234.4 L597.5,234.3 L598.5,234.1 L599.4,234.0 L600.4,233.9 L601.3,233.8 L602.3,233.7 L603.2,233.6 L604.2,233.5 L605.2,233.4 L606.1,233.3 L607.1,233.2 L608.0,233.1 L609.0,233.0 L609.9,232.9 L610.9,232.8 L611.8,232.7 L612.8,232.6 L613.7,232.5 L614.7,232.4 L615.7,232.3 L616.6,232.2 L617.6,232.1 L618.5,232.0 L619.5,231.9 L620.4,231.7 L621.4,231.6 L622.3,231.5 L623.3,231.4 L624.3,231.3 L625.2,231.2 L626.2,231.2 L627.1,231.1 L628.1,231.0 L629.0,230.9 L630.0,230.8 L630.9,230.7 L631.9,230.7 L632.9,230.6 L633.8,230.5 L634.8,230.4 L635.7,230.3 L636.7,230.2 L637.6,230.1 L638.6,230.0 L639.5,230.0 L640.5,229.9 L641.5,229.8 L642.4,229.7 L643.4,229.6 L644.3,229.5 L645.3,229.5 L646.2,229.4 L647.2,229.3 L648.1,229.2 L649.1,229.1 L650.0,229.1 L651.0,229.0 L652.0,228.9 L652.9,228.9 L653.9,228.8 L654.8,228.8 L655.8,228.7 L656.7,228.7 L657.7,228.6 L658.6,228.6 L659.6,228.5 L660.6,228.5 L661.5,228.4 L662.5,228.4 L663.4,228.4 L664.4,228.3 L665.3,228.3 L666.3,228.3 L667.2,228.2 L668.2,228.2 L669.2,228.2 L670.1,228.1 L671.1,228.1 L672.0,228.1 L673.0,228.0 L673.9,228.0 L674.9,228.0 L675.8,227.9 L676.8,227.9 L677.8,227.9" stroke="#67BC4C"/>
<path d="M486.7,349.8 L487.0,342.7 L487.7,336.5 L487.9,335.1 L488.0,334.7 L488.6,331.8 L489.1,330.1 L489.6,328.5 L489.6,328.5 L490.5,325.8 L491.5,323.5 L491.5,323.4 L492.0,322.5 L492.4,321.7 L493.4,320.4 L494.3,319.0 L494.4,318.9 L494.9,318.6 L495.3,318.3 L496.3,317.3 L497.2,316.1 L497.9,315.3 L498.2,315.0 L499.1,313.7 L500.1,312.1 L501.0,310.4 L502.0,308.9 L502.9,307.6 L503.9,306.3 L504.8,304.9 L505.8,303.5 L506.8,302.1 L507.7,300.6 L508.7,299.0 L509.6,297.3 L510.6,295.7 L511.5,294.2 L512.5,292.7 L513.4,291.5 L514.4,290.3 L515.4,289.1 L516.3,288.1 L517.3,287.0 L518.2,286.1 L519.2,285.2 L520.1,284.3 L521.1,283.5 L522.0,282.7 L523.0,281.9 L524.0,281.1 L524.9,280.3 L525.9,279.5 L526.8,278.7 L527.8,278.0 L528.7,277.3 L529.7,276.7 L530.6,276.1 L531.6,275.5 L532.6,274.9 L533.5,274.4 L534.5,273.9 L535.4,273.5 L536.4,273.1 L537.3,272.7 L538.3,272.4 L539.2,272.0 L540.2,271.6 L541.1,271.2 L542.1,270.7 L543.1,270.0 L544.0,269.3 L545.0,268.5 L545.9,267.5 L546.9,266.5 L547.8,265.3 L548.8,264.3 L549.7,263.4 L550.7,262.6 L551.7,261.9 L552.6,261.3 L553.6,260.7 L554.5,260.2 L555.5,259.7 L556.4,259.3 L557.4,258.8 L558.3,258.4 L559.3,258.0 L560.3,257.6 L561.2,257.2 L562.2,256.8 L563.1,256.5 L564.1,256.2 L565.0,255.9 L566.0,255.6 L566.9,255.3 L567.9,255.0 L568.9,254.7 L569.8,254.4 L570.8,254.1 L571.7,253.9 L572.7,253.6 L573.6,253.3 L574.6,253.0 L575.5,252.8 L576.5,252.5 L577.4,252.2 L578.4,251.9 L579.4,251.5 L580.3,251.2 L581.3,250.8 L582.2,250.4 L583.2,250.0 L584.1,249.6 L585.1,249.2 L586.0,248.9 L587.0,248.5 L588.0,248.2 L588.9,247.9 L589.9,247.7 L590.8,247.4 L591.8,247.1 L592.7,246.8 L593.7,246.5 L594.6,246.3 L595.6,246.0 L596.6,245.7 L597.5,245.4 L598.5,245.1 L599.4,244.8 L600.4,244.5 L601.3,244.3 L602.3,244.0 L603.2,243.7 L604.2,243.4 L605.2,243.1 L606.1,242.8 L607.1,242.5 L608.0,242.3 L609.0,242.0 L609.9,241.7 L610.9,241.5 L611.8,241.3 L612.8,241.0 L613.7,240.8 L614.7,240.5 L615.7,240.3 L616.6,240.1 L617.6,239.9 L618.5,239.6 L619.5,239.4 L620.4,239.2 L621.4,239.1 L622.3,238.9 L623.3,238.7 L624.3,238.6 L625.2,238.4 L626.2,238.3 L627.1,238.1 L628.1,238.0 L629.0,237.8 L630.0,237.7 L630.9,237.5 L631.9,237.4 L632.9,237.2 L633.8,237.0 L634.8,236.9 L635.7,236.7 L636.7,236.6 L637.6,236.4 L638.6,236.2 L639.5,236.1 L640.5,235.9 L641.5,235.8 L642.4,235.6 L643.4,235.5 L644.3,235.3 L645.3,235.2 L646.2,235.0 L647.2,234.9 L648.1,234.7 L649.1,234.6 L650.0,234.5 L651.0,234.3 L652.0,234.2 L652.9,234.1 L653.9,234.0 L654.8,233.9 L655.8,233.8 L656.7,233.6 L657.7,233.5 L658.6,233.4 L659.6,233.3 L660.6,233.2 L661.5,233.2 L662.5,233.1 L663.4,233.0 L664.4,232.9 L665.3,232.8 L666.3,232.7 L667.2,232.6 L668.2,232.5 L669.2,232.5 L670.1,232.4 L671.1,232.3 L672.0,232.2 L673.0,232.1 L673.9,232.1 L674.9,232.0 L675.8,231.9 L676.8,231.8 L677.8,231.8" stroke="#4AA8DE"/>
<path d="M486.7,349.8 L487.0,336.9 L487.7,327.6 L487.9,325.6 L488.0,325.0 L488.6,320.9 L489.1,318.6 L489.6,316.7 L489.6,316.7 L490.5,313.4 L491.5,310.7 L491.5,310.7 L492.0,309.6 L492.4,308.7 L493.4,307.1 L494.3,305.3 L494.4,305.2 L494.9,304.7 L495.3,304.2 L496.3,302.7 L497.2,300.9 L497.9,299.8 L498.2,299.4 L499.1,298.0 L500.1,296.4 L501.0,294.7 L502.0,293.3 L502.9,292.0 L503.9,290.7 L504.8,289.5 L505.8,288.2 L506.8,287.1 L507.7,286.1 L508.7,285.2 L509.6,284.4 L510.6,283.6 L511.5,282.9 L512.5,282.2 L513.4,281.4 L514.4,280.7 L515.4,280.1 L516.3,279.5 L517.3,278.9 L518.2,278.4 L519.2,278.0 L520.1,277.6 L521.1,277.2 L522.0,276.8 L523.0,276.2 L524.0,275.5 L524.9,274.8 L525.9,274.0 L526.8,273.2 L527.8,272.4 L528.7,271.7 L529.7,271.0 L530.6,270.3 L531.6,269.7 L532.6,269.1 L533.5,268.6 L534.5,268.0 L535.4,267.4 L536.4,266.9 L537.3,266.3 L538.3,265.8 L539.2,265.2 L540.2,264.6 L541.1,264.0 L542.1,263.4 L543.1,262.6 L544.0,261.9 L545.0,261.1 L545.9,260.3 L546.9,259.5 L547.8,258.8 L548.8,258.1 L549.7,257.5 L550.7,257.0 L551.7,256.6 L552.6,256.2 L553.6,255.9 L554.5,255.5 L555.5,255.2 L556.4,254.8 L557.4,254.3 L558.3,253.9 L559.3,253.4 L560.3,252.9 L561.2,252.4 L562.2,251.9 L563.1,251.5 L564.1,251.1 L565.0,250.7 L566.0,250.4 L566.9,250.1 L567.9,249.8 L568.9,249.6 L569.8,249.3 L570.8,249.0 L571.7,248.7 L572.7,248.5 L573.6,248.2 L574.6,247.9 L575.5,247.6 L576.5,247.3 L577.4,247.0 L578.4,246.7 L579.4,246.5 L580.3,246.2 L581.3,245.9 L582.2,245.6 L583.2,245.3 L584.1,245.0 L585.1,244.7 L586.0,244.4 L587.0,244.2 L588.0,243.9 L588.9,243.6 L589.9,243.3 L590.8,243.0 L591.8,242.7 L592.7,242.4 L593.7,242.2 L594.6,242.0 L595.6,241.8 L596.6,241.6 L597.5,241.4 L598.5,241.2 L599.4,241.0 L600.4,240.8 L601.3,240.6 L602.3,240.5 L603.2,240.3 L604.2,240.1 L605.2,239.9 L606.1,239.7 L607.1,239.5 L608.0,239.3 L609.0,239.1 L609.9,238.9 L610.9,238.7 L611.8,238.5 L612.8,238.3 L613.7,238.1 L614.7,237.9 L615.7,237.7 L616.6,237.5 L617.6,237.3 L618.5,237.1 L619.5,236.9 L620.4,236.8 L621.4,236.6 L622.3,236.5 L623.3,236.3 L624.3,236.1 L625.2,236.0 L626.2,235.9 L627.1,235.7 L628.1,235.6 L629.0,235.4 L630.0,235.3 L630.9,235.2 L631.9,235.0 L632.9,234.9 L633.8,234.8 L634.8,234.7 L635.7,234.5 L636.7,234.4 L637.6,234.3 L638.6,234.2 L639.5,234.1 L640.5,234.0 L641.5,233.8 L642.4,233.7 L643.4,233.6 L644.3,233.5 L645.3,233.4 L646.2,233.3 L647.2,233.2 L648.1,233.1 L649.1,233.0 L650.0,232.9 L651.0,232.8 L652.0,232.7 L652.9,232.6 L653.9,232.5 L654.8,232.4 L655.8,232.3 L656.7,232.2 L657.7,232.1 L658.6,231.9 L659.6,231.8 L660.6,231.7 L661.5,231.6 L662.5,231.5 L663.4,231.4 L664.4,231.3 L665.3,231.2 L666.3,231.1 L667.2,231.0 L668.2,230.9 L669.2,230.8 L670.1,230.7 L671.1,230.6 L672.0,230.5 L673.0,230.4 L673.9,230.3 L674.9,230.2 L675.8,230.1 L676.8,230.1 L677.8,230.0" stroke="#F4D10C"/>
</g>
<rect x="477.5" y="202.8" width="209" height="153.7" fill="none" stroke="#333" stroke-width="1"/>
<text transform="translate(490.6,223.60000000000002) scale(0.88,1)" x="0" y="0" font-size="17" fill="#1a1a1a">F</text>
<rect x="43.5" y="363.8" width="209" height="153.7" fill="#fff"/>
<path d="M52.70,363.8 V517.5 M100.46,363.8 V517.5 M148.23,363.8 V517.5 M195.99,363.8 V517.5 M243.75,363.8 V517.5 M43.5,510.60 H252.5 M43.5,475.50 H252.5 M43.5,440.40 H252.5 M43.5,405.30 H252.5 M43.5,370.20 H252.5" stroke="#EBEBEB" stroke-width="1.1" fill="none"/>
<g clip-path="url(#cp6)" fill="none" stroke-width="1.75" stroke-linejoin="round" stroke-linecap="butt">
<path d="M52.7,510.6 L53.0,497.7 L53.3,493.0 L53.7,489.7 L54.0,487.7 L54.5,485.0 L54.6,484.4 L55.6,480.8 L56.0,479.7 L56.5,478.4 L57.5,476.5 L58.0,475.6 L58.4,474.8 L59.0,473.8 L59.4,473.1 L60.3,471.4 L60.9,470.6 L61.3,470.1 L62.3,469.2 L62.9,468.9 L63.2,468.9 L63.4,468.9 L64.2,469.0 L65.1,468.7 L66.1,467.5 L67.0,465.7 L68.0,464.1 L68.9,462.8 L69.9,461.8 L70.8,461.1 L71.8,460.5 L72.8,460.1 L73.7,459.7 L74.7,459.4 L75.6,459.2 L76.6,459.0 L77.5,458.7 L78.5,458.5 L79.4,458.3 L80.4,458.0 L81.4,457.8 L82.3,457.6 L83.3,457.3 L84.2,457.1 L85.2,456.8 L86.1,456.4 L87.1,455.9 L88.0,455.3 L89.0,454.7 L90.0,454.0 L90.9,453.4 L91.9,452.7 L92.8,452.1 L93.8,451.5 L94.7,451.0 L95.7,450.5 L96.6,450.2 L97.6,449.8 L98.6,449.4 L99.5,449.0 L100.5,448.6 L101.4,448.1 L102.4,447.7 L103.3,447.2 L104.3,446.7 L105.2,446.2 L106.2,445.7 L107.1,445.3 L108.1,444.8 L109.1,444.4 L110.0,444.0 L111.0,443.6 L111.9,443.2 L112.9,442.9 L113.8,442.6 L114.8,442.3 L115.7,442.0 L116.7,441.7 L117.7,441.5 L118.6,441.3 L119.6,441.1 L120.5,440.9 L121.5,440.7 L122.4,440.5 L123.4,440.3 L124.3,440.2 L125.3,440.0 L126.3,439.9 L127.2,439.7 L128.2,439.6 L129.1,439.4 L130.1,439.2 L131.0,439.0 L132.0,438.8 L132.9,438.7 L133.9,438.5 L134.9,438.3 L135.8,438.1 L136.8,437.9 L137.7,437.7 L138.7,437.6 L139.6,437.4 L140.6,437.3 L141.5,437.1 L142.5,437.0 L143.4,436.8 L144.4,436.7 L145.4,436.6 L146.3,436.4 L147.3,436.3 L148.2,436.2 L149.2,436.1 L150.1,436.0 L151.1,435.9 L152.0,435.9 L153.0,435.8 L154.0,435.7 L154.9,435.6 L155.9,435.5 L156.8,435.4 L157.8,435.3 L158.7,435.2 L159.7,435.1 L160.6,434.9 L161.6,434.8 L162.6,434.7 L163.5,434.6 L164.5,434.5 L165.4,434.3 L166.4,434.2 L167.3,434.1 L168.3,434.0 L169.2,433.9 L170.2,433.8 L171.2,433.7 L172.1,433.6 L173.1,433.4 L174.0,433.3 L175.0,433.1 L175.9,432.9 L176.9,432.7 L177.8,432.6 L178.8,432.5 L179.7,432.4 L180.7,432.3 L181.7,432.2 L182.6,432.2 L183.6,432.1 L184.5,432.0 L185.5,432.0 L186.4,432.0 L187.4,431.9 L188.3,431.9 L189.3,431.8 L190.3,431.8 L191.2,431.8 L192.2,431.7 L193.1,431.7 L194.1,431.7 L195.0,431.6 L196.0,431.6 L196.9,431.6 L197.9,431.5 L198.9,431.5 L199.8,431.5 L200.8,431.5 L201.7,431.4 L202.7,431.4 L203.6,431.4 L204.6,431.3 L205.5,431.3 L206.5,431.3 L207.5,431.3 L208.4,431.2 L209.4,431.2 L210.3,431.2 L211.3,431.1 L212.2,431.1 L213.2,431.0 L214.1,431.0 L215.1,431.0 L216.0,430.9 L217.0,430.9 L218.0,430.8 L218.9,430.8 L219.9,430.8 L220.8,430.7 L221.8,430.7 L222.7,430.7 L223.7,430.6 L224.6,430.6 L225.6,430.6 L226.6,430.6 L227.5,430.5 L228.5,430.5 L229.4,430.5 L230.4,430.5 L231.3,430.4 L232.3,430.4 L233.2,430.4 L234.2,430.4 L235.2,430.4 L236.1,430.4 L237.1,430.3 L238.0,430.3 L239.0,430.3 L239.9,430.3 L240.9,430.2 L241.8,430.2 L242.8,430.0 L243.8,429.9" stroke="#E3262A"/>
<path d="M52.7,510.6 L53.0,495.8 L53.3,491.0 L53.7,487.7 L54.0,485.6 L54.5,482.9 L54.6,482.3 L55.6,478.8 L56.0,477.5 L56.5,475.6 L57.5,472.6 L57.5,472.6 L58.0,471.6 L58.4,470.9 L59.4,469.9 L60.3,468.8 L60.9,468.3 L61.3,468.0 L62.3,467.0 L63.2,466.2 L63.4,466.0 L63.9,465.6 L64.2,465.4 L65.1,464.6 L66.1,463.5 L67.0,462.5 L68.0,461.5 L68.9,460.7 L69.9,460.0 L70.8,459.2 L71.8,458.5 L72.8,457.8 L73.7,457.1 L74.7,456.4 L75.6,455.7 L76.6,455.0 L77.5,454.3 L78.5,453.6 L79.4,452.9 L80.4,452.3 L81.4,451.7 L82.3,451.1 L83.3,450.5 L84.2,450.0 L85.2,449.4 L86.1,448.8 L87.1,448.2 L88.0,447.6 L89.0,446.9 L90.0,446.3 L90.9,445.6 L91.9,445.0 L92.8,444.5 L93.8,444.0 L94.7,443.6 L95.7,443.1 L96.6,442.8 L97.6,442.4 L98.6,442.0 L99.5,441.7 L100.5,441.3 L101.4,440.9 L102.4,440.5 L103.3,440.2 L104.3,439.8 L105.2,439.4 L106.2,439.0 L107.1,438.6 L108.1,438.2 L109.1,437.8 L110.0,437.4 L111.0,437.1 L111.9,436.7 L112.9,436.3 L113.8,436.0 L114.8,435.6 L115.7,435.3 L116.7,435.0 L117.7,434.7 L118.6,434.4 L119.6,434.1 L120.5,433.9 L121.5,433.6 L122.4,433.4 L123.4,433.2 L124.3,432.9 L125.3,432.7 L126.3,432.6 L127.2,432.4 L128.2,432.2 L129.1,432.1 L130.1,432.0 L131.0,431.9 L132.0,431.8 L132.9,431.7 L133.9,431.6 L134.9,431.5 L135.8,431.4 L136.8,431.3 L137.7,431.2 L138.7,431.0 L139.6,430.9 L140.6,430.7 L141.5,430.6 L142.5,430.5 L143.4,430.4 L144.4,430.3 L145.4,430.2 L146.3,430.1 L147.3,430.1 L148.2,430.0 L149.2,430.0 L150.1,429.9 L151.1,429.7 L152.0,429.6 L153.0,429.5 L154.0,429.4 L154.9,429.2 L155.9,429.1 L156.8,429.0 L157.8,428.9 L158.7,428.8 L159.7,428.7 L160.6,428.5 L161.6,428.4 L162.6,428.3 L163.5,428.1 L164.5,428.0 L165.4,427.9 L166.4,427.7 L167.3,427.6 L168.3,427.4 L169.2,427.3 L170.2,427.1 L171.2,427.0 L172.1,426.8 L173.1,426.7 L174.0,426.5 L175.0,426.4 L175.9,426.3 L176.9,426.2 L177.8,426.0 L178.8,425.9 L179.7,425.9 L180.7,425.8 L181.7,425.7 L182.6,425.7 L183.6,425.6 L184.5,425.5 L185.5,425.5 L186.4,425.4 L187.4,425.4 L188.3,425.3 L189.3,425.2 L190.3,425.1 L191.2,425.0 L192.2,424.7 L193.1,424.5 L194.1,424.1 L195.0,423.8 L196.0,423.5 L196.9,423.2 L197.9,423.0 L198.9,422.9 L199.8,422.8 L200.8,422.8 L201.7,422.7 L202.7,422.7 L203.6,422.7 L204.6,422.6 L205.5,422.6 L206.5,422.6 L207.5,422.5 L208.4,422.5 L209.4,422.5 L210.3,422.4 L211.3,422.4 L212.2,422.3 L213.2,422.3 L214.1,422.3 L215.1,422.2 L216.0,422.2 L217.0,422.2 L218.0,422.1 L218.9,422.1 L219.9,422.0 L220.8,422.0 L221.8,422.0 L222.7,421.9 L223.7,421.9 L224.6,421.8 L225.6,421.8 L226.6,421.8 L227.5,421.7 L228.5,421.7 L229.4,421.6 L230.4,421.6 L231.3,421.6 L232.3,421.5 L233.2,421.5 L234.2,421.4 L235.2,421.4 L236.1,421.3 L237.1,421.3 L238.0,421.3 L239.0,421.2 L239.9,421.2 L240.9,421.1 L241.8,421.0 L242.8,420.8 L243.8,420.5" stroke="#8E4FAE"/>
<path d="M52.7,510.6 L53.0,495.8 L53.3,491.1 L53.7,487.8 L54.0,485.6 L54.5,482.3 L54.6,481.6 L55.6,477.1 L56.0,475.6 L56.5,473.9 L57.5,471.5 L57.5,471.5 L58.0,470.6 L58.4,469.8 L59.4,468.5 L60.3,467.1 L61.3,466.0 L61.9,465.3 L62.3,464.9 L63.2,463.8 L63.4,463.6 L64.2,462.6 L65.1,461.2 L66.1,459.6 L67.0,458.2 L68.0,457.0 L68.9,455.7 L69.9,454.4 L70.8,453.0 L71.8,451.6 L72.8,450.2 L73.7,449.0 L74.7,448.0 L75.6,447.2 L76.6,446.5 L77.5,445.9 L78.5,445.4 L79.4,444.9 L80.4,444.4 L81.4,443.8 L82.3,443.2 L83.3,442.5 L84.2,441.8 L85.2,441.2 L86.1,440.7 L87.1,440.3 L88.0,439.9 L89.0,439.6 L90.0,439.2 L90.9,438.8 L91.9,438.3 L92.8,437.7 L93.8,437.1 L94.7,436.3 L95.7,435.5 L96.6,434.6 L97.6,433.8 L98.6,433.0 L99.5,432.3 L100.5,431.8 L101.4,431.3 L102.4,430.8 L103.3,430.5 L104.3,430.1 L105.2,429.7 L106.2,429.4 L107.1,429.1 L108.1,428.8 L109.1,428.5 L110.0,428.2 L111.0,427.9 L111.9,427.7 L112.9,427.4 L113.8,427.1 L114.8,426.7 L115.7,426.4 L116.7,426.0 L117.7,425.6 L118.6,425.3 L119.6,424.9 L120.5,424.5 L121.5,424.1 L122.4,423.7 L123.4,423.3 L124.3,422.9 L125.3,422.5 L126.3,422.1 L127.2,421.7 L128.2,421.4 L129.1,421.0 L130.1,420.7 L131.0,420.4 L132.0,420.1 L132.9,419.8 L133.9,419.5 L134.9,419.3 L135.8,419.0 L136.8,418.7 L137.7,418.4 L138.7,418.1 L139.6,417.9 L140.6,417.6 L141.5,417.3 L142.5,417.0 L143.4,416.7 L144.4,416.4 L145.4,416.1 L146.3,415.8 L147.3,415.6 L148.2,415.3 L149.2,415.1 L150.1,414.9 L151.1,414.8 L152.0,414.7 L153.0,414.5 L154.0,414.2 L154.9,413.9 L155.9,413.6 L156.8,413.3 L157.8,413.1 L158.7,412.8 L159.7,412.7 L160.6,412.5 L161.6,412.3 L162.6,412.2 L163.5,412.0 L164.5,411.9 L165.4,411.7 L166.4,411.5 L167.3,411.3 L168.3,411.2 L169.2,411.0 L170.2,410.8 L171.2,410.6 L172.1,410.4 L173.1,410.2 L174.0,410.1 L175.0,409.9 L175.9,409.7 L176.9,409.5 L177.8,409.4 L178.8,409.2 L179.7,409.0 L180.7,408.8 L181.7,408.6 L182.6,408.4 L183.6,408.2 L184.5,408.0 L185.5,407.7 L186.4,407.5 L187.4,407.3 L188.3,407.1 L189.3,406.9 L190.3,406.8 L191.2,406.6 L192.2,406.4 L193.1,406.3 L194.1,406.2 L195.0,406.0 L196.0,405.9 L196.9,405.8 L197.9,405.7 L198.9,405.6 L199.8,405.5 L200.8,405.4 L201.7,405.3 L202.7,405.3 L203.6,405.2 L204.6,405.1 L205.5,405.0 L206.5,404.9 L207.5,404.8 L208.4,404.7 L209.4,404.6 L210.3,404.5 L211.3,404.4 L212.2,404.3 L213.2,404.2 L214.1,404.1 L215.1,404.0 L216.0,403.9 L217.0,403.9 L218.0,403.8 L218.9,403.7 L219.9,403.6 L220.8,403.5 L221.8,403.4 L222.7,403.3 L223.7,403.2 L224.6,403.1 L225.6,403.0 L226.6,402.9 L227.5,402.9 L228.5,402.8 L229.4,402.7 L230.4,402.6 L231.3,402.5 L232.3,402.5 L233.2,402.4 L234.2,402.3 L235.2,402.2 L236.1,402.1 L237.1,402.1 L238.0,402.0 L239.0,401.9 L239.9,401.8 L240.9,401.7 L241.8,401.6 L242.8,401.5 L243.8,401.4" stroke="#3B4EA6"/>
<path d="M52.7,510.6 L53.0,497.7 L53.3,492.5 L53.7,488.7 L54.0,485.6 L54.5,480.0 L54.6,478.7 L55.0,475.7 L55.6,472.6 L56.5,468.9 L57.0,467.6 L57.5,466.3 L57.5,466.3 L58.4,464.3 L59.4,462.6 L59.9,461.6 L60.3,460.9 L60.4,460.8 L61.3,459.8 L62.3,458.3 L63.2,456.6 L63.9,455.7 L64.2,455.4 L65.1,454.1 L66.1,452.6 L67.0,451.1 L68.0,449.8 L68.9,448.7 L69.9,447.7 L70.8,446.7 L71.8,445.8 L72.8,444.8 L73.7,443.9 L74.7,442.9 L75.6,442.0 L76.6,441.0 L77.5,440.1 L78.5,439.1 L79.4,438.2 L80.4,437.3 L81.4,436.5 L82.3,435.7 L83.3,435.0 L84.2,434.3 L85.2,433.6 L86.1,432.9 L87.1,432.3 L88.0,431.7 L89.0,431.0 L90.0,430.3 L90.9,429.6 L91.9,428.9 L92.8,428.2 L93.8,427.4 L94.7,426.6 L95.7,425.9 L96.6,425.2 L97.6,424.6 L98.6,424.1 L99.5,423.6 L100.5,423.2 L101.4,422.7 L102.4,422.3 L103.3,421.9 L104.3,421.5 L105.2,421.1 L106.2,420.7 L107.1,420.2 L108.1,419.7 L109.1,419.3 L110.0,418.8 L111.0,418.3 L111.9,417.8 L112.9,417.3 L113.8,416.9 L114.8,416.5 L115.7,416.0 L116.7,415.7 L117.7,415.3 L118.6,414.9 L119.6,414.5 L120.5,414.1 L121.5,413.8 L122.4,413.4 L123.4,413.0 L124.3,412.6 L125.3,412.2 L126.3,411.8 L127.2,411.4 L128.2,411.1 L129.1,410.8 L130.1,410.5 L131.0,410.2 L132.0,409.9 L132.9,409.7 L133.9,409.5 L134.9,409.2 L135.8,409.0 L136.8,408.7 L137.7,408.5 L138.7,408.2 L139.6,407.9 L140.6,407.6 L141.5,407.4 L142.5,407.1 L143.4,406.9 L144.4,406.6 L145.4,406.4 L146.3,406.2 L147.3,406.0 L148.2,405.8 L149.2,405.7 L150.1,405.6 L151.1,405.6 L152.0,405.5 L153.0,405.4 L154.0,405.3 L154.9,405.2 L155.9,405.0 L156.8,404.9 L157.8,404.7 L158.7,404.5 L159.7,404.3 L160.6,404.1 L161.6,403.9 L162.6,403.7 L163.5,403.5 L164.5,403.4 L165.4,403.2 L166.4,403.0 L167.3,402.8 L168.3,402.6 L169.2,402.4 L170.2,402.2 L171.2,402.0 L172.1,401.9 L173.1,401.7 L174.0,401.5 L175.0,401.3 L175.9,401.1 L176.9,401.0 L177.8,400.8 L178.8,400.6 L179.7,400.5 L180.7,400.3 L181.7,400.1 L182.6,400.0 L183.6,399.8 L184.5,399.7 L185.5,399.5 L186.4,399.4 L187.4,399.3 L188.3,399.2 L189.3,399.1 L190.3,399.0 L191.2,398.9 L192.2,398.8 L193.1,398.7 L194.1,398.6 L195.0,398.5 L196.0,398.4 L196.9,398.3 L197.9,398.2 L198.9,398.1 L199.8,398.0 L200.8,397.9 L201.7,397.8 L202.7,397.7 L203.6,397.6 L204.6,397.6 L205.5,397.5 L206.5,397.4 L207.5,397.3 L208.4,397.1 L209.4,397.0 L210.3,396.9 L211.3,396.8 L212.2,396.7 L213.2,396.5 L214.1,396.4 L215.1,396.3 L216.0,396.1 L217.0,396.0 L218.0,395.9 L218.9,395.7 L219.9,395.6 L220.8,395.5 L221.8,395.4 L222.7,395.3 L223.7,395.2 L224.6,395.1 L225.6,395.0 L226.6,395.0 L227.5,394.9 L228.5,394.8 L229.4,394.7 L230.4,394.7 L231.3,394.6 L232.3,394.5 L233.2,394.5 L234.2,394.4 L235.2,394.4 L236.1,394.3 L237.1,394.2 L238.0,394.2 L239.0,394.1 L239.9,394.0 L240.9,394.0 L241.8,393.9 L242.8,393.9 L243.8,393.8" stroke="#EE6EA7"/>
<path d="M52.7,510.6 L52.8,496.0 L53.3,485.2 L53.6,482.0 L53.7,480.9 L53.9,477.5 L54.4,472.0 L54.6,470.4 L55.6,465.9 L56.0,464.6 L56.0,464.5 L56.5,462.9 L57.5,460.6 L58.0,459.6 L58.4,458.9 L59.4,457.6 L60.3,456.2 L60.4,456.1 L60.9,455.7 L61.3,455.3 L62.3,454.1 L63.2,452.8 L63.9,451.9 L64.2,451.7 L65.1,450.7 L66.1,449.7 L67.0,448.7 L68.0,447.8 L68.9,447.0 L69.9,446.3 L70.8,445.4 L71.8,444.4 L72.8,443.2 L73.7,441.7 L74.7,440.4 L75.6,439.2 L76.6,438.3 L77.5,437.5 L78.5,436.8 L79.4,436.1 L80.4,435.5 L81.4,434.9 L82.3,434.3 L83.3,433.7 L84.2,433.1 L85.2,432.5 L86.1,431.8 L87.1,431.1 L88.0,430.4 L89.0,429.8 L90.0,429.2 L90.9,428.7 L91.9,428.2 L92.8,427.6 L93.8,427.1 L94.7,426.6 L95.7,426.1 L96.6,425.6 L97.6,425.1 L98.6,424.6 L99.5,424.1 L100.5,423.6 L101.4,423.1 L102.4,422.6 L103.3,422.1 L104.3,421.6 L105.2,421.2 L106.2,420.7 L107.1,420.2 L108.1,419.7 L109.1,419.2 L110.0,418.8 L111.0,418.3 L111.9,417.8 L112.9,417.3 L113.8,416.9 L114.8,416.4 L115.7,416.0 L116.7,415.6 L117.7,415.3 L118.6,414.9 L119.6,414.5 L120.5,414.1 L121.5,413.8 L122.4,413.4 L123.4,413.0 L124.3,412.6 L125.3,412.2 L126.3,411.8 L127.2,411.4 L128.2,411.1 L129.1,410.7 L130.1,410.4 L131.0,410.1 L132.0,409.8 L132.9,409.5 L133.9,409.3 L134.9,409.0 L135.8,408.7 L136.8,408.4 L137.7,408.1 L138.7,407.9 L139.6,407.6 L140.6,407.3 L141.5,407.0 L142.5,406.7 L143.4,406.4 L144.4,406.1 L145.4,405.8 L146.3,405.5 L147.3,405.2 L148.2,404.9 L149.2,404.7 L150.1,404.5 L151.1,404.3 L152.0,404.1 L153.0,404.0 L154.0,403.9 L154.9,403.7 L155.9,403.5 L156.8,403.4 L157.8,403.2 L158.7,403.0 L159.7,402.8 L160.6,402.6 L161.6,402.4 L162.6,402.3 L163.5,402.1 L164.5,401.9 L165.4,401.8 L166.4,401.6 L167.3,401.4 L168.3,401.3 L169.2,401.2 L170.2,401.0 L171.2,400.9 L172.1,400.7 L173.1,400.6 L174.0,400.5 L175.0,400.3 L175.9,400.2 L176.9,400.1 L177.8,399.9 L178.8,399.8 L179.7,399.6 L180.7,399.5 L181.7,399.4 L182.6,399.2 L183.6,399.1 L184.5,398.9 L185.5,398.8 L186.4,398.7 L187.4,398.5 L188.3,398.4 L189.3,398.3 L190.3,398.2 L191.2,398.0 L192.2,397.9 L193.1,397.8 L194.1,397.7 L195.0,397.6 L196.0,397.5 L196.9,397.4 L197.9,397.3 L198.9,397.2 L199.8,397.1 L200.8,397.0 L201.7,396.9 L202.7,396.9 L203.6,396.8 L204.6,396.7 L205.5,396.6 L206.5,396.5 L207.5,396.4 L208.4,396.3 L209.4,396.2 L210.3,396.1 L211.3,395.9 L212.2,395.8 L213.2,395.7 L214.1,395.6 L215.1,395.5 L216.0,395.3 L217.0,395.2 L218.0,395.1 L218.9,395.0 L219.9,394.9 L220.8,394.8 L221.8,394.7 L222.7,394.6 L223.7,394.5 L224.6,394.4 L225.6,394.3 L226.6,394.2 L227.5,394.1 L228.5,394.0 L229.4,393.9 L230.4,393.9 L231.3,393.8 L232.3,393.7 L233.2,393.6 L234.2,393.5 L235.2,393.5 L236.1,393.4 L237.1,393.3 L238.0,393.2 L239.0,393.2 L239.9,393.1 L240.9,393.0 L241.8,393.0 L242.8,393.0 L243.8,393.0" stroke="#67BC4C"/>
<path d="M52.7,510.6 L53.0,501.7 L53.3,498.9 L53.7,497.0 L54.0,495.8 L54.5,494.0 L54.6,493.7 L55.6,491.7 L55.6,491.7 L56.5,491.2 L57.5,490.8 L57.5,490.8 L58.0,490.6 L58.4,490.1 L59.4,488.4 L60.3,486.5 L60.9,485.9 L61.3,485.6 L62.3,484.8 L63.2,484.1 L63.4,484.0 L63.9,483.7 L64.2,483.5 L65.1,482.6 L66.1,481.3 L67.0,479.8 L68.0,478.4 L68.9,477.1 L69.9,475.8 L70.8,474.5 L71.8,473.3 L72.8,472.1 L73.7,471.0 L74.7,470.0 L75.6,469.0 L76.6,467.9 L77.5,466.7 L78.5,465.5 L79.4,464.3 L80.4,463.3 L81.4,462.2 L82.3,461.3 L83.3,460.3 L84.2,459.4 L85.2,458.6 L86.1,457.7 L87.1,456.9 L88.0,456.1 L89.0,455.3 L90.0,454.5 L90.9,453.6 L91.9,452.7 L92.8,451.8 L93.8,450.9 L94.7,449.8 L95.7,448.8 L96.6,447.6 L97.6,446.5 L98.6,445.3 L99.5,444.1 L100.5,443.0 L101.4,441.9 L102.4,440.8 L103.3,439.7 L104.3,438.7 L105.2,437.7 L106.2,436.7 L107.1,435.7 L108.1,434.7 L109.1,433.8 L110.0,432.9 L111.0,432.0 L111.9,431.1 L112.9,430.3 L113.8,429.6 L114.8,429.0 L115.7,428.4 L116.7,427.9 L117.7,427.4 L118.6,426.9 L119.6,426.5 L120.5,426.0 L121.5,425.6 L122.4,425.2 L123.4,424.8 L124.3,424.4 L125.3,424.0 L126.3,423.6 L127.2,423.2 L128.2,422.9 L129.1,422.5 L130.1,422.1 L131.0,421.7 L132.0,421.4 L132.9,421.0 L133.9,420.6 L134.9,420.2 L135.8,419.8 L136.8,419.4 L137.7,418.9 L138.7,418.4 L139.6,418.0 L140.6,417.5 L141.5,417.0 L142.5,416.5 L143.4,416.0 L144.4,415.6 L145.4,415.2 L146.3,414.7 L147.3,414.3 L148.2,413.9 L149.2,413.6 L150.1,413.3 L151.1,413.1 L152.0,412.9 L153.0,412.7 L154.0,412.6 L154.9,412.4 L155.9,412.2 L156.8,412.0 L157.8,411.8 L158.7,411.5 L159.7,411.2 L160.6,410.9 L161.6,410.6 L162.6,410.3 L163.5,410.0 L164.5,409.7 L165.4,409.4 L166.4,409.2 L167.3,408.9 L168.3,408.7 L169.2,408.4 L170.2,408.2 L171.2,407.9 L172.1,407.7 L173.1,407.5 L174.0,407.3 L175.0,407.1 L175.9,406.9 L176.9,406.7 L177.8,406.4 L178.8,406.2 L179.7,406.0 L180.7,405.7 L181.7,405.4 L182.6,405.1 L183.6,404.8 L184.5,404.5 L185.5,404.2 L186.4,403.9 L187.4,403.6 L188.3,403.3 L189.3,403.0 L190.3,402.7 L191.2,402.4 L192.2,402.2 L193.1,402.0 L194.1,401.8 L195.0,401.6 L196.0,401.4 L196.9,401.2 L197.9,401.1 L198.9,400.9 L199.8,400.8 L200.8,400.6 L201.7,400.5 L202.7,400.4 L203.6,400.2 L204.6,400.1 L205.5,400.0 L206.5,399.9 L207.5,399.7 L208.4,399.6 L209.4,399.5 L210.3,399.4 L211.3,399.3 L212.2,399.2 L213.2,399.1 L214.1,399.0 L215.1,398.9 L216.0,398.8 L217.0,398.7 L218.0,398.7 L218.9,398.6 L219.9,398.5 L220.8,398.4 L221.8,398.3 L222.7,398.2 L223.7,398.1 L224.6,398.0 L225.6,397.9 L226.6,397.8 L227.5,397.7 L228.5,397.6 L229.4,397.5 L230.4,397.4 L231.3,397.3 L232.3,397.2 L233.2,397.1 L234.2,397.0 L235.2,396.9 L236.1,396.8 L237.1,396.7 L238.0,396.6 L239.0,396.5 L239.9,396.4 L240.9,396.2 L241.8,396.1 L242.8,396.0 L243.8,395.8" stroke="#4AA8DE"/>
<path d="M52.7,510.6 L53.0,501.6 L53.3,497.4 L53.7,494.2 L54.0,491.5 L54.5,487.0 L54.6,486.0 L55.0,483.5 L55.6,480.5 L56.0,478.7 L56.5,476.8 L57.0,475.6 L57.5,474.5 L58.4,472.8 L59.4,471.4 L59.9,470.7 L60.3,470.1 L60.4,470.0 L61.3,469.2 L62.3,467.9 L63.2,466.5 L63.9,465.6 L64.2,465.3 L65.1,464.1 L66.1,462.7 L67.0,461.1 L68.0,459.7 L68.9,458.4 L69.9,457.1 L70.8,456.0 L71.8,454.8 L72.8,453.6 L73.7,452.4 L74.7,451.2 L75.6,449.9 L76.6,448.6 L77.5,447.2 L78.5,445.8 L79.4,444.5 L80.4,443.4 L81.4,442.4 L82.3,441.5 L83.3,440.9 L84.2,440.4 L85.2,440.1 L86.1,440.0 L87.1,439.8 L88.0,439.6 L89.0,439.2 L90.0,438.7 L90.9,438.1 L91.9,437.5 L92.8,436.8 L93.8,436.0 L94.7,435.3 L95.7,434.6 L96.6,434.0 L97.6,433.3 L98.6,432.7 L99.5,432.1 L100.5,431.6 L101.4,431.1 L102.4,430.6 L103.3,430.2 L104.3,429.7 L105.2,429.2 L106.2,428.7 L107.1,428.3 L108.1,427.7 L109.1,427.2 L110.0,426.7 L111.0,426.2 L111.9,425.7 L112.9,425.2 L113.8,424.7 L114.8,424.2 L115.7,423.8 L116.7,423.3 L117.7,422.9 L118.6,422.5 L119.6,422.1 L120.5,421.6 L121.5,421.0 L122.4,420.4 L123.4,419.7 L124.3,418.9 L125.3,418.1 L126.3,417.3 L127.2,416.5 L128.2,415.8 L129.1,415.2 L130.1,414.7 L131.0,414.2 L132.0,413.8 L132.9,413.4 L133.9,413.0 L134.9,412.7 L135.8,412.4 L136.8,412.1 L137.7,411.8 L138.7,411.6 L139.6,411.3 L140.6,411.1 L141.5,410.8 L142.5,410.6 L143.4,410.3 L144.4,410.1 L145.4,409.7 L146.3,409.4 L147.3,409.1 L148.2,408.8 L149.2,408.5 L150.1,408.2 L151.1,408.0 L152.0,407.7 L153.0,407.5 L154.0,407.2 L154.9,406.9 L155.9,406.6 L156.8,406.2 L157.8,405.9 L158.7,405.7 L159.7,405.4 L160.6,405.1 L161.6,404.8 L162.6,404.6 L163.5,404.3 L164.5,404.1 L165.4,403.8 L166.4,403.6 L167.3,403.3 L168.3,403.0 L169.2,402.8 L170.2,402.5 L171.2,402.3 L172.1,402.0 L173.1,401.8 L174.0,401.5 L175.0,401.3 L175.9,401.1 L176.9,400.9 L177.8,400.7 L178.8,400.5 L179.7,400.3 L180.7,400.1 L181.7,399.9 L182.6,399.8 L183.6,399.6 L184.5,399.5 L185.5,399.3 L186.4,399.2 L187.4,399.1 L188.3,398.9 L189.3,398.8 L190.3,398.7 L191.2,398.5 L192.2,398.4 L193.1,398.3 L194.1,398.1 L195.0,398.0 L196.0,397.9 L196.9,397.7 L197.9,397.6 L198.9,397.5 L199.8,397.4 L200.8,397.2 L201.7,397.1 L202.7,397.0 L203.6,396.9 L204.6,396.8 L205.5,396.6 L206.5,396.5 L207.5,396.4 L208.4,396.3 L209.4,396.2 L210.3,396.0 L211.3,395.9 L212.2,395.8 L213.2,395.7 L214.1,395.6 L215.1,395.5 L216.0,395.3 L217.0,395.2 L218.0,395.1 L218.9,395.0 L219.9,394.9 L220.8,394.8 L221.8,394.7 L222.7,394.6 L223.7,394.5 L224.6,394.3 L225.6,394.2 L226.6,394.1 L227.5,394.0 L228.5,393.9 L229.4,393.8 L230.4,393.7 L231.3,393.6 L232.3,393.5 L233.2,393.4 L234.2,393.3 L235.2,393.2 L236.1,393.1 L237.1,393.0 L238.0,392.9 L239.0,392.8 L239.9,392.7 L240.9,392.6 L241.8,392.5 L242.8,392.4 L243.8,392.4" stroke="#F4D10C"/>
</g>
<rect x="43.5" y="363.8" width="209" height="153.7" fill="none" stroke="#333" stroke-width="1"/>
<text transform="translate(56.6,384.6) scale(0.88,1)" x="0" y="0" font-size="17" fill="#1a1a1a">G</text>
<rect x="260.5" y="363.8" width="209" height="153.7" fill="#fff"/>
<path d="M269.70,363.8 V517.5 M317.46,363.8 V517.5 M365.23,363.8 V517.5 M412.99,363.8 V517.5 M460.75,363.8 V517.5 M260.5,510.60 H469.5 M260.5,475.50 H469.5 M260.5,440.40 H469.5 M260.5,405.30 H469.5 M260.5,370.20 H469.5" stroke="#EBEBEB" stroke-width="1.1" fill="none"/>
<g clip-path="url(#cp7)" fill="none" stroke-width="1.75" stroke-linejoin="round" stroke-linecap="butt">
<path d="M269.7,510.6 L270.0,505.6 L270.7,501.0 L270.9,499.9 L271.0,499.5 L271.6,496.3 L272.6,492.4 L273.0,491.5 L273.0,491.5 L273.5,490.9 L274.5,490.1 L275.4,489.6 L276.0,489.3 L276.4,489.1 L277.3,488.8 L277.4,488.8 L278.3,488.5 L278.9,488.2 L279.3,488.0 L280.2,487.3 L281.2,486.3 L282.1,485.3 L283.1,484.5 L284.0,483.9 L285.0,483.3 L285.9,482.9 L286.9,482.5 L287.8,482.2 L288.8,482.0 L289.8,481.8 L290.7,481.5 L291.7,481.3 L292.6,481.1 L293.6,480.8 L294.5,480.6 L295.5,480.4 L296.4,480.2 L297.4,480.1 L298.4,479.9 L299.3,479.8 L300.3,479.6 L301.2,479.4 L302.2,479.3 L303.1,479.2 L304.1,479.0 L305.0,478.8 L306.0,478.6 L307.0,478.4 L307.9,478.1 L308.9,477.7 L309.8,477.3 L310.8,476.9 L311.7,476.5 L312.7,476.1 L313.6,475.7 L314.6,475.3 L315.6,474.8 L316.5,474.4 L317.5,474.1 L318.4,473.9 L319.4,473.8 L320.3,473.7 L321.3,473.6 L322.2,473.5 L323.2,473.4 L324.1,473.4 L325.1,473.3 L326.1,473.2 L327.0,473.1 L328.0,473.1 L328.9,473.0 L329.9,472.9 L330.8,472.9 L331.8,472.8 L332.7,472.7 L333.7,472.7 L334.7,472.6 L335.6,472.6 L336.6,472.5 L337.5,472.5 L338.5,472.4 L339.4,472.4 L340.4,472.3 L341.3,472.3 L342.3,472.2 L343.3,472.2 L344.2,472.1 L345.2,472.1 L346.1,472.0 L347.1,472.0 L348.0,471.9 L349.0,471.9 L349.9,471.8 L350.9,471.8 L351.9,471.7 L352.8,471.7 L353.8,471.6 L354.7,471.6 L355.7,471.5 L356.6,471.5 L357.6,471.4 L358.5,471.4 L359.5,471.3 L360.4,471.3 L361.4,471.2 L362.4,471.2 L363.3,471.1 L364.3,471.1 L365.2,471.0 L366.2,470.9 L367.1,470.8 L368.1,470.8 L369.0,470.7 L370.0,470.6 L371.0,470.6 L371.9,470.5 L372.9,470.4 L373.8,470.4 L374.8,470.3 L375.7,470.3 L376.7,470.2 L377.6,470.1 L378.6,470.1 L379.6,470.0 L380.5,469.9 L381.5,469.9 L382.4,469.8 L383.4,469.7 L384.3,469.6 L385.3,469.5 L386.2,469.4 L387.2,469.3 L388.2,469.1 L389.1,469.0 L390.1,468.9 L391.0,468.8 L392.0,468.7 L392.9,468.6 L393.9,468.6 L394.8,468.5 L395.8,468.5 L396.7,468.5 L397.7,468.4 L398.7,468.4 L399.6,468.4 L400.6,468.4 L401.5,468.4 L402.5,468.4 L403.4,468.3 L404.4,468.3 L405.3,468.3 L406.3,468.3 L407.3,468.3 L408.2,468.3 L409.2,468.3 L410.1,468.2 L411.1,468.2 L412.0,468.2 L413.0,468.2 L413.9,468.2 L414.9,468.1 L415.9,468.1 L416.8,468.1 L417.8,468.1 L418.7,468.1 L419.7,468.1 L420.6,468.0 L421.6,468.0 L422.5,468.0 L423.5,468.0 L424.5,468.0 L425.4,467.9 L426.4,467.9 L427.3,467.9 L428.3,467.9 L429.2,467.8 L430.2,467.8 L431.1,467.8 L432.1,467.8 L433.0,467.7 L434.0,467.7 L435.0,467.7 L435.9,467.7 L436.9,467.6 L437.8,467.6 L438.8,467.6 L439.7,467.5 L440.7,467.5 L441.6,467.5 L442.6,467.4 L443.6,467.4 L444.5,467.4 L445.5,467.3 L446.4,467.3 L447.4,467.3 L448.3,467.3 L449.3,467.2 L450.2,467.2 L451.2,467.2 L452.2,467.1 L453.1,467.1 L454.1,467.1 L455.0,467.0 L456.0,467.0 L456.9,467.0 L457.9,466.9 L458.8,466.9 L459.8,466.8 L460.8,466.7" stroke="#E3262A"/>
<path d="M269.7,510.6 L270.0,503.6 L270.7,498.8 L270.9,497.9 L271.0,497.6 L271.6,495.8 L272.6,494.0 L273.0,493.4 L273.0,493.4 L273.5,492.7 L274.5,491.8 L275.4,490.9 L276.0,490.4 L276.4,489.9 L277.3,488.9 L278.3,487.9 L278.9,487.4 L279.3,487.1 L280.2,486.5 L280.4,486.3 L281.2,485.8 L282.1,485.2 L283.1,484.4 L284.0,483.8 L285.0,483.3 L285.9,482.8 L286.9,482.5 L287.8,482.1 L288.8,481.9 L289.8,481.6 L290.7,481.4 L291.7,481.2 L292.6,480.9 L293.6,480.7 L294.5,480.4 L295.5,480.0 L296.4,479.6 L297.4,479.1 L298.4,478.6 L299.3,478.2 L300.3,477.7 L301.2,477.2 L302.2,476.7 L303.1,476.1 L304.1,475.4 L305.0,474.8 L306.0,474.1 L307.0,473.5 L307.9,473.0 L308.9,472.6 L309.8,472.2 L310.8,471.8 L311.7,471.4 L312.7,471.0 L313.6,470.5 L314.6,469.9 L315.6,469.4 L316.5,468.9 L317.5,468.5 L318.4,468.1 L319.4,467.7 L320.3,467.4 L321.3,467.0 L322.2,466.6 L323.2,466.2 L324.1,465.8 L325.1,465.4 L326.1,465.1 L327.0,464.7 L328.0,464.3 L328.9,463.9 L329.9,463.5 L330.8,463.2 L331.8,462.8 L332.7,462.5 L333.7,462.2 L334.7,461.9 L335.6,461.6 L336.6,461.4 L337.5,461.1 L338.5,460.8 L339.4,460.5 L340.4,460.2 L341.3,459.9 L342.3,459.7 L343.3,459.4 L344.2,459.2 L345.2,459.0 L346.1,458.9 L347.1,458.8 L348.0,458.7 L349.0,458.6 L349.9,458.6 L350.9,458.6 L351.9,458.5 L352.8,458.5 L353.8,458.4 L354.7,458.4 L355.7,458.4 L356.6,458.4 L357.6,458.3 L358.5,458.3 L359.5,458.3 L360.4,458.2 L361.4,458.2 L362.4,458.2 L363.3,458.2 L364.3,458.1 L365.2,458.1 L366.2,458.1 L367.1,458.1 L368.1,458.1 L369.0,458.2 L370.0,458.2 L371.0,458.2 L371.9,458.2 L372.9,458.1 L373.8,458.1 L374.8,458.0 L375.7,458.0 L376.7,457.9 L377.6,457.9 L378.6,457.8 L379.6,457.8 L380.5,457.7 L381.5,457.7 L382.4,457.6 L383.4,457.5 L384.3,457.5 L385.3,457.4 L386.2,457.4 L387.2,457.3 L388.2,457.2 L389.1,457.2 L390.1,457.1 L391.0,457.1 L392.0,457.0 L392.9,457.0 L393.9,456.9 L394.8,456.8 L395.8,456.8 L396.7,456.7 L397.7,456.7 L398.7,456.6 L399.6,456.6 L400.6,456.5 L401.5,456.5 L402.5,456.4 L403.4,456.4 L404.4,456.3 L405.3,456.3 L406.3,456.3 L407.3,456.2 L408.2,456.2 L409.2,456.1 L410.1,456.1 L411.1,456.1 L412.0,456.0 L413.0,456.0 L413.9,456.0 L414.9,455.9 L415.9,455.9 L416.8,455.9 L417.8,455.8 L418.7,455.8 L419.7,455.8 L420.6,455.7 L421.6,455.7 L422.5,455.7 L423.5,455.6 L424.5,455.6 L425.4,455.6 L426.4,455.5 L427.3,455.5 L428.3,455.5 L429.2,455.5 L430.2,455.4 L431.1,455.4 L432.1,455.4 L433.0,455.3 L434.0,455.3 L435.0,455.3 L435.9,455.3 L436.9,455.2 L437.8,455.2 L438.8,455.2 L439.7,455.2 L440.7,455.2 L441.6,455.1 L442.6,455.1 L443.6,455.1 L444.5,455.1 L445.5,455.0 L446.4,455.0 L447.4,455.0 L448.3,455.0 L449.3,455.0 L450.2,454.9 L451.2,454.9 L452.2,454.9 L453.1,454.9 L454.1,454.9 L455.0,454.9 L456.0,454.8 L456.9,454.8 L457.9,454.8 L458.8,454.7 L459.8,454.6 L460.8,454.5" stroke="#8E4FAE"/>
<path d="M269.7,510.6 L270.0,497.8 L270.3,492.3 L270.7,488.3 L271.0,485.9 L271.5,483.1 L271.6,482.5 L272.6,479.0 L273.0,477.7 L273.5,476.0 L274.5,473.4 L274.5,473.4 L275.0,472.6 L275.4,472.2 L276.4,471.5 L277.3,470.8 L277.9,470.5 L278.3,470.2 L279.3,469.6 L280.2,469.0 L280.4,468.9 L280.9,468.7 L281.2,468.5 L282.1,468.0 L283.1,467.2 L284.0,466.3 L285.0,465.5 L285.9,464.8 L286.9,464.0 L287.8,463.4 L288.8,462.9 L289.8,462.5 L290.7,462.2 L291.7,461.9 L292.6,461.5 L293.6,461.0 L294.5,460.4 L295.5,459.7 L296.4,459.0 L297.4,458.4 L298.4,457.8 L299.3,457.3 L300.3,456.9 L301.2,456.3 L302.2,455.7 L303.1,455.0 L304.1,454.2 L305.0,453.3 L306.0,452.5 L307.0,451.6 L307.9,450.8 L308.9,450.0 L309.8,449.2 L310.8,448.5 L311.7,447.8 L312.7,447.2 L313.6,446.5 L314.6,445.9 L315.6,445.3 L316.5,444.7 L317.5,444.2 L318.4,443.8 L319.4,443.4 L320.3,443.0 L321.3,442.6 L322.2,442.3 L323.2,441.9 L324.1,441.6 L325.1,441.3 L326.1,441.0 L327.0,440.7 L328.0,440.4 L328.9,440.1 L329.9,439.8 L330.8,439.6 L331.8,439.3 L332.7,439.0 L333.7,438.7 L334.7,438.4 L335.6,438.1 L336.6,437.9 L337.5,437.6 L338.5,437.3 L339.4,437.0 L340.4,436.7 L341.3,436.4 L342.3,436.1 L343.3,435.9 L344.2,435.6 L345.2,435.3 L346.1,435.0 L347.1,434.7 L348.0,434.4 L349.0,434.1 L349.9,433.8 L350.9,433.5 L351.9,433.2 L352.8,433.0 L353.8,432.8 L354.7,432.5 L355.7,432.3 L356.6,432.1 L357.6,431.9 L358.5,431.8 L359.5,431.6 L360.4,431.4 L361.4,431.2 L362.4,431.0 L363.3,430.8 L364.3,430.6 L365.2,430.4 L366.2,430.2 L367.1,430.0 L368.1,429.8 L369.0,429.6 L370.0,429.4 L371.0,429.1 L371.9,428.9 L372.9,428.6 L373.8,428.3 L374.8,428.1 L375.7,427.8 L376.7,427.5 L377.6,427.2 L378.6,427.0 L379.6,426.7 L380.5,426.4 L381.5,426.2 L382.4,425.9 L383.4,425.7 L384.3,425.4 L385.3,425.2 L386.2,424.9 L387.2,424.7 L388.2,424.4 L389.1,424.2 L390.1,424.0 L391.0,423.8 L392.0,423.6 L392.9,423.4 L393.9,423.3 L394.8,423.2 L395.8,423.1 L396.7,422.9 L397.7,422.8 L398.7,422.7 L399.6,422.6 L400.6,422.5 L401.5,422.4 L402.5,422.3 L403.4,422.2 L404.4,422.0 L405.3,421.9 L406.3,421.7 L407.3,421.6 L408.2,421.5 L409.2,421.3 L410.1,421.2 L411.1,421.1 L412.0,421.0 L413.0,420.9 L413.9,420.7 L414.9,420.6 L415.9,420.5 L416.8,420.4 L417.8,420.3 L418.7,420.2 L419.7,420.0 L420.6,419.9 L421.6,419.8 L422.5,419.6 L423.5,419.5 L424.5,419.4 L425.4,419.2 L426.4,419.1 L427.3,419.0 L428.3,418.8 L429.2,418.7 L430.2,418.6 L431.1,418.4 L432.1,418.3 L433.0,418.2 L434.0,418.0 L435.0,417.9 L435.9,417.8 L436.9,417.6 L437.8,417.5 L438.8,417.4 L439.7,417.3 L440.7,417.1 L441.6,417.0 L442.6,416.9 L443.6,416.8 L444.5,416.7 L445.5,416.6 L446.4,416.5 L447.4,416.5 L448.3,416.4 L449.3,416.3 L450.2,416.3 L451.2,416.2 L452.2,416.1 L453.1,416.0 L454.1,415.9 L455.0,415.8 L456.0,415.7 L456.9,415.6 L457.9,415.4 L458.8,415.3 L459.8,415.1 L460.8,414.9" stroke="#3B4EA6"/>
<path d="M269.7,510.6 L270.0,503.6 L270.7,499.1 L270.9,498.0 L271.0,497.6 L271.6,494.2 L272.6,489.6 L272.6,489.6 L273.0,487.7 L273.5,485.4 L274.0,483.6 L274.5,481.4 L275.4,477.4 L276.0,475.7 L276.4,474.6 L277.3,472.6 L277.4,472.4 L278.3,471.0 L278.9,470.0 L279.3,469.4 L280.2,467.5 L281.2,465.4 L282.1,463.3 L283.1,461.4 L284.0,459.8 L285.0,458.3 L285.9,457.0 L286.9,455.9 L287.8,454.9 L288.8,454.1 L289.8,453.4 L290.7,452.7 L291.7,452.0 L292.6,451.3 L293.6,450.6 L294.5,449.8 L295.5,449.1 L296.4,448.4 L297.4,447.7 L298.4,446.9 L299.3,446.1 L300.3,445.2 L301.2,444.3 L302.2,443.4 L303.1,442.7 L304.1,441.9 L305.0,441.2 L306.0,440.5 L307.0,439.8 L307.9,439.1 L308.9,438.4 L309.8,437.7 L310.8,437.0 L311.7,436.4 L312.7,435.8 L313.6,435.3 L314.6,434.7 L315.6,434.1 L316.5,433.6 L317.5,433.0 L318.4,432.4 L319.4,431.8 L320.3,431.2 L321.3,430.6 L322.2,430.1 L323.2,429.6 L324.1,429.1 L325.1,428.7 L326.1,428.2 L327.0,427.9 L328.0,427.5 L328.9,427.1 L329.9,426.8 L330.8,426.4 L331.8,425.9 L332.7,425.5 L333.7,425.0 L334.7,424.5 L335.6,424.0 L336.6,423.5 L337.5,423.0 L338.5,422.6 L339.4,422.3 L340.4,422.0 L341.3,421.7 L342.3,421.4 L343.3,421.1 L344.2,420.8 L345.2,420.5 L346.1,420.2 L347.1,419.9 L348.0,419.6 L349.0,419.3 L349.9,418.9 L350.9,418.6 L351.9,418.2 L352.8,417.9 L353.8,417.5 L354.7,417.1 L355.7,416.7 L356.6,416.3 L357.6,415.8 L358.5,415.4 L359.5,415.0 L360.4,414.6 L361.4,414.1 L362.4,413.7 L363.3,413.3 L364.3,412.9 L365.2,412.6 L366.2,412.2 L367.1,411.8 L368.1,411.4 L369.0,411.0 L370.0,410.6 L371.0,410.3 L371.9,409.9 L372.9,409.6 L373.8,409.3 L374.8,409.0 L375.7,408.7 L376.7,408.4 L377.6,408.1 L378.6,407.8 L379.6,407.5 L380.5,407.2 L381.5,406.9 L382.4,406.6 L383.4,406.4 L384.3,406.1 L385.3,405.9 L386.2,405.7 L387.2,405.5 L388.2,405.3 L389.1,405.1 L390.1,404.9 L391.0,404.7 L392.0,404.5 L392.9,404.3 L393.9,404.1 L394.8,403.9 L395.8,403.7 L396.7,403.5 L397.7,403.3 L398.7,403.1 L399.6,402.9 L400.6,402.7 L401.5,402.5 L402.5,402.3 L403.4,402.2 L404.4,402.0 L405.3,401.9 L406.3,401.7 L407.3,401.5 L408.2,401.4 L409.2,401.2 L410.1,401.1 L411.1,400.9 L412.0,400.8 L413.0,400.7 L413.9,400.5 L414.9,400.4 L415.9,400.3 L416.8,400.2 L417.8,400.0 L418.7,399.9 L419.7,399.8 L420.6,399.7 L421.6,399.6 L422.5,399.5 L423.5,399.4 L424.5,399.3 L425.4,399.2 L426.4,399.1 L427.3,399.0 L428.3,398.9 L429.2,398.8 L430.2,398.7 L431.1,398.6 L432.1,398.5 L433.0,398.5 L434.0,398.4 L435.0,398.3 L435.9,398.2 L436.9,398.1 L437.8,398.0 L438.8,397.9 L439.7,397.8 L440.7,397.7 L441.6,397.6 L442.6,397.6 L443.6,397.5 L444.5,397.4 L445.5,397.3 L446.4,397.2 L447.4,397.1 L448.3,397.0 L449.3,396.9 L450.2,396.8 L451.2,396.8 L452.2,396.7 L453.1,396.6 L454.1,396.5 L455.0,396.4 L456.0,396.3 L456.9,396.2 L457.9,396.1 L458.8,395.9 L459.8,395.6 L460.8,395.2" stroke="#EE6EA7"/>
<path d="M269.7,510.6 L270.0,495.9 L270.3,489.8 L270.7,485.5 L270.9,483.0 L271.0,482.0 L271.6,474.9 L272.0,471.9 L272.1,471.2 L272.6,468.6 L273.5,464.8 L274.0,463.6 L274.5,462.6 L274.5,462.6 L275.4,461.2 L276.0,460.6 L276.4,460.2 L277.3,459.6 L277.4,459.5 L278.3,459.0 L278.9,458.5 L279.3,458.2 L280.2,457.2 L281.2,455.9 L282.1,454.4 L283.1,453.0 L284.0,451.7 L285.0,450.4 L285.9,449.1 L286.9,447.9 L287.8,446.7 L288.8,445.7 L289.8,444.7 L290.7,443.7 L291.7,442.8 L292.6,441.8 L293.6,440.9 L294.5,439.9 L295.5,438.9 L296.4,438.0 L297.4,437.0 L298.4,436.2 L299.3,435.3 L300.3,434.6 L301.2,433.8 L302.2,433.2 L303.1,432.5 L304.1,431.8 L305.0,431.1 L306.0,430.5 L307.0,429.8 L307.9,429.2 L308.9,428.6 L309.8,428.1 L310.8,427.6 L311.7,427.1 L312.7,426.6 L313.6,426.1 L314.6,425.7 L315.6,425.2 L316.5,424.7 L317.5,424.2 L318.4,423.6 L319.4,423.1 L320.3,422.5 L321.3,421.9 L322.2,421.3 L323.2,420.8 L324.1,420.3 L325.1,419.8 L326.1,419.3 L327.0,418.9 L328.0,418.5 L328.9,418.1 L329.9,417.7 L330.8,417.3 L331.8,416.9 L332.7,416.4 L333.7,416.0 L334.7,415.6 L335.6,415.1 L336.6,414.7 L337.5,414.2 L338.5,413.8 L339.4,413.3 L340.4,412.8 L341.3,412.3 L342.3,411.9 L343.3,411.4 L344.2,410.9 L345.2,410.4 L346.1,410.0 L347.1,409.6 L348.0,409.1 L349.0,408.7 L349.9,408.3 L350.9,408.0 L351.9,407.6 L352.8,407.3 L353.8,407.0 L354.7,406.7 L355.7,406.5 L356.6,406.2 L357.6,406.0 L358.5,405.8 L359.5,405.6 L360.4,405.4 L361.4,405.2 L362.4,405.0 L363.3,404.8 L364.3,404.6 L365.2,404.4 L366.2,404.2 L367.1,404.0 L368.1,403.9 L369.0,403.7 L370.0,403.5 L371.0,403.4 L371.9,403.2 L372.9,403.0 L373.8,402.8 L374.8,402.7 L375.7,402.5 L376.7,402.3 L377.6,402.1 L378.6,401.9 L379.6,401.7 L380.5,401.6 L381.5,401.4 L382.4,401.2 L383.4,401.0 L384.3,400.9 L385.3,400.7 L386.2,400.6 L387.2,400.4 L388.2,400.3 L389.1,400.1 L390.1,400.0 L391.0,399.8 L392.0,399.7 L392.9,399.5 L393.9,399.4 L394.8,399.3 L395.8,399.1 L396.7,399.0 L397.7,398.8 L398.7,398.7 L399.6,398.5 L400.6,398.4 L401.5,398.2 L402.5,398.1 L403.4,398.0 L404.4,397.8 L405.3,397.7 L406.3,397.6 L407.3,397.5 L408.2,397.4 L409.2,397.3 L410.1,397.2 L411.1,397.1 L412.0,397.1 L413.0,397.0 L413.9,396.9 L414.9,396.8 L415.9,396.7 L416.8,396.6 L417.8,396.5 L418.7,396.5 L419.7,396.4 L420.6,396.3 L421.6,396.2 L422.5,396.2 L423.5,396.1 L424.5,396.0 L425.4,396.0 L426.4,395.9 L427.3,395.8 L428.3,395.8 L429.2,395.7 L430.2,395.7 L431.1,395.6 L432.1,395.5 L433.0,395.5 L434.0,395.4 L435.0,395.3 L435.9,395.2 L436.9,395.2 L437.8,395.1 L438.8,395.0 L439.7,394.9 L440.7,394.8 L441.6,394.8 L442.6,394.7 L443.6,394.6 L444.5,394.5 L445.5,394.4 L446.4,394.3 L447.4,394.2 L448.3,394.1 L449.3,394.0 L450.2,394.0 L451.2,393.9 L452.2,393.8 L453.1,393.7 L454.1,393.6 L455.0,393.5 L456.0,393.4 L456.9,393.3 L457.9,393.2 L458.8,393.1 L459.8,392.9 L460.8,392.7" stroke="#67BC4C"/>
<path d="M269.7,510.6 L270.2,505.6 L270.7,503.9 L270.9,503.3 L271.6,502.1 L272.0,501.5 L272.6,500.5 L273.0,499.9 L273.5,499.2 L274.5,498.0 L275.0,497.5 L275.4,497.0 L276.4,496.2 L277.3,495.4 L277.4,495.3 L278.3,494.9 L278.9,494.6 L279.3,494.5 L280.2,494.0 L281.2,493.4 L282.1,492.9 L283.1,492.4 L284.0,491.9 L285.0,491.5 L285.9,491.0 L286.9,490.5 L287.8,490.0 L288.8,489.5 L289.8,489.1 L290.7,488.6 L291.7,488.1 L292.6,487.6 L293.6,487.2 L294.5,486.6 L295.5,486.0 L296.4,485.3 L297.4,484.6 L298.4,483.9 L299.3,483.1 L300.3,482.4 L301.2,481.7 L302.2,481.0 L303.1,480.4 L304.1,479.8 L305.0,479.3 L306.0,478.8 L307.0,478.2 L307.9,477.6 L308.9,476.8 L309.8,476.0 L310.8,475.2 L311.7,474.2 L312.7,473.2 L313.6,472.1 L314.6,470.9 L315.6,469.8 L316.5,468.9 L317.5,468.4 L318.4,468.1 L319.4,467.6 L320.3,467.0 L321.3,466.3 L322.2,465.6 L323.2,465.0 L324.1,464.3 L325.1,463.7 L326.1,463.1 L327.0,462.5 L328.0,462.0 L328.9,461.4 L329.9,460.9 L330.8,460.3 L331.8,459.7 L332.7,459.2 L333.7,458.6 L334.7,458.1 L335.6,457.5 L336.6,456.9 L337.5,456.3 L338.5,455.7 L339.4,455.0 L340.4,454.2 L341.3,453.4 L342.3,452.6 L343.3,451.8 L344.2,451.1 L345.2,450.4 L346.1,449.8 L347.1,449.3 L348.0,448.8 L349.0,448.4 L349.9,448.1 L350.9,447.7 L351.9,447.4 L352.8,447.0 L353.8,446.6 L354.7,446.2 L355.7,445.8 L356.6,445.4 L357.6,445.1 L358.5,444.7 L359.5,444.3 L360.4,444.0 L361.4,443.6 L362.4,443.3 L363.3,443.0 L364.3,442.7 L365.2,442.4 L366.2,442.2 L367.1,441.8 L368.1,441.5 L369.0,441.2 L370.0,441.0 L371.0,440.7 L371.9,440.5 L372.9,440.2 L373.8,439.9 L374.8,439.7 L375.7,439.3 L376.7,438.9 L377.6,438.5 L378.6,437.9 L379.6,437.1 L380.5,436.3 L381.5,435.4 L382.4,434.6 L383.4,433.9 L384.3,433.2 L385.3,432.6 L386.2,432.1 L387.2,431.7 L388.2,431.3 L389.1,430.9 L390.1,430.5 L391.0,430.1 L392.0,429.7 L392.9,429.3 L393.9,428.9 L394.8,428.4 L395.8,428.0 L396.7,427.5 L397.7,427.0 L398.7,426.5 L399.6,426.0 L400.6,425.5 L401.5,425.1 L402.5,424.6 L403.4,424.2 L404.4,423.8 L405.3,423.4 L406.3,423.0 L407.3,422.6 L408.2,422.3 L409.2,421.9 L410.1,421.6 L411.1,421.3 L412.0,421.0 L413.0,420.7 L413.9,420.5 L414.9,420.2 L415.9,419.9 L416.8,419.6 L417.8,419.3 L418.7,418.9 L419.7,418.5 L420.6,418.0 L421.6,417.4 L422.5,416.8 L423.5,416.2 L424.5,415.5 L425.4,414.9 L426.4,414.4 L427.3,413.9 L428.3,413.5 L429.2,413.1 L430.2,412.8 L431.1,412.5 L432.1,412.2 L433.0,412.0 L434.0,411.7 L435.0,411.5 L435.9,411.2 L436.9,411.0 L437.8,410.8 L438.8,410.6 L439.7,410.4 L440.7,410.2 L441.6,410.0 L442.6,409.8 L443.6,409.7 L444.5,409.5 L445.5,409.3 L446.4,409.1 L447.4,408.9 L448.3,408.7 L449.3,408.6 L450.2,408.4 L451.2,408.2 L452.2,408.0 L453.1,407.8 L454.1,407.5 L455.0,407.3 L456.0,407.0 L456.9,406.7 L457.9,406.4 L458.8,406.1 L459.8,405.8 L460.8,405.5" stroke="#4AA8DE"/>
<path d="M269.7,510.6 L270.2,505.5 L270.7,503.3 L270.9,502.5 L271.6,500.5 L272.0,499.4 L272.6,497.5 L273.0,496.2 L273.5,494.6 L274.0,493.5 L274.5,492.3 L275.4,490.3 L276.4,488.5 L276.9,487.5 L277.3,486.8 L277.4,486.7 L278.3,485.7 L279.3,484.1 L280.2,482.5 L280.9,481.6 L281.2,481.3 L282.1,480.1 L283.1,478.9 L284.0,477.7 L285.0,476.8 L285.9,476.0 L286.9,475.2 L287.8,474.2 L288.8,473.1 L289.8,471.9 L290.7,470.6 L291.7,469.2 L292.6,467.8 L293.6,466.4 L294.5,465.0 L295.5,463.7 L296.4,462.5 L297.4,461.3 L298.4,460.1 L299.3,458.9 L300.3,457.7 L301.2,456.5 L302.2,455.5 L303.1,454.7 L304.1,453.9 L305.0,453.2 L306.0,452.4 L307.0,451.7 L307.9,451.0 L308.9,450.3 L309.8,449.6 L310.8,448.9 L311.7,448.3 L312.7,447.6 L313.6,447.0 L314.6,446.5 L315.6,445.9 L316.5,445.4 L317.5,444.9 L318.4,444.5 L319.4,444.1 L320.3,443.7 L321.3,443.3 L322.2,443.0 L323.2,442.6 L324.1,442.3 L325.1,442.0 L326.1,441.7 L327.0,441.4 L328.0,441.1 L328.9,440.8 L329.9,440.6 L330.8,440.3 L331.8,440.0 L332.7,439.7 L333.7,439.4 L334.7,439.2 L335.6,438.9 L336.6,438.6 L337.5,438.3 L338.5,438.0 L339.4,437.6 L340.4,437.3 L341.3,436.9 L342.3,436.6 L343.3,436.2 L344.2,435.8 L345.2,435.4 L346.1,434.9 L347.1,434.5 L348.0,434.0 L349.0,433.6 L349.9,433.1 L350.9,432.6 L351.9,432.1 L352.8,431.6 L353.8,431.1 L354.7,430.6 L355.7,430.1 L356.6,429.6 L357.6,429.1 L358.5,428.7 L359.5,428.2 L360.4,427.8 L361.4,427.4 L362.4,427.1 L363.3,426.8 L364.3,426.5 L365.2,426.3 L366.2,426.0 L367.1,425.7 L368.1,425.4 L369.0,425.0 L370.0,424.6 L371.0,424.2 L371.9,423.7 L372.9,423.3 L373.8,422.8 L374.8,422.4 L375.7,421.9 L376.7,421.5 L377.6,421.1 L378.6,420.6 L379.6,420.2 L380.5,419.9 L381.5,419.5 L382.4,419.1 L383.4,418.7 L384.3,418.3 L385.3,417.8 L386.2,417.4 L387.2,416.9 L388.2,416.5 L389.1,416.0 L390.1,415.5 L391.0,415.0 L392.0,414.6 L392.9,414.1 L393.9,413.6 L394.8,413.1 L395.8,412.7 L396.7,412.3 L397.7,411.8 L398.7,411.4 L399.6,411.0 L400.6,410.7 L401.5,410.3 L402.5,410.0 L403.4,409.7 L404.4,409.4 L405.3,409.1 L406.3,408.8 L407.3,408.5 L408.2,408.3 L409.2,408.0 L410.1,407.7 L411.1,407.5 L412.0,407.3 L413.0,407.0 L413.9,406.8 L414.9,406.6 L415.9,406.4 L416.8,406.1 L417.8,405.9 L418.7,405.6 L419.7,405.3 L420.6,405.0 L421.6,404.7 L422.5,404.3 L423.5,403.9 L424.5,403.6 L425.4,403.2 L426.4,402.9 L427.3,402.6 L428.3,402.3 L429.2,402.0 L430.2,401.8 L431.1,401.5 L432.1,401.3 L433.0,401.1 L434.0,400.9 L435.0,400.7 L435.9,400.5 L436.9,400.3 L437.8,400.1 L438.8,400.0 L439.7,399.8 L440.7,399.7 L441.6,399.5 L442.6,399.4 L443.6,399.2 L444.5,399.1 L445.5,398.9 L446.4,398.8 L447.4,398.7 L448.3,398.5 L449.3,398.4 L450.2,398.3 L451.2,398.2 L452.2,398.0 L453.1,397.9 L454.1,397.8 L455.0,397.7 L456.0,397.5 L456.9,397.4 L457.9,397.3 L458.8,397.1 L459.8,396.9 L460.8,396.6" stroke="#F4D10C"/>
</g>
<rect x="260.5" y="363.8" width="209" height="153.7" fill="none" stroke="#333" stroke-width="1"/>
<text transform="translate(273.6,384.6) scale(0.88,1)" x="0" y="0" font-size="17" fill="#1a1a1a">H</text>
<rect x="477.5" y="363.8" width="209" height="153.7" fill="#fff"/>
<path d="M486.70,363.8 V517.5 M534.46,363.8 V517.5 M582.23,363.8 V517.5 M629.99,363.8 V517.5 M677.75,363.8 V517.5 M477.5,510.60 H686.5 M477.5,475.50 H686.5 M477.5,440.40 H686.5 M477.5,405.30 H686.5 M477.5,370.20 H686.5" stroke="#EBEBEB" stroke-width="1.1" fill="none"/>
<g clip-path="url(#cp8)" fill="none" stroke-width="1.75" stroke-linejoin="round" stroke-linecap="butt">
<path d="M486.7,510.6 L487.0,508.7 L487.7,505.4 L488.0,504.1 L488.5,502.8 L488.5,502.8 L488.6,502.7 L489.6,501.7 L490.0,501.4 L490.5,501.0 L491.5,500.6 L491.9,500.5 L492.4,500.3 L493.4,500.0 L494.3,499.7 L494.4,499.7 L495.3,499.6 L495.9,499.5 L496.3,499.5 L496.9,499.4 L497.2,499.4 L498.2,499.3 L499.1,499.2 L500.1,499.1 L501.0,499.0 L502.0,499.0 L502.9,498.9 L503.9,498.9 L504.8,498.9 L505.8,498.9 L506.8,498.9 L507.7,498.9 L508.7,498.9 L509.6,498.9 L510.6,498.9 L511.5,498.8 L512.5,498.8 L513.4,498.8 L514.4,498.8 L515.4,498.8 L516.3,498.8 L517.3,498.7 L518.2,498.6 L519.2,498.6 L520.1,498.5 L521.1,498.4 L522.0,498.4 L523.0,498.3 L524.0,498.3 L524.9,498.2 L525.9,498.2 L526.8,498.2 L527.8,498.1 L528.7,498.1 L529.7,498.0 L530.6,498.0 L531.6,497.9 L532.6,497.9 L533.5,497.9 L534.5,497.8 L535.4,497.8 L536.4,497.8 L537.3,497.7 L538.3,497.7 L539.2,497.6 L540.2,497.6 L541.1,497.5 L542.1,497.5 L543.1,497.4 L544.0,497.4 L545.0,497.3 L545.9,497.2 L546.9,497.2 L547.8,497.1 L548.8,497.0 L549.7,496.9 L550.7,496.9 L551.7,496.8 L552.6,496.7 L553.6,496.6 L554.5,496.5 L555.5,496.4 L556.4,496.3 L557.4,496.2 L558.3,496.1 L559.3,496.0 L560.3,495.9 L561.2,495.8 L562.2,495.7 L563.1,495.6 L564.1,495.5 L565.0,495.4 L566.0,495.3 L566.9,495.2 L567.9,495.1 L568.9,495.0 L569.8,494.9 L570.8,494.8 L571.7,494.7 L572.7,494.6 L573.6,494.6 L574.6,494.5 L575.5,494.4 L576.5,494.4 L577.4,494.3 L578.4,494.2 L579.4,494.2 L580.3,494.1 L581.3,494.1 L582.2,494.0 L583.2,494.0 L584.1,493.9 L585.1,493.9 L586.0,493.9 L587.0,493.8 L588.0,493.8 L588.9,493.7 L589.9,493.7 L590.8,493.6 L591.8,493.6 L592.7,493.5 L593.7,493.5 L594.6,493.5 L595.6,493.4 L596.6,493.4 L597.5,493.3 L598.5,493.3 L599.4,493.3 L600.4,493.3 L601.3,493.3 L602.3,493.3 L603.2,493.2 L604.2,493.2 L605.2,493.1 L606.1,493.1 L607.1,493.1 L608.0,493.0 L609.0,493.0 L609.9,492.9 L610.9,492.9 L611.8,492.9 L612.8,492.8 L613.7,492.8 L614.7,492.7 L615.7,492.7 L616.6,492.7 L617.6,492.6 L618.5,492.6 L619.5,492.6 L620.4,492.5 L621.4,492.5 L622.3,492.4 L623.3,492.4 L624.3,492.4 L625.2,492.3 L626.2,492.3 L627.1,492.3 L628.1,492.2 L629.0,492.2 L630.0,492.2 L630.9,492.1 L631.9,492.1 L632.9,492.1 L633.8,492.0 L634.8,492.0 L635.7,492.0 L636.7,491.9 L637.6,491.9 L638.6,491.9 L639.5,491.8 L640.5,491.8 L641.5,491.8 L642.4,491.7 L643.4,491.7 L644.3,491.7 L645.3,491.6 L646.2,491.6 L647.2,491.6 L648.1,491.6 L649.1,491.5 L650.0,491.5 L651.0,491.5 L652.0,491.4 L652.9,491.4 L653.9,491.4 L654.8,491.4 L655.8,491.3 L656.7,491.3 L657.7,491.3 L658.6,491.2 L659.6,491.2 L660.6,491.2 L661.5,491.2 L662.5,491.1 L663.4,491.1 L664.4,491.1 L665.3,491.0 L666.3,491.0 L667.2,491.0 L668.2,491.0 L669.2,490.9 L670.1,490.9 L671.1,490.9 L672.0,490.8 L673.0,490.8 L673.9,490.8 L674.9,490.8 L675.8,490.7 L676.8,490.7 L677.8,490.7" stroke="#E3262A"/>
<path d="M486.7,510.6 L487.7,508.9 L488.0,508.3 L488.5,507.4 L488.6,507.2 L489.6,505.5 L490.0,504.8 L490.5,503.9 L491.5,502.5 L492.4,501.4 L493.0,500.9 L493.4,500.6 L493.6,500.5 L494.3,500.2 L494.4,500.1 L495.3,499.8 L495.9,499.6 L496.3,499.5 L497.2,499.1 L498.2,498.7 L499.1,498.3 L500.1,498.0 L501.0,497.5 L502.0,497.1 L502.9,496.6 L503.9,496.2 L504.8,495.7 L505.8,495.2 L506.8,494.7 L507.7,494.2 L508.7,493.7 L509.6,493.2 L510.6,492.7 L511.5,492.2 L512.5,491.8 L513.4,491.5 L514.4,491.1 L515.4,490.9 L516.3,490.7 L517.3,490.4 L518.2,490.3 L519.2,490.1 L520.1,489.9 L521.1,489.7 L522.0,489.6 L523.0,489.4 L524.0,489.2 L524.9,489.0 L525.9,488.8 L526.8,488.6 L527.8,488.4 L528.7,488.2 L529.7,488.0 L530.6,487.9 L531.6,487.7 L532.6,487.6 L533.5,487.5 L534.5,487.4 L535.4,487.3 L536.4,487.2 L537.3,487.1 L538.3,487.0 L539.2,486.9 L540.2,486.9 L541.1,486.8 L542.1,486.7 L543.1,486.6 L544.0,486.5 L545.0,486.4 L545.9,486.3 L546.9,486.2 L547.8,486.1 L548.8,485.9 L549.7,485.7 L550.7,485.5 L551.7,485.3 L552.6,485.1 L553.6,484.9 L554.5,484.7 L555.5,484.5 L556.4,484.4 L557.4,484.3 L558.3,484.2 L559.3,484.0 L560.3,483.9 L561.2,483.9 L562.2,483.8 L563.1,483.7 L564.1,483.6 L565.0,483.5 L566.0,483.5 L566.9,483.4 L567.9,483.3 L568.9,483.3 L569.8,483.2 L570.8,483.2 L571.7,483.1 L572.7,483.1 L573.6,483.0 L574.6,483.0 L575.5,482.9 L576.5,482.9 L577.4,482.9 L578.4,482.8 L579.4,482.8 L580.3,482.8 L581.3,482.7 L582.2,482.7 L583.2,482.7 L584.1,482.7 L585.1,482.6 L586.0,482.6 L587.0,482.6 L588.0,482.6 L588.9,482.6 L589.9,482.5 L590.8,482.5 L591.8,482.5 L592.7,482.5 L593.7,482.5 L594.6,482.5 L595.6,482.4 L596.6,482.4 L597.5,482.4 L598.5,482.3 L599.4,482.2 L600.4,482.0 L601.3,481.9 L602.3,481.8 L603.2,481.8 L604.2,481.8 L605.2,481.7 L606.1,481.7 L607.1,481.6 L608.0,481.6 L609.0,481.6 L609.9,481.5 L610.9,481.5 L611.8,481.4 L612.8,481.3 L613.7,481.3 L614.7,481.2 L615.7,481.2 L616.6,481.1 L617.6,481.1 L618.5,481.0 L619.5,480.9 L620.4,480.9 L621.4,480.8 L622.3,480.7 L623.3,480.7 L624.3,480.6 L625.2,480.5 L626.2,480.5 L627.1,480.4 L628.1,480.4 L629.0,480.3 L630.0,480.3 L630.9,480.2 L631.9,480.2 L632.9,480.1 L633.8,480.1 L634.8,480.0 L635.7,480.0 L636.7,479.9 L637.6,479.9 L638.6,479.8 L639.5,479.8 L640.5,479.7 L641.5,479.7 L642.4,479.6 L643.4,479.6 L644.3,479.5 L645.3,479.5 L646.2,479.4 L647.2,479.4 L648.1,479.3 L649.1,479.3 L650.0,479.2 L651.0,479.2 L652.0,479.1 L652.9,479.1 L653.9,479.0 L654.8,479.0 L655.8,479.0 L656.7,478.9 L657.7,478.9 L658.6,478.8 L659.6,478.8 L660.6,478.7 L661.5,478.7 L662.5,478.6 L663.4,478.6 L664.4,478.5 L665.3,478.5 L666.3,478.4 L667.2,478.4 L668.2,478.3 L669.2,478.3 L670.1,478.3 L671.1,478.2 L672.0,478.2 L673.0,478.1 L673.9,478.1 L674.9,478.0 L675.8,478.0 L676.8,477.9 L677.8,477.9" stroke="#8E4FAE"/>
<path d="M486.7,510.6 L487.0,506.5 L487.3,502.3 L487.6,499.4 L487.7,499.3 L488.0,497.9 L488.5,496.1 L488.6,495.8 L489.6,493.7 L490.0,493.0 L490.2,492.6 L490.5,491.9 L491.5,490.3 L491.5,490.3 L492.4,488.9 L493.0,488.2 L493.4,487.7 L493.6,487.5 L494.3,486.6 L495.3,485.6 L495.9,484.9 L496.3,484.6 L497.2,483.8 L497.4,483.6 L498.2,483.0 L499.1,482.2 L500.1,481.2 L501.0,480.3 L502.0,479.5 L502.9,478.7 L503.9,478.0 L504.8,477.2 L505.8,476.5 L506.8,475.8 L507.7,475.2 L508.7,474.5 L509.6,473.8 L510.6,473.1 L511.5,472.4 L512.5,471.7 L513.4,471.0 L514.4,470.3 L515.4,469.6 L516.3,468.9 L517.3,468.3 L518.2,467.7 L519.2,467.0 L520.1,466.5 L521.1,465.9 L522.0,465.3 L523.0,464.7 L524.0,464.1 L524.9,463.5 L525.9,462.9 L526.8,462.4 L527.8,461.9 L528.7,461.5 L529.7,461.1 L530.6,460.8 L531.6,460.4 L532.6,460.1 L533.5,459.8 L534.5,459.6 L535.4,459.3 L536.4,459.0 L537.3,458.8 L538.3,458.5 L539.2,458.2 L540.2,457.9 L541.1,457.6 L542.1,457.3 L543.1,457.0 L544.0,456.6 L545.0,456.3 L545.9,455.9 L546.9,455.6 L547.8,455.3 L548.8,455.0 L549.7,454.7 L550.7,454.4 L551.7,454.1 L552.6,453.8 L553.6,453.5 L554.5,453.2 L555.5,453.0 L556.4,452.7 L557.4,452.4 L558.3,452.1 L559.3,451.8 L560.3,451.5 L561.2,451.2 L562.2,450.9 L563.1,450.6 L564.1,450.4 L565.0,450.1 L566.0,449.9 L566.9,449.6 L567.9,449.4 L568.9,449.2 L569.8,449.0 L570.8,448.9 L571.7,448.7 L572.7,448.5 L573.6,448.3 L574.6,448.1 L575.5,447.9 L576.5,447.6 L577.4,447.4 L578.4,447.1 L579.4,446.9 L580.3,446.6 L581.3,446.3 L582.2,446.1 L583.2,445.8 L584.1,445.5 L585.1,445.2 L586.0,445.0 L587.0,444.7 L588.0,444.5 L588.9,444.2 L589.9,443.9 L590.8,443.7 L591.8,443.5 L592.7,443.3 L593.7,443.1 L594.6,442.9 L595.6,442.7 L596.6,442.5 L597.5,442.3 L598.5,442.1 L599.4,441.9 L600.4,441.8 L601.3,441.6 L602.3,441.4 L603.2,441.2 L604.2,441.0 L605.2,440.8 L606.1,440.6 L607.1,440.4 L608.0,440.2 L609.0,439.9 L609.9,439.7 L610.9,439.5 L611.8,439.2 L612.8,438.9 L613.7,438.6 L614.7,438.3 L615.7,438.0 L616.6,437.7 L617.6,437.4 L618.5,437.1 L619.5,436.9 L620.4,436.7 L621.4,436.5 L622.3,436.2 L623.3,436.1 L624.3,435.9 L625.2,435.7 L626.2,435.5 L627.1,435.4 L628.1,435.3 L629.0,435.2 L630.0,435.0 L630.9,434.9 L631.9,434.8 L632.9,434.8 L633.8,434.7 L634.8,434.6 L635.7,434.5 L636.7,434.5 L637.6,434.4 L638.6,434.3 L639.5,434.3 L640.5,434.2 L641.5,434.2 L642.4,434.1 L643.4,434.1 L644.3,434.0 L645.3,433.9 L646.2,433.8 L647.2,433.7 L648.1,433.5 L649.1,433.4 L650.0,433.2 L651.0,433.1 L652.0,432.9 L652.9,432.8 L653.9,432.7 L654.8,432.6 L655.8,432.5 L656.7,432.4 L657.7,432.3 L658.6,432.2 L659.6,432.1 L660.6,432.0 L661.5,431.9 L662.5,431.8 L663.4,431.7 L664.4,431.6 L665.3,431.5 L666.3,431.4 L667.2,431.3 L668.2,431.2 L669.2,431.1 L670.1,431.0 L671.1,430.9 L672.0,430.8 L673.0,430.7 L673.9,430.6 L674.9,430.5 L675.8,430.3 L676.8,430.2 L677.8,430.2" stroke="#3B4EA6"/>
<path d="M486.7,510.6 L487.6,505.4 L487.7,505.1 L487.9,503.9 L488.6,500.8 L489.0,499.4 L489.6,497.4 L490.0,496.1 L490.5,494.5 L491.0,493.3 L491.5,491.8 L492.4,489.2 L493.4,486.7 L493.9,485.3 L494.3,484.4 L494.4,484.2 L495.3,482.8 L496.3,480.9 L496.9,479.6 L497.2,479.1 L498.2,477.3 L499.1,475.3 L500.1,473.4 L501.0,471.7 L502.0,470.2 L502.9,468.8 L503.9,467.4 L504.8,466.2 L505.8,464.9 L506.8,463.8 L507.7,462.8 L508.7,461.9 L509.6,461.1 L510.6,460.4 L511.5,459.7 L512.5,459.0 L513.4,458.3 L514.4,457.6 L515.4,456.9 L516.3,456.3 L517.3,455.8 L518.2,455.3 L519.2,454.7 L520.1,454.1 L521.1,453.4 L522.0,452.8 L523.0,452.1 L524.0,451.5 L524.9,450.9 L525.9,450.4 L526.8,449.8 L527.8,449.3 L528.7,448.9 L529.7,448.4 L530.6,448.0 L531.6,447.6 L532.6,447.2 L533.5,446.8 L534.5,446.4 L535.4,445.9 L536.4,445.4 L537.3,445.0 L538.3,444.5 L539.2,444.0 L540.2,443.5 L541.1,443.0 L542.1,442.5 L543.1,442.0 L544.0,441.6 L545.0,441.1 L545.9,440.6 L546.9,440.1 L547.8,439.7 L548.8,439.2 L549.7,438.7 L550.7,438.2 L551.7,437.7 L552.6,437.3 L553.6,436.8 L554.5,436.3 L555.5,435.8 L556.4,435.4 L557.4,434.9 L558.3,434.4 L559.3,434.0 L560.3,433.5 L561.2,433.0 L562.2,432.5 L563.1,432.0 L564.1,431.4 L565.0,430.9 L566.0,430.3 L566.9,429.7 L567.9,429.1 L568.9,428.6 L569.8,428.0 L570.8,427.5 L571.7,427.0 L572.7,426.5 L573.6,426.0 L574.6,425.6 L575.5,425.1 L576.5,424.6 L577.4,424.1 L578.4,423.6 L579.4,423.0 L580.3,422.4 L581.3,421.8 L582.2,421.2 L583.2,420.6 L584.1,420.1 L585.1,419.5 L586.0,419.0 L587.0,418.6 L588.0,418.2 L588.9,417.8 L589.9,417.5 L590.8,417.1 L591.8,416.7 L592.7,416.4 L593.7,416.0 L594.6,415.6 L595.6,415.3 L596.6,414.9 L597.5,414.5 L598.5,414.2 L599.4,413.9 L600.4,413.5 L601.3,413.2 L602.3,412.9 L603.2,412.7 L604.2,412.4 L605.2,412.1 L606.1,411.8 L607.1,411.6 L608.0,411.3 L609.0,411.0 L609.9,410.7 L610.9,410.4 L611.8,410.1 L612.8,409.8 L613.7,409.5 L614.7,409.2 L615.7,408.9 L616.6,408.6 L617.6,408.3 L618.5,408.0 L619.5,407.8 L620.4,407.5 L621.4,407.2 L622.3,407.0 L623.3,406.7 L624.3,406.4 L625.2,406.2 L626.2,405.9 L627.1,405.6 L628.1,405.4 L629.0,405.1 L630.0,404.9 L630.9,404.6 L631.9,404.4 L632.9,404.1 L633.8,403.9 L634.8,403.6 L635.7,403.4 L636.7,403.2 L637.6,403.0 L638.6,402.7 L639.5,402.5 L640.5,402.3 L641.5,402.1 L642.4,401.9 L643.4,401.8 L644.3,401.7 L645.3,401.6 L646.2,401.5 L647.2,401.4 L648.1,401.4 L649.1,401.3 L650.0,401.3 L651.0,401.2 L652.0,401.2 L652.9,401.1 L653.9,401.0 L654.8,400.9 L655.8,400.8 L656.7,400.7 L657.7,400.5 L658.6,400.4 L659.6,400.2 L660.6,400.1 L661.5,399.9 L662.5,399.8 L663.4,399.7 L664.4,399.6 L665.3,399.5 L666.3,399.4 L667.2,399.3 L668.2,399.2 L669.2,399.1 L670.1,399.0 L671.1,398.9 L672.0,398.7 L673.0,398.6 L673.9,398.5 L674.9,398.4 L675.8,398.3 L676.8,398.2 L677.8,398.1" stroke="#EE6EA7"/>
<path d="M486.7,510.6 L487.0,497.7 L487.3,492.4 L487.7,488.5 L487.9,486.4 L488.0,485.6 L488.6,480.0 L489.0,477.7 L489.6,475.0 L490.0,473.5 L490.5,471.8 L491.0,470.6 L491.5,469.4 L492.4,467.6 L493.0,466.6 L493.4,465.8 L494.3,464.1 L494.4,464.0 L495.3,462.9 L495.9,462.0 L496.3,461.6 L497.2,460.3 L498.2,458.9 L499.1,457.6 L500.1,456.4 L501.0,455.4 L502.0,454.3 L502.9,453.2 L503.9,452.0 L504.8,451.0 L505.8,450.1 L506.8,449.4 L507.7,448.7 L508.7,448.1 L509.6,447.4 L510.6,446.7 L511.5,446.0 L512.5,445.4 L513.4,444.9 L514.4,444.4 L515.4,443.9 L516.3,443.3 L517.3,442.7 L518.2,442.0 L519.2,441.3 L520.1,440.5 L521.1,439.8 L522.0,439.0 L523.0,438.4 L524.0,437.9 L524.9,437.4 L525.9,436.9 L526.8,436.2 L527.8,435.3 L528.7,434.2 L529.7,433.2 L530.6,432.3 L531.6,431.5 L532.6,430.7 L533.5,430.0 L534.5,429.4 L535.4,428.9 L536.4,428.4 L537.3,427.9 L538.3,427.5 L539.2,427.0 L540.2,426.6 L541.1,426.1 L542.1,425.6 L543.1,425.2 L544.0,424.7 L545.0,424.2 L545.9,423.7 L546.9,423.2 L547.8,422.8 L548.8,422.3 L549.7,421.8 L550.7,421.3 L551.7,420.8 L552.6,420.3 L553.6,419.8 L554.5,419.4 L555.5,419.0 L556.4,418.6 L557.4,418.3 L558.3,418.0 L559.3,417.7 L560.3,417.5 L561.2,417.2 L562.2,416.9 L563.1,416.5 L564.1,416.2 L565.0,415.7 L566.0,415.2 L566.9,414.7 L567.9,414.2 L568.9,413.7 L569.8,413.3 L570.8,412.8 L571.7,412.4 L572.7,412.0 L573.6,411.6 L574.6,411.2 L575.5,410.8 L576.5,410.5 L577.4,410.1 L578.4,409.9 L579.4,409.6 L580.3,409.4 L581.3,409.1 L582.2,408.9 L583.2,408.7 L584.1,408.4 L585.1,408.1 L586.0,407.7 L587.0,407.4 L588.0,407.1 L588.9,406.8 L589.9,406.5 L590.8,406.3 L591.8,406.0 L592.7,405.8 L593.7,405.6 L594.6,405.3 L595.6,405.1 L596.6,404.9 L597.5,404.6 L598.5,404.4 L599.4,404.2 L600.4,404.0 L601.3,403.8 L602.3,403.7 L603.2,403.6 L604.2,403.4 L605.2,403.3 L606.1,403.2 L607.1,403.1 L608.0,403.0 L609.0,402.9 L609.9,402.8 L610.9,402.7 L611.8,402.6 L612.8,402.4 L613.7,402.3 L614.7,402.2 L615.7,402.0 L616.6,401.9 L617.6,401.8 L618.5,401.6 L619.5,401.5 L620.4,401.4 L621.4,401.3 L622.3,401.2 L623.3,401.1 L624.3,401.0 L625.2,401.0 L626.2,400.9 L627.1,400.8 L628.1,400.7 L629.0,400.6 L630.0,400.5 L630.9,400.4 L631.9,400.3 L632.9,400.2 L633.8,400.1 L634.8,400.0 L635.7,399.9 L636.7,399.8 L637.6,399.7 L638.6,399.6 L639.5,399.5 L640.5,399.4 L641.5,399.3 L642.4,399.2 L643.4,399.1 L644.3,399.1 L645.3,399.0 L646.2,398.9 L647.2,398.8 L648.1,398.7 L649.1,398.6 L650.0,398.5 L651.0,398.4 L652.0,398.3 L652.9,398.2 L653.9,398.1 L654.8,398.0 L655.8,397.9 L656.7,397.8 L657.7,397.7 L658.6,397.6 L659.6,397.5 L660.6,397.4 L661.5,397.3 L662.5,397.3 L663.4,397.2 L664.4,397.1 L665.3,397.1 L666.3,397.0 L667.2,397.0 L668.2,396.9 L669.2,396.9 L670.1,396.8 L671.1,396.8 L672.0,396.7 L673.0,396.7 L673.9,396.6 L674.9,396.5 L675.8,396.4 L676.8,396.2 L677.8,396.0" stroke="#67BC4C"/>
<path d="M486.7,510.6 L487.7,510.2 L488.6,509.9 L489.0,509.7 L489.6,509.5 L490.5,509.1 L491.5,508.8 L492.0,508.6 L492.4,508.5 L493.4,508.2 L493.6,508.1 L494.3,507.9 L494.4,507.9 L495.3,507.7 L495.9,507.6 L496.3,507.5 L497.2,507.3 L498.2,506.9 L499.1,506.5 L500.1,505.9 L501.0,505.1 L502.0,504.2 L502.9,503.5 L503.9,502.9 L504.8,502.4 L505.8,502.1 L506.8,501.7 L507.7,501.4 L508.7,501.0 L509.6,500.6 L510.6,500.1 L511.5,499.5 L512.5,498.8 L513.4,498.1 L514.4,497.3 L515.4,496.5 L516.3,495.7 L517.3,494.9 L518.2,494.1 L519.2,493.4 L520.1,492.8 L521.1,492.1 L522.0,491.5 L523.0,490.9 L524.0,490.4 L524.9,489.9 L525.9,489.4 L526.8,489.0 L527.8,488.6 L528.7,488.2 L529.7,487.8 L530.6,487.5 L531.6,487.1 L532.6,486.7 L533.5,486.4 L534.5,486.0 L535.4,485.6 L536.4,485.2 L537.3,484.8 L538.3,484.4 L539.2,484.0 L540.2,483.6 L541.1,483.2 L542.1,482.8 L543.1,482.4 L544.0,482.0 L545.0,481.6 L545.9,481.2 L546.9,480.9 L547.8,480.5 L548.8,480.1 L549.7,479.7 L550.7,479.3 L551.7,478.9 L552.6,478.6 L553.6,478.2 L554.5,477.8 L555.5,477.4 L556.4,477.0 L557.4,476.7 L558.3,476.3 L559.3,475.9 L560.3,475.5 L561.2,475.1 L562.2,474.8 L563.1,474.4 L564.1,474.0 L565.0,473.6 L566.0,473.3 L566.9,472.9 L567.9,472.5 L568.9,472.1 L569.8,471.7 L570.8,471.2 L571.7,470.8 L572.7,470.3 L573.6,469.8 L574.6,469.3 L575.5,468.8 L576.5,468.3 L577.4,467.9 L578.4,467.5 L579.4,467.2 L580.3,466.8 L581.3,466.5 L582.2,466.2 L583.2,465.9 L584.1,465.6 L585.1,465.3 L586.0,465.0 L587.0,464.6 L588.0,464.3 L588.9,463.9 L589.9,463.5 L590.8,463.1 L591.8,462.7 L592.7,462.3 L593.7,461.9 L594.6,461.4 L595.6,460.9 L596.6,460.4 L597.5,459.9 L598.5,459.4 L599.4,458.9 L600.4,458.5 L601.3,458.1 L602.3,457.7 L603.2,457.4 L604.2,457.1 L605.2,456.8 L606.1,456.5 L607.1,456.2 L608.0,455.9 L609.0,455.6 L609.9,455.2 L610.9,454.9 L611.8,454.6 L612.8,454.2 L613.7,453.8 L614.7,453.4 L615.7,453.1 L616.6,452.7 L617.6,452.2 L618.5,451.8 L619.5,451.4 L620.4,450.9 L621.4,450.5 L622.3,450.0 L623.3,449.5 L624.3,449.0 L625.2,448.5 L626.2,448.0 L627.1,447.5 L628.1,447.0 L629.0,446.5 L630.0,446.0 L630.9,445.5 L631.9,445.0 L632.9,444.5 L633.8,444.1 L634.8,443.6 L635.7,443.3 L636.7,442.9 L637.6,442.6 L638.6,442.3 L639.5,442.0 L640.5,441.7 L641.5,441.4 L642.4,441.2 L643.4,440.9 L644.3,440.6 L645.3,440.3 L646.2,440.1 L647.2,439.8 L648.1,439.5 L649.1,439.2 L650.0,438.9 L651.0,438.6 L652.0,438.3 L652.9,438.0 L653.9,437.8 L654.8,437.5 L655.8,437.2 L656.7,436.9 L657.7,436.6 L658.6,436.3 L659.6,436.0 L660.6,435.7 L661.5,435.5 L662.5,435.2 L663.4,435.0 L664.4,434.7 L665.3,434.5 L666.3,434.2 L667.2,434.0 L668.2,433.8 L669.2,433.5 L670.1,433.3 L671.1,433.1 L672.0,432.8 L673.0,432.6 L673.9,432.4 L674.9,432.2 L675.8,431.9 L676.8,431.7 L677.8,431.5" stroke="#4AA8DE"/>
<path d="M486.7,510.6 L487.6,509.9 L487.7,509.8 L488.5,509.2 L488.6,509.1 L489.0,508.8 L489.6,508.2 L490.0,507.8 L490.2,507.6 L490.5,507.2 L491.0,506.5 L491.5,505.5 L492.4,503.4 L493.4,501.0 L493.6,500.6 L493.9,499.6 L494.3,498.3 L494.4,498.1 L495.3,495.9 L496.3,493.1 L496.9,491.3 L496.9,491.3 L497.2,490.7 L498.2,488.6 L499.1,486.1 L500.1,483.6 L501.0,481.6 L502.0,480.1 L502.9,478.7 L503.9,477.5 L504.8,476.4 L505.8,475.3 L506.8,474.3 L507.7,473.3 L508.7,472.4 L509.6,471.4 L510.6,470.3 L511.5,469.2 L512.5,468.1 L513.4,467.1 L514.4,466.3 L515.4,465.7 L516.3,465.1 L517.3,464.7 L518.2,464.3 L519.2,464.0 L520.1,463.7 L521.1,463.5 L522.0,463.2 L523.0,463.0 L524.0,462.7 L524.9,462.5 L525.9,462.1 L526.8,461.6 L527.8,461.1 L528.7,460.5 L529.7,459.9 L530.6,459.4 L531.6,458.9 L532.6,458.4 L533.5,458.0 L534.5,457.5 L535.4,457.0 L536.4,456.5 L537.3,456.1 L538.3,455.6 L539.2,455.1 L540.2,454.6 L541.1,454.1 L542.1,453.6 L543.1,453.2 L544.0,452.7 L545.0,452.2 L545.9,451.7 L546.9,451.3 L547.8,450.8 L548.8,450.4 L549.7,450.0 L550.7,449.6 L551.7,449.2 L552.6,448.8 L553.6,448.4 L554.5,448.1 L555.5,447.7 L556.4,447.4 L557.4,447.1 L558.3,446.8 L559.3,446.5 L560.3,446.2 L561.2,445.9 L562.2,445.6 L563.1,445.4 L564.1,445.1 L565.0,444.8 L566.0,444.5 L566.9,444.3 L567.9,444.0 L568.9,443.7 L569.8,443.5 L570.8,443.2 L571.7,442.9 L572.7,442.6 L573.6,442.2 L574.6,441.7 L575.5,441.2 L576.5,440.6 L577.4,440.1 L578.4,439.5 L579.4,439.0 L580.3,438.5 L581.3,438.1 L582.2,437.7 L583.2,437.4 L584.1,437.1 L585.1,436.8 L586.0,436.4 L587.0,436.1 L588.0,435.7 L588.9,435.4 L589.9,435.1 L590.8,434.8 L591.8,434.4 L592.7,434.1 L593.7,433.9 L594.6,433.6 L595.6,433.4 L596.6,433.2 L597.5,433.0 L598.5,432.8 L599.4,432.6 L600.4,432.4 L601.3,432.1 L602.3,431.9 L603.2,431.6 L604.2,431.3 L605.2,431.0 L606.1,430.7 L607.1,430.3 L608.0,429.9 L609.0,429.6 L609.9,429.2 L610.9,428.7 L611.8,428.3 L612.8,427.8 L613.7,427.3 L614.7,426.8 L615.7,426.3 L616.6,425.9 L617.6,425.4 L618.5,425.0 L619.5,424.7 L620.4,424.4 L621.4,424.1 L622.3,423.8 L623.3,423.5 L624.3,423.2 L625.2,423.0 L626.2,422.7 L627.1,422.4 L628.1,422.2 L629.0,421.9 L630.0,421.7 L630.9,421.5 L631.9,421.2 L632.9,421.0 L633.8,420.7 L634.8,420.5 L635.7,420.2 L636.7,419.8 L637.6,419.4 L638.6,419.0 L639.5,418.6 L640.5,418.1 L641.5,417.7 L642.4,417.3 L643.4,416.8 L644.3,416.5 L645.3,416.1 L646.2,415.8 L647.2,415.5 L648.1,415.2 L649.1,414.9 L650.0,414.6 L651.0,414.4 L652.0,414.1 L652.9,413.8 L653.9,413.5 L654.8,413.3 L655.8,413.0 L656.7,412.7 L657.7,412.4 L658.6,412.1 L659.6,411.8 L660.6,411.5 L661.5,411.2 L662.5,411.0 L663.4,410.7 L664.4,410.4 L665.3,410.1 L666.3,409.8 L667.2,409.5 L668.2,409.3 L669.2,409.0 L670.1,408.7 L671.1,408.4 L672.0,408.1 L673.0,407.8 L673.9,407.4 L674.9,407.1 L675.8,406.8 L676.8,406.5 L677.8,406.3" stroke="#F4D10C"/>
</g>
<rect x="477.5" y="363.8" width="209" height="153.7" fill="none" stroke="#333" stroke-width="1"/>
<text transform="translate(490.6,384.6) scale(0.88,1)" x="0" y="0" font-size="17" fill="#1a1a1a">I</text>
<defs>
<clipPath id="cp0"><rect x="43.5" y="41.9" width="209" height="153.7"/></clipPath>
<clipPath id="cp1"><rect x="260.5" y="41.9" width="209" height="153.7"/></clipPath>
<clipPath id="cp2"><rect x="477.5" y="41.9" width="209" height="153.7"/></clipPath>
<clipPath id="cp3"><rect x="43.5" y="202.8" width="209" height="153.7"/></clipPath>
<clipPath id="cp4"><rect x="260.5" y="202.8" width="209" height="153.7"/></clipPath>
<clipPath id="cp5"><rect x="477.5" y="202.8" width="209" height="153.7"/></clipPath>
<clipPath id="cp6"><rect x="43.5" y="363.8" width="209" height="153.7"/></clipPath>
<clipPath id="cp7"><rect x="260.5" y="363.8" width="209" height="153.7"/></clipPath>
<clipPath id="cp8"><rect x="477.5" y="363.8" width="209" height="153.7"/></clipPath>
</defs>
<path d="M39.8,189.00 H43.5" stroke="#333" stroke-width="1.4"/>
<text x="38" y="193.40" font-size="12.4" fill="#4D4D4D" text-anchor="end">0</text>
<path d="M39.8,153.90 H43.5" stroke="#333" stroke-width="1.4"/>
<text x="38" y="158.30" font-size="12.4" fill="#4D4D4D" text-anchor="end">0.25</text>
<path d="M39.8,118.80 H43.5" stroke="#333" stroke-width="1.4"/>
<text x="38" y="123.20" font-size="12.4" fill="#4D4D4D" text-anchor="end">0.5</text>
<path d="M39.8,83.70 H43.5" stroke="#333" stroke-width="1.4"/>
<text x="38" y="88.10" font-size="12.4" fill="#4D4D4D" text-anchor="end">0.75</text>
<path d="M39.8,48.60 H43.5" stroke="#333" stroke-width="1.4"/>
<text x="38" y="53.00" font-size="12.4" fill="#4D4D4D" text-anchor="end">1</text>
<path d="M39.8,349.80 H43.5" stroke="#333" stroke-width="1.4"/>
<text x="38" y="354.20" font-size="12.4" fill="#4D4D4D" text-anchor="end">0</text>
<path d="M39.8,314.70 H43.5" stroke="#333" stroke-width="1.4"/>
<text x="38" y="319.10" font-size="12.4" fill="#4D4D4D" text-anchor="end">0.25</text>
<path d="M39.8,279.60 H43.5" stroke="#333" stroke-width="1.4"/>
<text x="38" y="284.00" font-size="12.4" fill="#4D4D4D" text-anchor="end">0.5</text>
<path d="M39.8,244.50 H43.5" stroke="#333" stroke-width="1.4"/>
<text x="38" y="248.90" font-size="12.4" fill="#4D4D4D" text-anchor="end">0.75</text>
<path d="M39.8,209.40 H43.5" stroke="#333" stroke-width="1.4"/>
<text x="38" y="213.80" font-size="12.4" fill="#4D4D4D" text-anchor="end">1</text>
<path d="M39.8,510.60 H43.5" stroke="#333" stroke-width="1.4"/>
<text x="38" y="515.00" font-size="12.4" fill="#4D4D4D" text-anchor="end">0</text>
<path d="M39.8,475.50 H43.5" stroke="#333" stroke-width="1.4"/>
<text x="38" y="479.90" font-size="12.4" fill="#4D4D4D" text-anchor="end">0.25</text>
<path d="M39.8,440.40 H43.5" stroke="#333" stroke-width="1.4"/>
<text x="38" y="444.80" font-size="12.4" fill="#4D4D4D" text-anchor="end">0.5</text>
<path d="M39.8,405.30 H43.5" stroke="#333" stroke-width="1.4"/>
<text x="38" y="409.70" font-size="12.4" fill="#4D4D4D" text-anchor="end">0.75</text>
<path d="M39.8,370.20 H43.5" stroke="#333" stroke-width="1.4"/>
<text x="38" y="374.60" font-size="12.4" fill="#4D4D4D" text-anchor="end">1</text>
<path d="M52.70,517.5 V520.8" stroke="#333" stroke-width="1.4"/>
<text x="52.25" y="532.30" font-size="12.4" fill="#4D4D4D" text-anchor="middle">0</text>
<path d="M100.46,517.5 V520.8" stroke="#333" stroke-width="1.4"/>
<text x="98.45" y="532.30" font-size="12.4" fill="#4D4D4D" text-anchor="middle">0.025</text>
<path d="M148.23,517.5 V520.8" stroke="#333" stroke-width="1.4"/>
<text x="146.66" y="532.30" font-size="12.4" fill="#4D4D4D" text-anchor="middle">0.05</text>
<path d="M195.99,517.5 V520.8" stroke="#333" stroke-width="1.4"/>
<text x="193.97" y="532.30" font-size="12.4" fill="#4D4D4D" text-anchor="middle">0.075</text>
<path d="M243.75,517.5 V520.8" stroke="#333" stroke-width="1.4"/>
<text x="242.63" y="532.30" font-size="12.4" fill="#4D4D4D" text-anchor="middle">0.1</text>
<path d="M269.70,517.5 V520.8" stroke="#333" stroke-width="1.4"/>
<text x="269.25" y="532.30" font-size="12.4" fill="#4D4D4D" text-anchor="middle">0</text>
<path d="M317.46,517.5 V520.8" stroke="#333" stroke-width="1.4"/>
<text x="315.45" y="532.30" font-size="12.4" fill="#4D4D4D" text-anchor="middle">0.025</text>
<path d="M365.23,517.5 V520.8" stroke="#333" stroke-width="1.4"/>
<text x="363.66" y="532.30" font-size="12.4" fill="#4D4D4D" text-anchor="middle">0.05</text>
<path d="M412.99,517.5 V520.8" stroke="#333" stroke-width="1.4"/>
<text x="410.97" y="532.30" font-size="12.4" fill="#4D4D4D" text-anchor="middle">0.075</text>
<path d="M460.75,517.5 V520.8" stroke="#333" stroke-width="1.4"/>
<text x="459.63" y="532.30" font-size="12.4" fill="#4D4D4D" text-anchor="middle">0.1</text>
<path d="M486.70,517.5 V520.8" stroke="#333" stroke-width="1.4"/>
<text x="486.25" y="532.30" font-size="12.4" fill="#4D4D4D" text-anchor="middle">0</text>
<path d="M534.46,517.5 V520.8" stroke="#333" stroke-width="1.4"/>
<text x="532.45" y="532.30" font-size="12.4" fill="#4D4D4D" text-anchor="middle">0.025</text>
<path d="M582.23,517.5 V520.8" stroke="#333" stroke-width="1.4"/>
<text x="580.66" y="532.30" font-size="12.4" fill="#4D4D4D" text-anchor="middle">0.05</text>
<path d="M629.99,517.5 V520.8" stroke="#333" stroke-width="1.4"/>
<text x="627.97" y="532.30" font-size="12.4" fill="#4D4D4D" text-anchor="middle">0.075</text>
<path d="M677.75,517.5 V520.8" stroke="#333" stroke-width="1.4"/>
<text x="676.63" y="532.30" font-size="12.4" fill="#4D4D4D" text-anchor="middle">0.1</text>
<text x="367.4" y="549.6" font-size="15.2" fill="#000" text-anchor="middle" textLength="29.6" lengthAdjust="spacingAndGlyphs">FPR</text>
<text transform="translate(10.9,277.5) rotate(-90)" x="0" y="0" font-size="15" fill="#000" text-anchor="middle" textLength="30" lengthAdjust="spacingAndGlyphs">TPR</text>
<rect x="196.5" y="555.5" width="346.5" height="22" fill="#fff" stroke="#333" stroke-width="1"/>
<path d="M201,567.2 H214" stroke="#E3262A" stroke-width="1.5"/>
<text x="219" y="571.3" font-size="12.3" fill="#1a1a1a">LOD</text>
<path d="M248.2,567.2 H261.2" stroke="#8E4FAE" stroke-width="1.5"/>
<text x="266.3" y="571.3" font-size="12.3" fill="#1a1a1a">ND</text>
<path d="M291,567.2 H304" stroke="#3B4EA6" stroke-width="1.5"/>
<text x="310.4" y="571.3" font-size="12.3" fill="#1a1a1a">kNN</text>
<path d="M339,567.2 H352" stroke="#EE6EA7" stroke-width="1.5"/>
<text x="358.4" y="571.3" font-size="12.3" fill="#1a1a1a">LLS</text>
<path d="M389,567.2 H402" stroke="#67BC4C" stroke-width="1.5"/>
<text x="408.8" y="571.3" font-size="12.3" fill="#1a1a1a">RF</text>
<path d="M432.8,567.2 H445.8" stroke="#4AA8DE" stroke-width="1.5"/>
<text x="450.8" y="571.3" font-size="12.3" fill="#1a1a1a">SVD</text>
<path d="M480.4,567.2 H493.4" stroke="#F4D10C" stroke-width="1.5"/>
<text x="498.7" y="571.3" font-size="12.3" fill="#1a1a1a">BPCA</text>
</svg></body></html>
